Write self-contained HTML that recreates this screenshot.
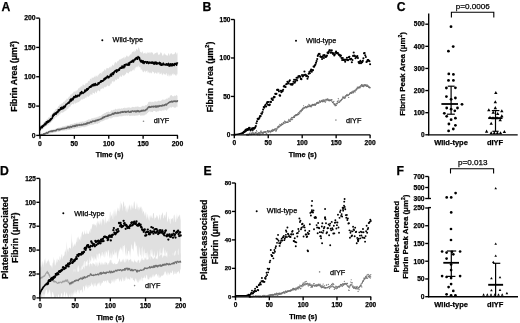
<!DOCTYPE html>
<html><head><meta charset="utf-8"><style>
html,body{margin:0;padding:0;background:#fff;width:520px;height:323px;overflow:hidden}
svg{display:block;font-family:"Liberation Sans",sans-serif;will-change:transform}
</style></head><body>
<svg width="520" height="323" viewBox="0 0 520 323">
<rect width="520" height="323" fill="#fff"/>
<text x="1.60" y="10.60" font-size="12.2" font-weight="bold" text-anchor="start" fill="#000" stroke="#000" stroke-width="0.25">A</text>
<text x="202.60" y="11.00" font-size="12.2" font-weight="bold" text-anchor="start" fill="#000" stroke="#000" stroke-width="0.25">B</text>
<text x="396.80" y="11.00" font-size="12.2" font-weight="bold" text-anchor="start" fill="#000" stroke="#000" stroke-width="0.25">C</text>
<text x="0.00" y="174.60" font-size="12.2" font-weight="bold" text-anchor="start" fill="#000" stroke="#000" stroke-width="0.25">D</text>
<text x="203.40" y="174.70" font-size="12.2" font-weight="bold" text-anchor="start" fill="#000" stroke="#000" stroke-width="0.25">E</text>
<text x="396.60" y="174.60" font-size="12.2" font-weight="bold" text-anchor="start" fill="#000" stroke="#000" stroke-width="0.25">F</text>
<polygon points="40.00,126.35 40.46,125.54 40.92,125.48 41.38,125.35 41.83,124.55 42.29,124.63 42.75,124.17 43.21,123.09 43.67,122.30 44.12,122.11 44.58,122.09 45.04,121.21 45.50,121.05 45.96,120.72 46.42,119.85 46.88,119.36 47.33,118.99 47.79,118.64 48.25,117.62 48.71,117.40 49.17,117.61 49.62,117.25 50.08,116.08 50.54,115.35 51.00,114.58 51.46,115.17 51.92,113.38 52.38,112.66 52.83,113.23 53.29,111.67 53.75,112.10 54.21,110.38 54.67,111.06 55.12,110.58 55.58,109.07 56.04,108.90 56.50,108.94 56.96,108.52 57.42,108.04 57.88,107.39 58.33,105.71 58.79,106.24 59.25,105.88 59.71,104.34 60.17,105.04 60.62,104.42 61.08,103.22 61.54,103.74 62.00,103.81 62.46,103.28 62.92,102.79 63.38,101.50 63.83,101.88 64.29,102.15 64.75,100.39 65.21,101.06 65.67,99.70 66.12,100.19 66.58,98.45 67.04,98.80 67.50,99.02 67.96,98.16 68.42,97.64 68.88,96.52 69.33,96.83 69.79,96.55 70.25,95.12 70.71,94.52 71.17,93.44 71.62,94.81 72.08,93.58 72.54,93.73 73.00,92.56 73.46,92.60 73.92,90.95 74.38,91.16 74.83,91.92 75.29,91.91 75.75,90.22 76.21,91.38 76.67,90.14 77.12,90.22 77.58,90.48 78.04,88.79 78.50,88.50 78.96,87.99 79.42,88.57 79.88,86.97 80.33,87.66 80.79,86.27 81.25,86.42 81.71,86.11 82.17,86.90 82.62,84.51 83.08,84.84 83.54,84.53 84.00,84.94 84.46,85.52 84.92,85.37 85.38,83.99 85.83,83.11 86.29,82.92 86.75,83.42 87.21,82.91 87.67,82.77 88.12,80.57 88.58,81.36 89.04,81.27 89.50,81.20 89.96,79.19 90.42,78.57 90.88,78.95 91.33,79.75 91.79,77.43 92.25,77.36 92.71,78.14 93.17,77.44 93.62,77.94 94.08,76.61 94.54,77.32 95.00,75.23 95.46,77.72 95.92,75.31 96.38,75.66 96.83,76.52 97.29,77.06 97.75,75.51 98.21,74.13 98.67,75.83 99.12,74.12 99.58,73.83 100.04,73.01 100.50,73.02 100.96,73.27 101.42,74.27 101.88,71.87 102.33,72.80 102.79,71.21 103.25,71.10 103.71,71.39 104.17,69.54 104.62,69.11 105.08,71.15 105.54,69.46 106.00,69.95 106.46,68.24 106.92,67.81 107.38,68.43 107.83,67.99 108.29,67.99 108.75,69.01 109.21,66.52 109.67,67.59 110.12,67.94 110.58,66.00 111.04,67.93 111.50,66.20 111.96,66.03 112.42,64.72 112.88,64.40 113.33,65.42 113.79,65.64 114.25,64.18 114.71,62.86 115.17,62.19 115.62,61.83 116.08,63.65 116.54,63.10 117.00,61.71 117.46,60.75 117.92,61.99 118.38,60.04 118.83,61.60 119.29,58.97 119.75,59.81 120.21,59.67 120.67,59.22 121.12,57.89 121.58,59.36 122.04,58.63 122.50,58.01 122.96,58.23 123.42,56.73 123.88,58.57 124.33,58.76 124.79,56.44 125.25,57.24 125.71,57.87 126.17,55.41 126.62,55.62 127.08,57.17 127.54,55.44 128.00,56.22 128.46,56.75 128.92,56.46 129.38,55.84 129.83,54.73 130.29,54.85 130.75,54.03 131.21,54.68 131.67,53.00 132.12,52.00 132.58,51.64 133.04,51.64 133.50,50.80 133.96,52.25 134.42,52.20 134.88,49.81 135.33,51.48 135.79,51.10 136.25,49.02 136.71,48.82 137.17,49.68 137.62,50.55 138.08,48.15 138.54,46.93 139.00,48.04 139.46,48.93 139.92,51.00 140.38,52.35 140.83,51.95 141.29,52.03 141.75,53.37 142.21,51.42 142.67,51.28 143.12,54.15 143.58,53.01 144.04,53.57 144.50,53.10 144.96,52.85 145.42,52.54 145.88,54.22 146.33,52.43 146.79,54.20 147.25,53.18 147.71,51.96 148.17,52.58 148.62,52.83 149.08,52.94 149.54,51.69 150.00,54.08 150.46,52.49 150.92,52.26 151.38,52.00 151.83,52.67 152.29,52.46 152.75,52.63 153.21,53.93 153.67,55.07 154.12,53.00 154.58,54.40 155.04,52.97 155.50,53.02 155.96,53.48 156.42,51.93 156.88,52.97 157.33,52.06 157.79,53.32 158.25,54.58 158.71,55.31 159.17,54.23 159.62,54.70 160.08,53.73 160.54,52.35 161.00,52.30 161.46,52.99 161.92,53.77 162.38,55.74 162.83,55.40 163.29,55.42 163.75,53.93 164.21,52.82 164.67,54.33 165.12,54.95 165.58,53.98 166.04,55.34 166.50,55.35 166.96,55.58 167.42,55.88 167.88,55.03 168.33,53.74 168.79,52.86 169.25,56.10 169.71,54.81 170.17,52.84 170.62,54.44 171.08,53.70 171.54,52.76 172.00,54.05 172.46,53.88 172.92,55.31 173.38,54.04 173.83,54.26 174.29,54.12 174.75,53.56 175.21,52.75 175.67,51.84 176.12,52.71 176.58,54.90 177.04,52.34 177.50,53.81 177.50,73.56 177.04,74.92 176.58,75.96 176.12,73.61 175.67,76.29 175.21,74.80 174.75,74.44 174.29,73.93 173.83,75.46 173.38,73.54 172.92,73.34 172.46,74.86 172.00,73.68 171.54,76.23 171.08,74.95 170.62,76.62 170.17,74.11 169.71,74.93 169.25,76.44 168.79,76.56 168.33,73.35 167.88,76.34 167.42,75.81 166.96,73.28 166.50,73.09 166.04,75.48 165.58,74.84 165.12,73.78 164.67,74.79 164.21,74.07 163.75,72.72 163.29,74.15 162.83,73.98 162.38,75.48 161.92,74.79 161.46,72.34 161.00,74.19 160.54,73.86 160.08,73.56 159.62,74.83 159.17,71.99 158.71,72.25 158.25,72.88 157.79,73.96 157.33,71.46 156.88,73.89 156.42,73.42 155.96,72.50 155.50,73.03 155.04,72.18 154.58,74.15 154.12,73.00 153.67,72.03 153.21,72.34 152.75,70.95 152.29,71.99 151.83,73.13 151.38,73.45 150.92,71.84 150.46,73.01 150.00,73.40 149.54,73.00 149.08,71.97 148.62,71.59 148.17,73.03 147.71,72.79 147.25,70.19 146.79,70.63 146.33,71.36 145.88,71.46 145.42,72.67 144.96,69.95 144.50,71.23 144.04,71.17 143.58,71.96 143.12,72.38 142.67,69.49 142.21,72.16 141.75,69.50 141.29,69.15 140.83,70.15 140.38,67.61 139.92,66.59 139.46,67.39 139.00,66.69 138.54,64.98 138.08,67.75 137.62,65.84 137.17,67.63 136.71,66.19 136.25,67.40 135.79,66.71 135.33,68.95 134.88,67.43 134.42,70.41 133.96,70.51 133.50,68.98 133.04,70.84 132.58,69.40 132.12,70.90 131.67,70.98 131.21,71.63 130.75,70.52 130.29,71.63 129.83,72.04 129.38,71.56 128.92,72.73 128.46,73.62 128.00,73.50 127.54,72.81 127.08,72.75 126.62,72.34 126.17,72.89 125.71,74.59 125.25,73.89 124.79,75.88 124.33,74.69 123.88,75.03 123.42,76.62 122.96,75.30 122.50,74.48 122.04,75.99 121.58,77.14 121.12,76.51 120.67,75.27 120.21,76.92 119.75,76.26 119.29,77.56 118.83,78.88 118.38,79.36 117.92,78.14 117.46,79.01 117.00,79.24 116.54,80.19 116.08,79.92 115.62,78.95 115.17,80.49 114.71,81.42 114.25,81.86 113.79,80.49 113.33,82.73 112.88,81.25 112.42,81.26 111.96,81.50 111.50,84.03 111.04,83.40 110.58,83.47 110.12,85.47 109.67,85.39 109.21,86.16 108.75,86.16 108.29,85.85 107.83,86.36 107.38,84.79 106.92,85.77 106.46,86.97 106.00,86.53 105.54,87.75 105.08,86.64 104.62,87.72 104.17,86.20 103.71,88.60 103.25,88.83 102.79,88.49 102.33,88.32 101.88,88.17 101.42,89.37 100.96,88.86 100.50,89.26 100.04,91.80 99.58,91.20 99.12,90.88 98.67,90.01 98.21,90.84 97.75,90.51 97.29,91.11 96.83,93.28 96.38,92.93 95.92,91.51 95.46,91.59 95.00,92.90 94.54,94.06 94.08,93.13 93.62,92.96 93.17,92.63 92.71,92.44 92.25,94.89 91.79,94.90 91.33,94.23 90.88,94.05 90.42,94.53 89.96,96.23 89.50,95.24 89.04,96.14 88.58,97.01 88.12,96.68 87.67,95.71 87.21,97.29 86.75,95.89 86.29,98.44 85.83,97.67 85.38,97.25 84.92,98.32 84.46,98.84 84.00,99.21 83.54,98.77 83.08,98.48 82.62,99.79 82.17,99.40 81.71,99.57 81.25,99.34 80.79,100.08 80.33,100.87 79.88,101.35 79.42,101.24 78.96,102.05 78.50,101.89 78.04,102.52 77.58,101.94 77.12,103.10 76.67,102.71 76.21,102.70 75.75,103.57 75.29,103.65 74.83,102.02 74.38,103.45 73.92,103.90 73.46,104.68 73.00,103.46 72.54,104.24 72.08,103.94 71.62,104.66 71.17,104.86 70.71,105.42 70.25,106.94 69.79,106.15 69.33,107.50 68.88,107.10 68.42,108.51 67.96,108.69 67.50,109.58 67.04,108.41 66.58,109.74 66.12,110.77 65.67,111.16 65.21,110.23 64.75,111.76 64.29,111.00 63.83,112.58 63.38,112.12 62.92,112.26 62.46,112.71 62.00,112.88 61.54,112.23 61.08,112.85 60.62,112.94 60.17,114.47 59.71,114.31 59.25,114.32 58.79,115.50 58.33,115.77 57.88,115.36 57.42,115.99 56.96,116.74 56.50,117.27 56.04,117.25 55.58,117.27 55.12,117.52 54.67,118.19 54.21,119.31 53.75,119.13 53.29,119.45 52.83,120.45 52.38,120.66 51.92,121.28 51.46,121.46 51.00,122.79 50.54,122.73 50.08,123.27 49.62,123.36 49.17,123.85 48.71,124.71 48.25,125.33 47.79,124.80 47.33,125.53 46.88,125.79 46.42,126.30 45.96,126.23 45.50,126.40 45.04,126.63 44.58,127.00 44.12,128.00 43.67,128.74 43.21,128.26 42.75,129.39 42.29,129.29 41.83,130.04 41.38,130.09 40.92,130.46 40.46,130.67 40.00,131.05" fill="#dedede" stroke="none" opacity="1.0"/>
<polygon points="40.00,134.24 40.46,133.97 40.92,134.06 41.38,133.76 41.83,133.38 42.29,133.25 42.75,133.25 43.21,133.05 43.67,132.91 44.12,132.71 44.58,132.40 45.04,131.97 45.50,132.16 45.96,131.75 46.42,131.31 46.88,131.57 47.33,131.37 47.79,130.92 48.25,130.69 48.71,130.78 49.17,130.51 49.62,130.27 50.08,130.25 50.54,129.93 51.00,129.65 51.46,129.87 51.92,129.54 52.38,129.74 52.83,129.46 53.29,129.06 53.75,129.40 54.21,129.02 54.67,129.01 55.12,128.78 55.58,128.83 56.04,128.64 56.50,128.60 56.96,128.26 57.42,128.32 57.88,128.08 58.33,127.76 58.79,127.62 59.25,127.71 59.71,127.43 60.17,127.02 60.62,127.42 61.08,126.73 61.54,126.98 62.00,126.99 62.46,126.15 62.92,126.37 63.38,126.39 63.83,125.89 64.29,126.24 64.75,125.94 65.21,126.00 65.67,125.39 66.12,125.76 66.58,125.67 67.04,125.36 67.50,125.10 67.96,125.34 68.42,124.89 68.88,125.25 69.33,124.90 69.79,124.77 70.25,124.56 70.71,124.11 71.17,124.12 71.62,124.14 72.08,123.83 72.54,124.09 73.00,123.61 73.46,124.13 73.92,123.19 74.38,123.06 74.83,123.27 75.29,123.29 75.75,123.19 76.21,122.53 76.67,122.77 77.12,123.04 77.58,122.38 78.04,122.72 78.50,122.55 78.96,122.63 79.42,122.38 79.88,121.85 80.33,121.58 80.79,122.38 81.25,121.88 81.71,121.56 82.17,121.89 82.62,121.10 83.08,121.59 83.54,121.65 84.00,121.54 84.46,121.16 84.92,121.38 85.38,120.77 85.83,120.97 86.29,120.19 86.75,120.68 87.21,119.96 87.67,119.89 88.12,119.42 88.58,119.56 89.04,119.35 89.50,119.43 89.96,119.48 90.42,119.40 90.88,119.22 91.33,118.46 91.79,118.16 92.25,118.62 92.71,117.94 93.17,118.66 93.62,117.75 94.08,117.70 94.54,117.76 95.00,117.87 95.46,117.77 95.92,117.18 96.38,117.73 96.83,116.75 97.29,117.65 97.75,116.49 98.21,116.83 98.67,116.66 99.12,115.78 99.58,116.29 100.04,116.27 100.50,116.05 100.96,115.64 101.42,115.25 101.88,115.15 102.33,114.11 102.79,114.77 103.25,114.02 103.71,113.80 104.17,113.23 104.62,113.19 105.08,112.98 105.54,113.07 106.00,112.54 106.46,112.11 106.92,112.02 107.38,111.73 107.83,112.20 108.29,111.81 108.75,111.35 109.21,112.14 109.67,111.94 110.12,111.86 110.58,111.56 111.04,110.76 111.50,110.15 111.96,109.99 112.42,110.73 112.88,110.24 113.33,109.71 113.79,109.81 114.25,110.02 114.71,109.38 115.17,108.79 115.62,108.79 116.08,109.54 116.54,109.07 117.00,109.77 117.46,109.08 117.92,108.55 118.38,109.13 118.83,108.36 119.29,108.79 119.75,108.53 120.21,108.81 120.67,108.70 121.12,108.98 121.58,107.79 122.04,108.67 122.50,108.80 122.96,108.00 123.42,108.05 123.88,107.93 124.33,108.23 124.79,107.21 125.25,107.86 125.71,108.29 126.17,108.21 126.62,107.95 127.08,107.11 127.54,107.93 128.00,107.81 128.46,107.41 128.92,107.34 129.38,107.91 129.83,106.82 130.29,107.96 130.75,107.77 131.21,107.81 131.67,107.18 132.12,107.22 132.58,106.64 133.04,106.64 133.50,107.30 133.96,106.89 134.42,107.56 134.88,106.80 135.33,106.85 135.79,106.72 136.25,107.29 136.71,106.36 137.17,107.07 137.62,106.25 138.08,106.30 138.54,107.05 139.00,106.86 139.46,107.37 139.92,106.93 140.38,107.17 140.83,106.73 141.29,106.34 141.75,107.00 142.21,105.84 142.67,105.68 143.12,106.52 143.58,105.62 144.04,106.14 144.50,106.56 144.96,105.29 145.42,105.49 145.88,104.86 146.33,104.90 146.79,105.42 147.25,104.18 147.71,103.93 148.17,102.51 148.62,101.78 149.08,102.22 149.54,101.69 150.00,101.56 150.46,101.68 150.92,101.92 151.38,102.54 151.83,101.53 152.29,101.94 152.75,101.64 153.21,101.63 153.67,102.20 154.12,102.43 154.58,100.93 155.04,101.52 155.50,100.85 155.96,102.16 156.42,100.93 156.88,101.99 157.33,101.13 157.79,101.18 158.25,100.75 158.71,100.64 159.17,100.51 159.62,101.45 160.08,100.53 160.54,101.36 161.00,100.67 161.46,100.29 161.92,100.24 162.38,99.45 162.83,99.39 163.29,99.16 163.75,100.19 164.21,99.44 164.67,100.18 165.12,98.66 165.58,100.01 166.04,98.69 166.50,98.24 166.96,99.16 167.42,99.00 167.88,97.38 168.33,97.57 168.79,98.05 169.25,97.93 169.71,96.75 170.17,95.48 170.62,95.59 171.08,95.36 171.54,94.92 172.00,95.50 172.46,96.47 172.92,95.90 173.38,96.36 173.83,96.38 174.29,96.05 174.75,95.31 175.21,95.79 175.67,96.23 176.12,94.76 176.58,95.27 177.04,95.46 177.50,95.88 177.50,107.43 177.04,106.55 176.58,106.50 176.12,107.52 175.67,108.14 175.21,106.97 174.75,107.21 174.29,108.14 173.83,107.40 173.38,106.97 172.92,106.44 172.46,107.06 172.00,107.29 171.54,107.77 171.08,107.49 170.62,107.01 170.17,107.45 169.71,108.54 169.25,107.34 168.79,107.93 168.33,108.78 167.88,109.90 167.42,108.67 166.96,110.65 166.50,110.50 166.04,110.38 165.58,109.99 165.12,109.38 164.67,109.56 164.21,110.72 163.75,111.20 163.29,109.67 162.83,110.21 162.38,110.26 161.92,111.58 161.46,110.84 161.00,110.53 160.54,110.90 160.08,110.73 159.62,110.21 159.17,111.02 158.71,110.83 158.25,111.85 157.79,111.71 157.33,111.04 156.88,111.31 156.42,112.32 155.96,112.06 155.50,111.56 155.04,110.88 154.58,110.91 154.12,110.75 153.67,110.83 153.21,111.31 152.75,112.17 152.29,112.03 151.83,111.98 151.38,111.42 150.92,112.40 150.46,111.64 150.00,110.82 149.54,111.41 149.08,111.70 148.62,112.29 148.17,111.93 147.71,113.18 147.25,113.01 146.79,113.84 146.33,114.21 145.88,115.10 145.42,114.29 144.96,114.42 144.50,115.30 144.04,115.73 143.58,115.71 143.12,114.82 142.67,115.37 142.21,115.99 141.75,114.94 141.29,116.06 140.83,115.39 140.38,115.94 139.92,114.92 139.46,114.87 139.00,114.80 138.54,115.13 138.08,115.40 137.62,115.01 137.17,116.27 136.71,116.02 136.25,114.89 135.79,115.40 135.33,115.81 134.88,115.66 134.42,115.71 133.96,116.05 133.50,115.48 133.04,115.54 132.58,115.65 132.12,115.68 131.67,115.92 131.21,115.29 130.75,116.24 130.29,115.66 129.83,116.01 129.38,116.21 128.92,115.20 128.46,115.18 128.00,115.81 127.54,116.02 127.08,115.52 126.62,115.61 126.17,115.58 125.71,115.69 125.25,115.79 124.79,115.62 124.33,115.69 123.88,115.77 123.42,116.12 122.96,115.58 122.50,116.40 122.04,116.01 121.58,116.50 121.12,116.27 120.67,116.42 120.21,115.95 119.75,116.41 119.29,116.00 118.83,117.10 118.38,116.34 117.92,116.89 117.46,116.90 117.00,116.28 116.54,116.91 116.08,117.28 115.62,116.60 115.17,117.17 114.71,117.48 114.25,116.51 113.79,116.95 113.33,117.24 112.88,117.11 112.42,118.17 111.96,117.18 111.50,118.23 111.04,118.65 110.58,118.45 110.12,118.05 109.67,117.96 109.21,118.17 108.75,118.35 108.29,119.27 107.83,118.99 107.38,119.47 106.92,119.63 106.46,119.54 106.00,119.43 105.54,119.86 105.08,119.86 104.62,120.14 104.17,120.40 103.71,120.79 103.25,120.76 102.79,121.25 102.33,121.37 101.88,121.24 101.42,121.32 100.96,122.14 100.50,121.72 100.04,122.10 99.58,122.97 99.12,123.13 98.67,122.54 98.21,123.44 97.75,123.75 97.29,123.98 96.83,123.73 96.38,123.53 95.92,123.53 95.46,123.89 95.00,123.97 94.54,123.94 94.08,124.20 93.62,124.51 93.17,124.65 92.71,124.40 92.25,125.09 91.79,124.90 91.33,124.70 90.88,124.59 90.42,125.26 89.96,124.96 89.50,125.34 89.04,125.43 88.58,125.60 88.12,125.95 87.67,126.20 87.21,126.06 86.75,126.35 86.29,126.79 85.83,126.54 85.38,127.07 84.92,126.82 84.46,127.16 84.00,127.45 83.54,127.03 83.08,126.95 82.62,126.75 82.17,127.14 81.71,127.22 81.25,127.14 80.79,127.51 80.33,127.46 79.88,127.82 79.42,127.92 78.96,127.41 78.50,128.05 78.04,127.85 77.58,127.91 77.12,128.14 76.67,128.32 76.21,128.48 75.75,128.23 75.29,128.13 74.83,128.87 74.38,129.08 73.92,129.07 73.46,129.08 73.00,129.04 72.54,128.96 72.08,129.24 71.62,129.61 71.17,129.28 70.71,129.84 70.25,129.64 69.79,130.02 69.33,129.46 68.88,130.07 68.42,129.98 67.96,129.69 67.50,129.72 67.04,130.19 66.58,130.46 66.12,130.47 65.67,129.97 65.21,130.66 64.75,130.48 64.29,130.47 63.83,130.63 63.38,130.81 62.92,130.32 62.46,131.15 62.00,130.96 61.54,130.61 61.08,130.95 60.62,131.00 60.17,131.56 59.71,131.14 59.25,131.76 58.79,131.88 58.33,131.97 57.88,131.61 57.42,131.83 56.96,132.04 56.50,131.90 56.04,132.28 55.58,132.28 55.12,132.51 54.67,132.39 54.21,132.54 53.75,132.83 53.29,132.72 52.83,132.83 52.38,132.76 51.92,133.11 51.46,133.03 51.00,133.30 50.54,133.57 50.08,133.13 49.62,133.48 49.17,133.54 48.71,133.86 48.25,133.61 47.79,133.82 47.33,134.05 46.88,134.26 46.42,134.68 45.96,134.40 45.50,134.96 45.04,134.67 44.58,135.01 44.12,135.30 43.67,135.40 43.21,135.40 42.75,135.40 42.29,135.40 41.83,135.40 41.38,135.40 40.92,135.40 40.46,135.40 40.00,135.40" fill="#dedede" stroke="none" opacity="1.0"/>
<polyline points="40.00,135.40 40.46,135.01 40.92,134.84 41.38,134.48 41.83,135.09 42.29,134.86 42.75,134.79 43.21,134.53 43.67,133.76 44.12,134.30 44.58,133.65 45.04,133.86 45.50,133.59 45.96,133.26 46.42,132.61 46.88,132.71 47.33,133.23 47.79,132.76 48.25,132.74 48.71,131.71 49.17,131.66 49.62,131.55 50.08,131.41 50.54,131.39 51.00,131.03 51.46,131.10 51.92,131.62 52.38,130.80 52.83,131.12 53.29,130.69 53.75,130.79 54.21,130.84 54.67,130.80 55.12,130.60 55.58,130.63 56.04,130.74 56.50,129.80 56.96,129.71 57.42,129.37 57.88,129.60 58.33,129.64 58.79,129.29 59.25,129.90 59.71,129.14 60.17,129.30 60.62,129.49 61.08,129.35 61.54,128.85 62.00,129.05 62.46,128.69 62.92,128.40 63.38,128.55 63.83,128.77 64.29,128.26 64.75,128.46 65.21,128.37 65.67,128.33 66.12,128.04 66.58,128.29 67.04,127.53 67.50,127.08 67.96,127.65 68.42,127.18 68.88,126.83 69.33,127.79 69.79,127.58 70.25,126.71 70.71,126.56 71.17,126.69 71.62,127.14 72.08,126.73 72.54,126.08 73.00,125.95 73.46,125.93 73.92,126.53 74.38,125.65 74.83,126.10 75.29,125.59 75.75,126.16 76.21,125.07 76.67,125.39 77.12,125.13 77.58,125.63 78.04,125.07 78.50,125.03 78.96,124.94 79.42,125.13 79.88,124.62 80.33,124.99 80.79,124.96 81.25,125.03 81.71,124.34 82.17,124.93 82.62,124.71 83.08,124.81 83.54,124.06 84.00,124.08 84.46,124.01 84.92,124.49 85.38,123.87 85.83,123.83 86.29,123.98 86.75,123.93 87.21,122.62 87.67,123.50 88.12,123.14 88.58,123.03 89.04,122.49 89.50,122.95 89.96,122.34 90.42,122.32 90.88,121.62 91.33,122.44 91.79,121.91 92.25,121.60 92.71,120.93 93.17,121.35 93.62,121.29 94.08,120.95 94.54,121.28 95.00,121.48 95.46,120.82 95.92,120.23 96.38,120.32 96.83,120.77 97.29,120.16 97.75,119.74 98.21,120.21 98.67,119.59 99.12,119.64 99.58,119.55 100.04,119.27 100.50,119.14 100.96,118.75 101.42,118.89 101.88,118.24 102.33,118.38 102.79,117.37 103.25,117.33 103.71,117.80 104.17,116.67 104.62,117.13 105.08,116.59 105.54,116.34 106.00,116.44 106.46,116.33 106.92,116.00 107.38,116.19 107.83,115.18 108.29,115.90 108.75,114.91 109.21,115.46 109.67,115.20 110.12,114.94 110.58,115.19 111.04,114.92 111.50,114.49 111.96,114.23 112.42,113.56 112.88,113.27 113.33,114.22 113.79,113.48 114.25,113.80 114.71,112.85 115.17,113.33 115.62,112.60 116.08,112.95 116.54,113.38 117.00,113.47 117.46,113.12 117.92,112.33 118.38,113.12 118.83,112.67 119.29,112.74 119.75,112.71 120.21,112.11 120.67,112.74 121.12,112.09 121.58,112.09 122.04,111.72 122.50,112.14 122.96,111.62 123.42,112.12 123.88,111.90 124.33,111.79 124.79,111.48 125.25,111.39 125.71,112.29 126.17,112.24 126.62,111.75 127.08,111.40 127.54,111.71 128.00,111.96 128.46,111.16 128.92,111.92 129.38,112.15 129.83,112.17 130.29,112.17 130.75,111.33 131.21,112.04 131.67,111.30 132.12,111.10 132.58,110.92 133.04,111.13 133.50,111.56 133.96,111.30 134.42,111.03 134.88,111.14 135.33,111.61 135.79,111.02 136.25,111.76 136.71,111.49 137.17,110.65 137.62,111.24 138.08,111.44 138.54,110.80 139.00,111.16 139.46,111.65 139.92,111.59 140.38,111.29 140.83,111.17 141.29,110.43 141.75,111.21 142.21,110.47 142.67,110.43 143.12,110.91 143.58,110.20 144.04,110.44 144.50,110.73 144.96,110.77 145.42,110.28 145.88,109.51 146.33,109.68 146.79,109.61 147.25,108.71 147.71,107.90 148.17,107.55 148.62,106.91 149.08,107.51 149.54,106.56 150.00,107.29 150.46,107.35 150.92,106.75 151.38,107.05 151.83,106.35 152.29,106.77 152.75,106.72 153.21,106.32 153.67,107.02 154.12,106.37 154.58,106.46 155.04,106.69 155.50,106.04 155.96,107.11 156.42,106.10 156.88,106.91 157.33,106.02 157.79,106.73 158.25,106.76 158.71,106.14 159.17,105.55 159.62,106.24 160.08,105.88 160.54,105.65 161.00,105.98 161.46,105.55 161.92,106.07 162.38,105.46 162.83,105.01 163.29,105.41 163.75,105.46 164.21,105.56 164.67,104.71 165.12,104.94 165.58,104.27 166.04,104.38 166.50,105.04 166.96,103.97 167.42,103.58 167.88,103.34 168.33,102.96 168.79,102.76 169.25,102.35 169.71,102.04 170.17,101.76 170.62,101.79 171.08,101.92 171.54,101.22 172.00,101.36 172.46,101.99 172.92,101.29 173.38,101.32 173.83,101.43 174.29,101.12 174.75,100.99 175.21,101.56 175.67,101.05 176.12,101.41 176.58,101.31 177.04,101.49 177.50,100.88" fill="none" stroke="#666" stroke-width="1.5" stroke-linejoin="round" stroke-linecap="round" opacity="1.0"/>
<polyline points="40.00,129.72 40.46,127.75 40.92,127.53 41.38,126.39 41.83,127.84 42.29,127.52 42.75,125.81 43.21,125.56 43.67,126.06 44.12,124.58 44.58,124.89 45.04,123.41 45.50,124.73 45.96,123.99 46.42,121.78 46.88,122.90 47.33,122.81 47.79,121.00 48.25,121.12 48.71,122.07 49.17,120.64 49.62,120.00 50.08,120.80 50.54,118.92 51.00,119.77 51.46,118.63 51.92,118.74 52.38,117.84 52.83,115.18 53.29,116.17 53.75,114.12 54.21,115.16 54.67,114.24 55.12,113.07 55.58,113.11 56.04,114.21 56.50,112.46 56.96,111.89 57.42,112.65 57.88,112.42 58.33,109.86 58.79,110.37 59.25,110.78 59.71,109.62 60.17,109.80 60.62,107.84 61.08,108.40 61.54,109.24 62.00,107.07 62.46,108.80 62.92,108.05 63.38,108.49 63.83,106.33 64.29,107.64 64.75,106.08 65.21,106.80 65.67,105.30 66.12,104.30 66.58,104.25 67.04,104.02 67.50,103.49 67.96,103.16 68.42,102.29 68.88,103.19 69.33,101.71 69.79,101.91 70.25,99.76 70.71,99.11 71.17,101.01 71.62,100.45 72.08,98.59 72.54,98.60 73.00,99.75 73.46,97.55 73.92,96.56 74.38,97.62 74.83,97.49 75.29,96.66 75.75,95.44 76.21,97.03 76.67,96.70 77.12,96.78 77.58,95.36 78.04,95.56 78.50,95.89 78.96,95.19 79.42,95.79 79.88,94.70 80.33,92.55 80.79,93.27 81.25,93.74 81.71,91.63 82.17,92.89 82.62,92.95 83.08,93.31 83.54,92.78 84.00,92.42 84.46,92.11 84.92,90.15 85.38,91.56 85.83,91.32 86.29,90.02 86.75,88.84 87.21,90.18 87.67,88.58 88.12,89.30 88.58,88.44 89.04,88.01 89.50,86.72 89.96,86.87 90.42,87.19 90.88,85.93 91.33,86.86 91.79,86.46 92.25,84.55 92.71,85.32 93.17,84.54 93.62,85.67 94.08,83.94 94.54,84.64 95.00,85.51 95.46,83.55 95.92,84.69 96.38,84.92 96.83,84.84 97.29,84.99 97.75,84.44 98.21,82.82 98.67,84.02 99.12,83.42 99.58,82.62 100.04,82.07 100.50,82.16 100.96,80.72 101.42,81.80 101.88,81.15 102.33,80.65 102.79,81.11 103.25,80.51 103.71,80.37 104.17,78.46 104.62,79.67 105.08,77.96 105.54,78.94 106.00,77.56 106.46,77.30 106.92,77.89 107.38,76.10 107.83,76.61 108.29,76.65 108.75,77.80 109.21,76.60 109.67,76.75 110.12,75.91 110.58,74.32 111.04,74.16 111.50,75.97 111.96,73.96 112.42,72.93 112.88,73.64 113.33,74.49 113.79,72.07 114.25,72.91 114.71,71.07 115.17,71.01 115.62,70.79 116.08,70.17 116.54,72.16 117.00,69.85 117.46,70.83 117.92,70.95 118.38,69.94 118.83,69.04 119.29,70.27 119.75,68.73 120.21,67.58 120.67,68.12 121.12,67.80 121.58,68.20 122.04,66.15 122.50,67.87 122.96,66.47 123.42,66.33 123.88,67.84 124.33,64.92 124.79,66.74 125.25,64.49 125.71,64.43 126.17,64.27 126.62,64.17 127.08,65.18 127.54,64.83 128.00,64.87 128.46,63.05 128.92,65.28 129.38,64.76 129.83,62.30 130.29,62.36 130.75,62.29 131.21,61.24 131.67,62.09 132.12,60.91 132.58,61.63 133.04,60.05 133.50,61.95 133.96,60.61 134.42,59.90 134.88,58.98 135.33,59.67 135.79,58.67 136.25,57.58 136.71,58.75 137.17,59.03 137.62,59.18 138.08,56.62 138.54,57.35 139.00,57.28 139.46,57.82 139.92,60.00 140.38,60.84 140.83,61.82 141.29,61.92 141.75,60.43 142.21,62.24 142.67,62.81 143.12,60.86 143.58,61.84 144.04,63.42 144.50,61.83 144.96,61.84 145.42,61.97 145.88,61.66 146.33,62.64 146.79,63.20 147.25,61.83 147.71,62.18 148.17,62.00 148.62,63.43 149.08,62.95 149.54,62.12 150.00,62.98 150.46,62.42 150.92,62.80 151.38,62.07 151.83,63.19 152.29,62.83 152.75,61.99 153.21,63.44 153.67,63.85 154.12,62.66 154.58,64.07 155.04,62.17 155.50,63.79 155.96,62.14 156.42,63.19 156.88,64.26 157.33,63.33 157.79,62.94 158.25,63.52 158.71,63.17 159.17,63.94 159.62,62.41 160.08,64.59 160.54,62.98 161.00,65.14 161.46,63.91 161.92,65.17 162.38,65.07 162.83,63.91 163.29,63.13 163.75,64.80 164.21,64.62 164.67,64.50 165.12,64.22 165.58,64.98 166.04,65.05 166.50,63.77 166.96,64.64 167.42,65.18 167.88,63.93 168.33,63.44 168.79,64.97 169.25,66.09 169.71,65.31 170.17,63.71 170.62,65.67 171.08,65.60 171.54,64.00 172.00,65.79 172.46,63.73 172.92,65.34 173.38,64.83 173.83,64.20 174.29,65.42 174.75,63.56 175.21,64.39 175.67,63.42 176.12,63.36 176.58,65.14 177.04,63.05 177.50,62.98" fill="none" stroke="#000" stroke-width="1.6" stroke-linejoin="round" stroke-linecap="round" opacity="1.0"/>
<line x1="39.60" y1="18.30" x2="39.60" y2="135.95" stroke="#000" stroke-width="1.35" stroke-linecap="butt"/>
<line x1="39.05" y1="135.40" x2="177.90" y2="135.40" stroke="#000" stroke-width="1.35" stroke-linecap="butt"/>
<line x1="36.20" y1="135.40" x2="39.60" y2="135.40" stroke="#000" stroke-width="1.35" stroke-linecap="butt"/>
<text x="35.60" y="137.78" font-size="6.8" font-weight="bold" text-anchor="end" fill="#000" stroke="#000" stroke-width="0.25">0</text>
<line x1="36.20" y1="106.08" x2="39.60" y2="106.08" stroke="#000" stroke-width="1.35" stroke-linecap="butt"/>
<text x="35.60" y="108.45" font-size="6.8" font-weight="bold" text-anchor="end" fill="#000" stroke="#000" stroke-width="0.25">50</text>
<line x1="36.20" y1="76.75" x2="39.60" y2="76.75" stroke="#000" stroke-width="1.35" stroke-linecap="butt"/>
<text x="35.60" y="79.13" font-size="6.8" font-weight="bold" text-anchor="end" fill="#000" stroke="#000" stroke-width="0.25">100</text>
<line x1="36.20" y1="47.42" x2="39.60" y2="47.42" stroke="#000" stroke-width="1.35" stroke-linecap="butt"/>
<text x="35.60" y="49.80" font-size="6.8" font-weight="bold" text-anchor="end" fill="#000" stroke="#000" stroke-width="0.25">150</text>
<line x1="36.20" y1="18.10" x2="39.60" y2="18.10" stroke="#000" stroke-width="1.35" stroke-linecap="butt"/>
<text x="35.60" y="20.48" font-size="6.8" font-weight="bold" text-anchor="end" fill="#000" stroke="#000" stroke-width="0.25">200</text>
<line x1="40.00" y1="135.40" x2="40.00" y2="138.80" stroke="#000" stroke-width="1.35" stroke-linecap="butt"/>
<text x="40.00" y="145.50" font-size="6.8" font-weight="bold" text-anchor="middle" fill="#000" stroke="#000" stroke-width="0.25">0</text>
<line x1="74.38" y1="135.40" x2="74.38" y2="138.80" stroke="#000" stroke-width="1.35" stroke-linecap="butt"/>
<text x="74.38" y="145.50" font-size="6.8" font-weight="bold" text-anchor="middle" fill="#000" stroke="#000" stroke-width="0.25">50</text>
<line x1="108.75" y1="135.40" x2="108.75" y2="138.80" stroke="#000" stroke-width="1.35" stroke-linecap="butt"/>
<text x="108.75" y="145.50" font-size="6.8" font-weight="bold" text-anchor="middle" fill="#000" stroke="#000" stroke-width="0.25">100</text>
<line x1="143.12" y1="135.40" x2="143.12" y2="138.80" stroke="#000" stroke-width="1.35" stroke-linecap="butt"/>
<text x="143.12" y="145.50" font-size="6.8" font-weight="bold" text-anchor="middle" fill="#000" stroke="#000" stroke-width="0.25">150</text>
<line x1="177.50" y1="135.40" x2="177.50" y2="138.80" stroke="#000" stroke-width="1.35" stroke-linecap="butt"/>
<text x="177.50" y="145.50" font-size="6.8" font-weight="bold" text-anchor="middle" fill="#000" stroke="#000" stroke-width="0.25">200</text>
<text x="109.60" y="157.30" font-size="7.3" font-weight="bold" text-anchor="middle" fill="#000" stroke="#000" stroke-width="0.25">Time (s)</text>
<text x="17.00" y="76.40" font-size="8.8" font-weight="bold" text-anchor="middle" fill="#000" stroke="#000" stroke-width="0.25" transform="rotate(-90 17.00 76.40)">Fibrin Area (μm<tspan font-size="5.46" dy="-3.17">2</tspan><tspan dy="3.17">)</tspan></text>
<circle cx="102.3" cy="40.2" r="1.0" fill="#000"/>
<text x="112.60" y="42.30" font-size="7.3" font-weight="normal" text-anchor="start" fill="#000" stroke="#000" stroke-width="0.25">Wild-type</text>
<circle cx="143.5" cy="121.3" r="0.8" fill="#888"/>
<text x="153.80" y="123.00" font-size="7.3" font-weight="normal" text-anchor="start" fill="#000" stroke="#000" stroke-width="0.25">dIYF</text>
<polyline points="246.52,134.28 246.93,134.54 247.35,134.35 247.76,134.07 248.17,134.90 248.58,134.36 248.99,133.89 249.41,133.89 249.82,134.29 250.23,134.86 250.64,134.43 251.05,133.48 251.47,134.79 251.88,134.40 252.29,133.38 252.70,134.09 253.11,134.41 253.52,134.18 253.94,133.22 254.35,134.04 254.76,133.84 255.17,133.45 255.58,133.10 256.00,133.51 256.41,134.06 256.82,133.23 257.23,133.98 257.64,133.81 258.06,133.58 258.47,132.73 258.88,133.29 259.29,132.59 259.70,133.34 260.12,133.34 260.53,133.42 260.94,132.30 261.35,132.00 261.76,132.91 262.18,132.82 262.59,133.10 263.00,132.06 263.41,132.52 263.82,132.70 264.23,131.85 264.65,131.86 265.06,132.03 265.47,132.43 265.88,131.62 266.29,131.70 266.71,131.83 267.12,132.18 267.53,130.95 267.94,131.00 268.35,131.21 268.77,130.68 269.18,131.27 269.59,131.57 270.00,131.87 270.41,131.06 270.83,131.13 271.24,131.21 271.65,130.29 272.06,130.33 272.47,131.24 272.89,129.86 273.30,131.02 273.71,129.82 274.12,130.14 274.53,129.30 274.94,128.75 275.36,129.20 275.77,128.65 276.18,129.54 276.59,128.32 277.00,128.82 277.42,127.95 277.83,127.79 278.24,127.84 278.65,126.45 279.06,127.11 279.48,126.54 279.89,126.49 280.30,125.29 280.71,125.54 281.12,125.62 281.54,125.34 281.95,124.73 282.36,123.98 282.77,124.43 283.18,124.10 283.60,122.95 284.01,123.01 284.42,123.46 284.83,123.03 285.24,123.16 285.66,122.77 286.07,122.45 286.48,122.55 286.89,122.43 287.30,122.21 287.71,121.74 288.13,120.99 288.54,120.13 288.95,120.14 289.36,120.10 289.77,120.43 290.19,119.79 290.60,118.75 291.01,118.75 291.42,117.76 291.83,117.39 292.25,118.07 292.66,117.69 293.07,117.52 293.48,116.67 293.89,117.29 294.31,116.75 294.72,115.55 295.13,116.06 295.54,114.87 295.95,115.49 296.37,114.54 296.78,114.84 297.19,115.13 297.60,114.02 298.01,114.16 298.42,112.65 298.84,112.56 299.25,112.40 299.66,111.37 300.07,111.52 300.48,110.45 300.90,110.41 301.31,110.81 301.72,110.21 302.13,108.94 302.54,109.66 302.96,107.88 303.37,108.96 303.78,107.74 304.19,107.80 304.60,108.00 305.02,107.56 305.43,107.45 305.84,107.66 306.25,107.65 306.66,107.87 307.08,106.80 307.49,106.32 307.90,106.96 308.31,106.09 308.72,106.66 309.13,106.75 309.55,105.77 309.96,105.43 310.37,106.57 310.78,105.22 311.19,105.93 311.61,105.08 312.02,105.68 312.43,104.46 312.84,105.32 313.25,105.38 313.67,105.47 314.08,105.20 314.49,105.09 314.90,103.67 315.31,104.59 315.73,104.14 316.14,103.69 316.55,103.64 316.96,102.47 317.37,103.45 317.79,102.22 318.20,102.53 318.61,102.65 319.02,102.32 319.43,101.67 319.84,101.90 320.26,101.48 320.67,101.29 321.08,100.86 321.49,100.41 321.90,100.85 322.32,100.23 322.73,99.99 323.14,100.56 323.55,99.77 323.96,100.74 324.38,100.03 324.79,100.18 325.20,100.45 325.61,99.56 326.02,99.19 326.44,99.68 326.85,99.80 327.26,98.88 327.67,98.68 328.08,99.17 328.50,99.48 328.91,99.58 329.32,99.69 329.73,99.94 330.14,100.37 330.56,100.26 330.97,100.48 331.38,100.85 331.79,101.24 332.20,101.80 332.61,102.57 333.03,102.64 333.44,103.48 333.85,103.75 334.26,104.73 334.67,104.14 335.09,105.86 335.50,104.55 335.91,104.62 336.32,103.68 336.73,103.32 337.15,104.00 337.56,103.43 337.97,101.91 338.38,102.01 338.79,102.49 339.21,101.80 339.62,101.72 340.03,101.06 340.44,101.07 340.85,100.78 341.27,100.43 341.68,99.43 342.09,98.72 342.50,98.70 342.91,98.11 343.32,97.79 343.74,98.25 344.15,97.03 344.56,97.06 344.97,96.92 345.38,95.82 345.80,96.33 346.21,95.71 346.62,95.30 347.03,95.49 347.44,95.73 347.86,95.40 348.27,94.98 348.68,94.87 349.09,94.28 349.50,94.52 349.92,93.18 350.33,92.91 350.74,92.83 351.15,93.36 351.56,92.92 351.98,91.60 352.39,91.36 352.80,91.30 353.21,90.81 353.62,91.55 354.03,91.14 354.45,90.64 354.86,90.30 355.27,90.20 355.68,90.10 356.09,88.95 356.51,89.64 356.92,88.77 357.33,88.12 357.74,88.86 358.15,88.30 358.57,87.96 358.98,87.83 359.39,86.58 359.80,86.36 360.21,87.24 360.63,87.06 361.04,85.97 361.45,85.84 361.86,86.28 362.27,84.73 362.69,84.70 363.10,85.18 363.51,85.91 363.92,85.75 364.33,84.76 364.74,85.00 365.16,85.37 365.57,84.61 365.98,85.98 366.39,85.00 366.80,84.77 367.22,84.78 367.63,86.17 368.04,85.69 368.45,86.36 368.86,86.72 369.28,87.90 369.69,87.11 370.10,87.56" fill="none" stroke="#8a8a8a" stroke-width="1.1" stroke-linejoin="round" stroke-linecap="round" opacity="1.0"/>
<circle cx="246.52" cy="134.90" r="0.55" fill="#6a6a6a"/>
<circle cx="247.00" cy="134.90" r="0.55" fill="#6a6a6a"/>
<circle cx="247.47" cy="134.90" r="0.55" fill="#6a6a6a"/>
<circle cx="247.95" cy="134.90" r="0.55" fill="#6a6a6a"/>
<circle cx="248.42" cy="134.90" r="0.55" fill="#6a6a6a"/>
<circle cx="248.90" cy="134.87" r="0.55" fill="#6a6a6a"/>
<circle cx="249.37" cy="133.24" r="0.55" fill="#6a6a6a"/>
<circle cx="249.85" cy="133.14" r="0.55" fill="#6a6a6a"/>
<circle cx="250.32" cy="130.81" r="0.55" fill="#6a6a6a"/>
<circle cx="250.80" cy="131.72" r="0.55" fill="#6a6a6a"/>
<circle cx="251.28" cy="133.10" r="0.55" fill="#6a6a6a"/>
<circle cx="251.75" cy="133.74" r="0.55" fill="#6a6a6a"/>
<circle cx="252.23" cy="132.28" r="0.55" fill="#6a6a6a"/>
<circle cx="252.70" cy="131.70" r="0.55" fill="#6a6a6a"/>
<circle cx="253.18" cy="132.61" r="0.55" fill="#6a6a6a"/>
<circle cx="253.65" cy="133.62" r="0.55" fill="#6a6a6a"/>
<circle cx="254.13" cy="134.44" r="0.55" fill="#6a6a6a"/>
<circle cx="254.60" cy="134.32" r="0.55" fill="#6a6a6a"/>
<circle cx="255.08" cy="132.26" r="0.55" fill="#6a6a6a"/>
<circle cx="255.55" cy="132.47" r="0.55" fill="#6a6a6a"/>
<circle cx="256.03" cy="132.35" r="0.55" fill="#6a6a6a"/>
<circle cx="256.50" cy="130.63" r="0.55" fill="#6a6a6a"/>
<circle cx="256.98" cy="131.83" r="0.55" fill="#6a6a6a"/>
<circle cx="257.45" cy="133.62" r="0.55" fill="#6a6a6a"/>
<circle cx="257.93" cy="134.90" r="0.55" fill="#6a6a6a"/>
<circle cx="258.40" cy="133.70" r="0.55" fill="#6a6a6a"/>
<circle cx="258.88" cy="132.61" r="0.55" fill="#6a6a6a"/>
<circle cx="259.36" cy="133.28" r="0.55" fill="#6a6a6a"/>
<circle cx="259.83" cy="134.90" r="0.55" fill="#6a6a6a"/>
<circle cx="260.31" cy="132.03" r="0.55" fill="#6a6a6a"/>
<circle cx="260.78" cy="131.15" r="0.55" fill="#6a6a6a"/>
<circle cx="261.26" cy="131.06" r="0.55" fill="#6a6a6a"/>
<circle cx="261.73" cy="132.83" r="0.55" fill="#6a6a6a"/>
<circle cx="262.21" cy="132.52" r="0.55" fill="#6a6a6a"/>
<circle cx="262.68" cy="133.24" r="0.55" fill="#6a6a6a"/>
<circle cx="263.16" cy="133.41" r="0.55" fill="#6a6a6a"/>
<circle cx="263.63" cy="132.37" r="0.55" fill="#6a6a6a"/>
<circle cx="264.11" cy="131.49" r="0.55" fill="#6a6a6a"/>
<circle cx="264.58" cy="132.32" r="0.55" fill="#6a6a6a"/>
<circle cx="265.06" cy="132.53" r="0.55" fill="#6a6a6a"/>
<circle cx="265.53" cy="131.59" r="0.55" fill="#6a6a6a"/>
<circle cx="266.01" cy="133.05" r="0.55" fill="#6a6a6a"/>
<circle cx="266.48" cy="133.20" r="0.55" fill="#6a6a6a"/>
<circle cx="266.96" cy="134.07" r="0.55" fill="#6a6a6a"/>
<circle cx="267.44" cy="130.61" r="0.55" fill="#6a6a6a"/>
<circle cx="267.91" cy="131.21" r="0.55" fill="#6a6a6a"/>
<circle cx="268.39" cy="132.16" r="0.55" fill="#6a6a6a"/>
<circle cx="268.86" cy="131.71" r="0.55" fill="#6a6a6a"/>
<circle cx="269.34" cy="131.34" r="0.55" fill="#6a6a6a"/>
<circle cx="269.81" cy="131.01" r="0.55" fill="#6a6a6a"/>
<circle cx="270.29" cy="132.73" r="0.55" fill="#6a6a6a"/>
<circle cx="270.76" cy="131.75" r="0.55" fill="#6a6a6a"/>
<circle cx="271.24" cy="131.62" r="0.55" fill="#6a6a6a"/>
<circle cx="271.71" cy="130.40" r="0.55" fill="#6a6a6a"/>
<circle cx="272.19" cy="131.45" r="0.55" fill="#6a6a6a"/>
<circle cx="272.66" cy="129.31" r="0.55" fill="#6a6a6a"/>
<circle cx="273.14" cy="130.36" r="0.55" fill="#6a6a6a"/>
<circle cx="273.61" cy="130.03" r="0.55" fill="#6a6a6a"/>
<circle cx="274.09" cy="129.86" r="0.55" fill="#6a6a6a"/>
<circle cx="274.56" cy="129.84" r="0.55" fill="#6a6a6a"/>
<circle cx="275.04" cy="129.00" r="0.55" fill="#6a6a6a"/>
<circle cx="275.52" cy="130.69" r="0.55" fill="#6a6a6a"/>
<circle cx="275.99" cy="131.17" r="0.55" fill="#6a6a6a"/>
<circle cx="276.47" cy="130.62" r="0.55" fill="#6a6a6a"/>
<circle cx="276.94" cy="129.49" r="0.55" fill="#6a6a6a"/>
<circle cx="277.42" cy="127.02" r="0.55" fill="#6a6a6a"/>
<circle cx="277.89" cy="126.87" r="0.55" fill="#6a6a6a"/>
<circle cx="278.37" cy="126.82" r="0.55" fill="#6a6a6a"/>
<circle cx="278.84" cy="125.86" r="0.55" fill="#6a6a6a"/>
<circle cx="279.32" cy="126.80" r="0.55" fill="#6a6a6a"/>
<circle cx="279.79" cy="124.36" r="0.55" fill="#6a6a6a"/>
<circle cx="280.27" cy="125.27" r="0.55" fill="#6a6a6a"/>
<circle cx="280.74" cy="124.90" r="0.55" fill="#6a6a6a"/>
<circle cx="281.22" cy="124.58" r="0.55" fill="#6a6a6a"/>
<circle cx="281.69" cy="123.51" r="0.55" fill="#6a6a6a"/>
<circle cx="282.17" cy="124.57" r="0.55" fill="#6a6a6a"/>
<circle cx="282.64" cy="124.45" r="0.55" fill="#6a6a6a"/>
<circle cx="283.12" cy="122.85" r="0.55" fill="#6a6a6a"/>
<circle cx="283.60" cy="122.58" r="0.55" fill="#6a6a6a"/>
<circle cx="284.07" cy="121.94" r="0.55" fill="#6a6a6a"/>
<circle cx="284.55" cy="121.00" r="0.55" fill="#6a6a6a"/>
<circle cx="285.02" cy="121.35" r="0.55" fill="#6a6a6a"/>
<circle cx="285.50" cy="121.80" r="0.55" fill="#6a6a6a"/>
<circle cx="285.97" cy="122.07" r="0.55" fill="#6a6a6a"/>
<circle cx="286.45" cy="121.96" r="0.55" fill="#6a6a6a"/>
<circle cx="286.92" cy="122.40" r="0.55" fill="#6a6a6a"/>
<circle cx="287.40" cy="122.18" r="0.55" fill="#6a6a6a"/>
<circle cx="287.87" cy="122.24" r="0.55" fill="#6a6a6a"/>
<circle cx="288.35" cy="122.04" r="0.55" fill="#6a6a6a"/>
<circle cx="288.82" cy="119.32" r="0.55" fill="#6a6a6a"/>
<circle cx="289.30" cy="121.50" r="0.55" fill="#6a6a6a"/>
<circle cx="289.77" cy="121.02" r="0.55" fill="#6a6a6a"/>
<circle cx="290.25" cy="121.34" r="0.55" fill="#6a6a6a"/>
<circle cx="290.72" cy="119.96" r="0.55" fill="#6a6a6a"/>
<circle cx="291.20" cy="119.33" r="0.55" fill="#6a6a6a"/>
<circle cx="291.68" cy="119.58" r="0.55" fill="#6a6a6a"/>
<circle cx="292.15" cy="117.60" r="0.55" fill="#6a6a6a"/>
<circle cx="292.63" cy="119.58" r="0.55" fill="#6a6a6a"/>
<circle cx="293.10" cy="117.82" r="0.55" fill="#6a6a6a"/>
<circle cx="293.58" cy="117.21" r="0.55" fill="#6a6a6a"/>
<circle cx="294.05" cy="116.16" r="0.55" fill="#6a6a6a"/>
<circle cx="294.53" cy="117.40" r="0.55" fill="#6a6a6a"/>
<circle cx="295.00" cy="115.28" r="0.55" fill="#6a6a6a"/>
<circle cx="295.48" cy="115.15" r="0.55" fill="#6a6a6a"/>
<circle cx="295.95" cy="115.76" r="0.55" fill="#6a6a6a"/>
<circle cx="296.43" cy="114.67" r="0.55" fill="#6a6a6a"/>
<circle cx="296.90" cy="115.13" r="0.55" fill="#6a6a6a"/>
<circle cx="297.38" cy="114.32" r="0.55" fill="#6a6a6a"/>
<circle cx="297.85" cy="114.01" r="0.55" fill="#6a6a6a"/>
<circle cx="298.33" cy="114.40" r="0.55" fill="#6a6a6a"/>
<circle cx="298.81" cy="114.62" r="0.55" fill="#6a6a6a"/>
<circle cx="299.28" cy="113.17" r="0.55" fill="#6a6a6a"/>
<circle cx="299.76" cy="113.30" r="0.55" fill="#6a6a6a"/>
<circle cx="300.23" cy="111.99" r="0.55" fill="#6a6a6a"/>
<circle cx="300.71" cy="111.00" r="0.55" fill="#6a6a6a"/>
<circle cx="301.18" cy="111.67" r="0.55" fill="#6a6a6a"/>
<circle cx="301.66" cy="109.72" r="0.55" fill="#6a6a6a"/>
<circle cx="302.13" cy="110.39" r="0.55" fill="#6a6a6a"/>
<circle cx="302.61" cy="108.70" r="0.55" fill="#6a6a6a"/>
<circle cx="303.08" cy="108.78" r="0.55" fill="#6a6a6a"/>
<circle cx="303.56" cy="105.80" r="0.55" fill="#6a6a6a"/>
<circle cx="304.03" cy="107.43" r="0.55" fill="#6a6a6a"/>
<circle cx="304.51" cy="107.90" r="0.55" fill="#6a6a6a"/>
<circle cx="304.98" cy="106.94" r="0.55" fill="#6a6a6a"/>
<circle cx="305.46" cy="106.53" r="0.55" fill="#6a6a6a"/>
<circle cx="305.93" cy="106.54" r="0.55" fill="#6a6a6a"/>
<circle cx="306.41" cy="107.23" r="0.55" fill="#6a6a6a"/>
<circle cx="306.89" cy="106.99" r="0.55" fill="#6a6a6a"/>
<circle cx="307.36" cy="106.68" r="0.55" fill="#6a6a6a"/>
<circle cx="307.84" cy="105.90" r="0.55" fill="#6a6a6a"/>
<circle cx="308.31" cy="106.34" r="0.55" fill="#6a6a6a"/>
<circle cx="308.79" cy="104.21" r="0.55" fill="#6a6a6a"/>
<circle cx="309.26" cy="104.91" r="0.55" fill="#6a6a6a"/>
<circle cx="309.74" cy="105.87" r="0.55" fill="#6a6a6a"/>
<circle cx="310.21" cy="106.42" r="0.55" fill="#6a6a6a"/>
<circle cx="310.69" cy="106.44" r="0.55" fill="#6a6a6a"/>
<circle cx="311.16" cy="106.88" r="0.55" fill="#6a6a6a"/>
<circle cx="311.64" cy="105.91" r="0.55" fill="#6a6a6a"/>
<circle cx="312.11" cy="105.14" r="0.55" fill="#6a6a6a"/>
<circle cx="312.59" cy="104.31" r="0.55" fill="#6a6a6a"/>
<circle cx="313.06" cy="104.34" r="0.55" fill="#6a6a6a"/>
<circle cx="313.54" cy="104.56" r="0.55" fill="#6a6a6a"/>
<circle cx="314.01" cy="104.57" r="0.55" fill="#6a6a6a"/>
<circle cx="314.49" cy="104.58" r="0.55" fill="#6a6a6a"/>
<circle cx="314.97" cy="105.22" r="0.55" fill="#6a6a6a"/>
<circle cx="315.44" cy="105.16" r="0.55" fill="#6a6a6a"/>
<circle cx="315.92" cy="104.48" r="0.55" fill="#6a6a6a"/>
<circle cx="316.39" cy="103.80" r="0.55" fill="#6a6a6a"/>
<circle cx="316.87" cy="102.60" r="0.55" fill="#6a6a6a"/>
<circle cx="317.34" cy="103.05" r="0.55" fill="#6a6a6a"/>
<circle cx="317.82" cy="102.19" r="0.55" fill="#6a6a6a"/>
<circle cx="318.29" cy="103.06" r="0.55" fill="#6a6a6a"/>
<circle cx="318.77" cy="103.33" r="0.55" fill="#6a6a6a"/>
<circle cx="319.24" cy="101.82" r="0.55" fill="#6a6a6a"/>
<circle cx="319.72" cy="100.49" r="0.55" fill="#6a6a6a"/>
<circle cx="320.19" cy="102.45" r="0.55" fill="#6a6a6a"/>
<circle cx="320.67" cy="101.98" r="0.55" fill="#6a6a6a"/>
<circle cx="321.14" cy="101.49" r="0.55" fill="#6a6a6a"/>
<circle cx="321.62" cy="100.93" r="0.55" fill="#6a6a6a"/>
<circle cx="322.09" cy="101.13" r="0.55" fill="#6a6a6a"/>
<circle cx="322.57" cy="101.64" r="0.55" fill="#6a6a6a"/>
<circle cx="323.05" cy="101.66" r="0.55" fill="#6a6a6a"/>
<circle cx="323.52" cy="101.24" r="0.55" fill="#6a6a6a"/>
<circle cx="324.00" cy="100.04" r="0.55" fill="#6a6a6a"/>
<circle cx="324.47" cy="101.25" r="0.55" fill="#6a6a6a"/>
<circle cx="324.95" cy="101.85" r="0.55" fill="#6a6a6a"/>
<circle cx="325.42" cy="102.10" r="0.55" fill="#6a6a6a"/>
<circle cx="325.90" cy="100.98" r="0.55" fill="#6a6a6a"/>
<circle cx="326.37" cy="100.06" r="0.55" fill="#6a6a6a"/>
<circle cx="326.85" cy="99.69" r="0.55" fill="#6a6a6a"/>
<circle cx="327.32" cy="99.84" r="0.55" fill="#6a6a6a"/>
<circle cx="327.80" cy="100.00" r="0.55" fill="#6a6a6a"/>
<circle cx="328.27" cy="100.62" r="0.55" fill="#6a6a6a"/>
<circle cx="328.75" cy="100.50" r="0.55" fill="#6a6a6a"/>
<circle cx="329.22" cy="100.70" r="0.55" fill="#6a6a6a"/>
<circle cx="329.70" cy="100.63" r="0.55" fill="#6a6a6a"/>
<circle cx="330.17" cy="99.88" r="0.55" fill="#6a6a6a"/>
<circle cx="330.65" cy="100.21" r="0.55" fill="#6a6a6a"/>
<circle cx="331.13" cy="100.07" r="0.55" fill="#6a6a6a"/>
<circle cx="331.60" cy="99.54" r="0.55" fill="#6a6a6a"/>
<circle cx="332.08" cy="99.68" r="0.55" fill="#6a6a6a"/>
<circle cx="332.55" cy="102.43" r="0.55" fill="#6a6a6a"/>
<circle cx="333.03" cy="102.54" r="0.55" fill="#6a6a6a"/>
<circle cx="333.50" cy="101.74" r="0.55" fill="#6a6a6a"/>
<circle cx="333.98" cy="101.18" r="0.55" fill="#6a6a6a"/>
<circle cx="334.45" cy="104.38" r="0.55" fill="#6a6a6a"/>
<circle cx="334.93" cy="103.62" r="0.55" fill="#6a6a6a"/>
<circle cx="335.40" cy="105.09" r="0.55" fill="#6a6a6a"/>
<circle cx="335.88" cy="105.58" r="0.55" fill="#6a6a6a"/>
<circle cx="336.35" cy="105.47" r="0.55" fill="#6a6a6a"/>
<circle cx="336.83" cy="103.35" r="0.55" fill="#6a6a6a"/>
<circle cx="337.30" cy="101.40" r="0.55" fill="#6a6a6a"/>
<circle cx="337.78" cy="101.07" r="0.55" fill="#6a6a6a"/>
<circle cx="338.25" cy="98.54" r="0.55" fill="#6a6a6a"/>
<circle cx="338.73" cy="100.10" r="0.55" fill="#6a6a6a"/>
<circle cx="339.21" cy="102.32" r="0.55" fill="#6a6a6a"/>
<circle cx="339.68" cy="101.94" r="0.55" fill="#6a6a6a"/>
<circle cx="340.16" cy="100.79" r="0.55" fill="#6a6a6a"/>
<circle cx="340.63" cy="100.63" r="0.55" fill="#6a6a6a"/>
<circle cx="341.11" cy="99.70" r="0.55" fill="#6a6a6a"/>
<circle cx="341.58" cy="99.56" r="0.55" fill="#6a6a6a"/>
<circle cx="342.06" cy="99.22" r="0.55" fill="#6a6a6a"/>
<circle cx="342.53" cy="97.20" r="0.55" fill="#6a6a6a"/>
<circle cx="343.01" cy="96.31" r="0.55" fill="#6a6a6a"/>
<circle cx="343.48" cy="97.35" r="0.55" fill="#6a6a6a"/>
<circle cx="343.96" cy="97.27" r="0.55" fill="#6a6a6a"/>
<circle cx="344.43" cy="97.97" r="0.55" fill="#6a6a6a"/>
<circle cx="344.91" cy="98.40" r="0.55" fill="#6a6a6a"/>
<circle cx="345.38" cy="97.33" r="0.55" fill="#6a6a6a"/>
<circle cx="345.86" cy="95.70" r="0.55" fill="#6a6a6a"/>
<circle cx="346.34" cy="95.76" r="0.55" fill="#6a6a6a"/>
<circle cx="346.81" cy="94.46" r="0.55" fill="#6a6a6a"/>
<circle cx="347.29" cy="94.21" r="0.55" fill="#6a6a6a"/>
<circle cx="347.76" cy="95.48" r="0.55" fill="#6a6a6a"/>
<circle cx="348.24" cy="95.26" r="0.55" fill="#6a6a6a"/>
<circle cx="348.71" cy="97.39" r="0.55" fill="#6a6a6a"/>
<circle cx="349.19" cy="94.29" r="0.55" fill="#6a6a6a"/>
<circle cx="349.66" cy="93.84" r="0.55" fill="#6a6a6a"/>
<circle cx="350.14" cy="92.91" r="0.55" fill="#6a6a6a"/>
<circle cx="350.61" cy="92.87" r="0.55" fill="#6a6a6a"/>
<circle cx="351.09" cy="92.30" r="0.55" fill="#6a6a6a"/>
<circle cx="351.56" cy="93.15" r="0.55" fill="#6a6a6a"/>
<circle cx="352.04" cy="92.03" r="0.55" fill="#6a6a6a"/>
<circle cx="352.51" cy="92.68" r="0.55" fill="#6a6a6a"/>
<circle cx="352.99" cy="92.75" r="0.55" fill="#6a6a6a"/>
<circle cx="353.46" cy="92.66" r="0.55" fill="#6a6a6a"/>
<circle cx="353.94" cy="91.61" r="0.55" fill="#6a6a6a"/>
<circle cx="354.42" cy="91.76" r="0.55" fill="#6a6a6a"/>
<circle cx="354.89" cy="90.31" r="0.55" fill="#6a6a6a"/>
<circle cx="355.37" cy="91.87" r="0.55" fill="#6a6a6a"/>
<circle cx="355.84" cy="90.31" r="0.55" fill="#6a6a6a"/>
<circle cx="356.32" cy="89.85" r="0.55" fill="#6a6a6a"/>
<circle cx="356.79" cy="88.26" r="0.55" fill="#6a6a6a"/>
<circle cx="357.27" cy="86.99" r="0.55" fill="#6a6a6a"/>
<circle cx="357.74" cy="87.67" r="0.55" fill="#6a6a6a"/>
<circle cx="358.22" cy="87.10" r="0.55" fill="#6a6a6a"/>
<circle cx="358.69" cy="87.37" r="0.55" fill="#6a6a6a"/>
<circle cx="359.17" cy="87.80" r="0.55" fill="#6a6a6a"/>
<circle cx="359.64" cy="87.76" r="0.55" fill="#6a6a6a"/>
<circle cx="360.12" cy="87.76" r="0.55" fill="#6a6a6a"/>
<circle cx="360.59" cy="85.68" r="0.55" fill="#6a6a6a"/>
<circle cx="361.07" cy="85.25" r="0.55" fill="#6a6a6a"/>
<circle cx="361.54" cy="84.43" r="0.55" fill="#6a6a6a"/>
<circle cx="362.02" cy="85.65" r="0.55" fill="#6a6a6a"/>
<circle cx="362.50" cy="86.15" r="0.55" fill="#6a6a6a"/>
<circle cx="362.97" cy="86.24" r="0.55" fill="#6a6a6a"/>
<circle cx="363.45" cy="86.63" r="0.55" fill="#6a6a6a"/>
<circle cx="363.92" cy="85.08" r="0.55" fill="#6a6a6a"/>
<circle cx="364.40" cy="86.00" r="0.55" fill="#6a6a6a"/>
<circle cx="364.87" cy="84.45" r="0.55" fill="#6a6a6a"/>
<circle cx="365.35" cy="85.48" r="0.55" fill="#6a6a6a"/>
<circle cx="365.82" cy="85.43" r="0.55" fill="#6a6a6a"/>
<circle cx="366.30" cy="85.95" r="0.55" fill="#6a6a6a"/>
<circle cx="366.77" cy="86.36" r="0.55" fill="#6a6a6a"/>
<circle cx="367.25" cy="86.14" r="0.55" fill="#6a6a6a"/>
<circle cx="367.72" cy="86.27" r="0.55" fill="#6a6a6a"/>
<circle cx="368.20" cy="86.25" r="0.55" fill="#6a6a6a"/>
<circle cx="368.67" cy="87.48" r="0.55" fill="#6a6a6a"/>
<circle cx="369.15" cy="87.08" r="0.55" fill="#6a6a6a"/>
<circle cx="369.62" cy="87.52" r="0.55" fill="#6a6a6a"/>
<circle cx="370.10" cy="87.81" r="0.55" fill="#6a6a6a"/>
<polyline points="234.30,134.47 234.67,134.40 235.05,134.37 235.42,134.68 235.79,134.39 236.17,134.41 236.54,134.30 236.91,134.43 237.29,134.34 237.66,134.16 238.03,134.20 238.41,134.02 238.78,134.15 239.15,134.06 239.53,133.70 239.90,133.77 240.28,133.66 240.65,133.49 241.02,133.59 241.40,133.62 241.77,133.15 242.14,133.12 242.52,132.96 242.89,132.85 243.26,132.56 243.64,132.71 244.01,132.33 244.38,132.24 244.76,131.89 245.13,131.58 245.50,131.48 245.88,131.32 246.25,130.87 246.62,130.53 247.00,130.43 247.37,130.35 247.74,130.10 248.12,130.16 248.49,129.99 248.86,129.74 249.24,129.33" fill="none" stroke="#000" stroke-width="1.4" stroke-linejoin="round" stroke-linecap="round" opacity="1.0"/>
<circle cx="242.45" cy="133.00" r="1.05" fill="#000"/>
<circle cx="243.06" cy="132.75" r="1.05" fill="#000"/>
<circle cx="243.66" cy="132.14" r="1.05" fill="#000"/>
<circle cx="244.27" cy="131.56" r="1.05" fill="#000"/>
<circle cx="244.88" cy="131.33" r="1.05" fill="#000"/>
<circle cx="245.49" cy="129.95" r="1.05" fill="#000"/>
<circle cx="246.10" cy="129.55" r="1.05" fill="#000"/>
<circle cx="246.70" cy="130.18" r="1.05" fill="#000"/>
<circle cx="247.31" cy="129.11" r="1.05" fill="#000"/>
<circle cx="247.92" cy="129.13" r="1.05" fill="#000"/>
<circle cx="248.53" cy="128.89" r="1.05" fill="#000"/>
<circle cx="249.13" cy="127.91" r="1.05" fill="#000"/>
<circle cx="249.74" cy="128.11" r="1.05" fill="#000"/>
<circle cx="250.35" cy="130.11" r="1.05" fill="#000"/>
<circle cx="250.96" cy="129.70" r="1.05" fill="#000"/>
<circle cx="251.57" cy="129.30" r="1.05" fill="#000"/>
<circle cx="252.17" cy="128.18" r="1.05" fill="#000"/>
<circle cx="252.78" cy="130.00" r="1.05" fill="#000"/>
<circle cx="253.39" cy="128.10" r="1.05" fill="#000"/>
<circle cx="254.00" cy="128.86" r="1.05" fill="#000"/>
<circle cx="254.61" cy="128.12" r="1.05" fill="#000"/>
<circle cx="255.21" cy="127.42" r="1.05" fill="#000"/>
<circle cx="255.82" cy="126.04" r="1.05" fill="#000"/>
<circle cx="256.43" cy="123.28" r="1.05" fill="#000"/>
<circle cx="257.04" cy="121.18" r="1.05" fill="#000"/>
<circle cx="257.64" cy="118.69" r="1.05" fill="#000"/>
<circle cx="258.25" cy="119.30" r="1.05" fill="#000"/>
<circle cx="258.86" cy="118.76" r="1.05" fill="#000"/>
<circle cx="259.47" cy="117.65" r="1.05" fill="#000"/>
<circle cx="260.08" cy="116.13" r="1.05" fill="#000"/>
<circle cx="260.68" cy="115.99" r="1.05" fill="#000"/>
<circle cx="261.29" cy="113.49" r="1.05" fill="#000"/>
<circle cx="261.90" cy="113.78" r="1.05" fill="#000"/>
<circle cx="262.51" cy="112.02" r="1.05" fill="#000"/>
<circle cx="263.12" cy="109.60" r="1.05" fill="#000"/>
<circle cx="263.72" cy="107.09" r="1.05" fill="#000"/>
<circle cx="264.33" cy="107.59" r="1.05" fill="#000"/>
<circle cx="264.94" cy="105.97" r="1.05" fill="#000"/>
<circle cx="265.55" cy="104.81" r="1.05" fill="#000"/>
<circle cx="266.15" cy="106.48" r="1.05" fill="#000"/>
<circle cx="266.76" cy="103.19" r="1.05" fill="#000"/>
<circle cx="267.37" cy="102.14" r="1.05" fill="#000"/>
<circle cx="267.98" cy="104.73" r="1.05" fill="#000"/>
<circle cx="268.59" cy="101.98" r="1.05" fill="#000"/>
<circle cx="269.19" cy="105.15" r="1.05" fill="#000"/>
<circle cx="269.80" cy="104.64" r="1.05" fill="#000"/>
<circle cx="270.41" cy="101.86" r="1.05" fill="#000"/>
<circle cx="271.02" cy="102.03" r="1.05" fill="#000"/>
<circle cx="271.63" cy="98.64" r="1.05" fill="#000"/>
<circle cx="272.23" cy="99.59" r="1.05" fill="#000"/>
<circle cx="272.84" cy="100.07" r="1.05" fill="#000"/>
<circle cx="273.45" cy="97.68" r="1.05" fill="#000"/>
<circle cx="274.06" cy="96.80" r="1.05" fill="#000"/>
<circle cx="274.66" cy="97.08" r="1.05" fill="#000"/>
<circle cx="275.27" cy="93.82" r="1.05" fill="#000"/>
<circle cx="275.88" cy="93.99" r="1.05" fill="#000"/>
<circle cx="276.49" cy="93.72" r="1.05" fill="#000"/>
<circle cx="277.10" cy="89.92" r="1.05" fill="#000"/>
<circle cx="277.70" cy="89.70" r="1.05" fill="#000"/>
<circle cx="278.31" cy="89.90" r="1.05" fill="#000"/>
<circle cx="278.92" cy="91.33" r="1.05" fill="#000"/>
<circle cx="279.53" cy="95.36" r="1.05" fill="#000"/>
<circle cx="280.14" cy="95.64" r="1.05" fill="#000"/>
<circle cx="280.74" cy="90.76" r="1.05" fill="#000"/>
<circle cx="281.35" cy="92.16" r="1.05" fill="#000"/>
<circle cx="281.96" cy="90.81" r="1.05" fill="#000"/>
<circle cx="282.57" cy="91.32" r="1.05" fill="#000"/>
<circle cx="283.18" cy="89.75" r="1.05" fill="#000"/>
<circle cx="283.78" cy="86.44" r="1.05" fill="#000"/>
<circle cx="284.39" cy="85.85" r="1.05" fill="#000"/>
<circle cx="285.00" cy="86.69" r="1.05" fill="#000"/>
<circle cx="285.61" cy="86.93" r="1.05" fill="#000"/>
<circle cx="286.21" cy="84.21" r="1.05" fill="#000"/>
<circle cx="286.82" cy="84.03" r="1.05" fill="#000"/>
<circle cx="287.43" cy="81.70" r="1.05" fill="#000"/>
<circle cx="288.04" cy="83.01" r="1.05" fill="#000"/>
<circle cx="288.65" cy="83.35" r="1.05" fill="#000"/>
<circle cx="289.25" cy="81.32" r="1.05" fill="#000"/>
<circle cx="289.86" cy="80.18" r="1.05" fill="#000"/>
<circle cx="290.47" cy="84.32" r="1.05" fill="#000"/>
<circle cx="291.08" cy="84.38" r="1.05" fill="#000"/>
<circle cx="291.69" cy="84.29" r="1.05" fill="#000"/>
<circle cx="292.29" cy="84.78" r="1.05" fill="#000"/>
<circle cx="292.90" cy="83.68" r="1.05" fill="#000"/>
<circle cx="293.51" cy="81.77" r="1.05" fill="#000"/>
<circle cx="294.12" cy="79.76" r="1.05" fill="#000"/>
<circle cx="294.72" cy="82.80" r="1.05" fill="#000"/>
<circle cx="295.33" cy="81.40" r="1.05" fill="#000"/>
<circle cx="295.94" cy="79.75" r="1.05" fill="#000"/>
<circle cx="296.55" cy="77.70" r="1.05" fill="#000"/>
<circle cx="297.16" cy="80.35" r="1.05" fill="#000"/>
<circle cx="297.76" cy="77.69" r="1.05" fill="#000"/>
<circle cx="298.37" cy="76.25" r="1.05" fill="#000"/>
<circle cx="298.98" cy="76.54" r="1.05" fill="#000"/>
<circle cx="299.59" cy="76.05" r="1.05" fill="#000"/>
<circle cx="300.20" cy="76.91" r="1.05" fill="#000"/>
<circle cx="300.80" cy="78.85" r="1.05" fill="#000"/>
<circle cx="301.41" cy="79.13" r="1.05" fill="#000"/>
<circle cx="302.02" cy="75.10" r="1.05" fill="#000"/>
<circle cx="302.63" cy="76.53" r="1.05" fill="#000"/>
<circle cx="303.23" cy="75.62" r="1.05" fill="#000"/>
<circle cx="303.84" cy="75.18" r="1.05" fill="#000"/>
<circle cx="304.45" cy="71.43" r="1.05" fill="#000"/>
<circle cx="305.06" cy="74.73" r="1.05" fill="#000"/>
<circle cx="305.67" cy="74.79" r="1.05" fill="#000"/>
<circle cx="306.27" cy="76.23" r="1.05" fill="#000"/>
<circle cx="306.88" cy="75.71" r="1.05" fill="#000"/>
<circle cx="307.49" cy="78.72" r="1.05" fill="#000"/>
<circle cx="308.10" cy="76.84" r="1.05" fill="#000"/>
<circle cx="308.71" cy="73.77" r="1.05" fill="#000"/>
<circle cx="309.31" cy="72.10" r="1.05" fill="#000"/>
<circle cx="309.92" cy="73.27" r="1.05" fill="#000"/>
<circle cx="310.53" cy="70.91" r="1.05" fill="#000"/>
<circle cx="311.14" cy="69.67" r="1.05" fill="#000"/>
<circle cx="311.74" cy="71.78" r="1.05" fill="#000"/>
<circle cx="312.35" cy="70.23" r="1.05" fill="#000"/>
<circle cx="312.96" cy="70.15" r="1.05" fill="#000"/>
<circle cx="313.57" cy="66.50" r="1.05" fill="#000"/>
<circle cx="314.18" cy="66.71" r="1.05" fill="#000"/>
<circle cx="314.78" cy="65.54" r="1.05" fill="#000"/>
<circle cx="315.39" cy="64.62" r="1.05" fill="#000"/>
<circle cx="316.00" cy="62.86" r="1.05" fill="#000"/>
<circle cx="316.61" cy="61.06" r="1.05" fill="#000"/>
<circle cx="317.22" cy="59.08" r="1.05" fill="#000"/>
<circle cx="317.82" cy="55.91" r="1.05" fill="#000"/>
<circle cx="318.43" cy="54.45" r="1.05" fill="#000"/>
<circle cx="319.04" cy="53.71" r="1.05" fill="#000"/>
<circle cx="319.65" cy="53.97" r="1.05" fill="#000"/>
<circle cx="320.25" cy="56.42" r="1.05" fill="#000"/>
<circle cx="320.86" cy="56.68" r="1.05" fill="#000"/>
<circle cx="321.47" cy="57.06" r="1.05" fill="#000"/>
<circle cx="322.08" cy="59.04" r="1.05" fill="#000"/>
<circle cx="322.69" cy="56.87" r="1.05" fill="#000"/>
<circle cx="323.29" cy="55.38" r="1.05" fill="#000"/>
<circle cx="323.90" cy="57.96" r="1.05" fill="#000"/>
<circle cx="324.51" cy="55.09" r="1.05" fill="#000"/>
<circle cx="325.12" cy="56.27" r="1.05" fill="#000"/>
<circle cx="325.73" cy="56.94" r="1.05" fill="#000"/>
<circle cx="326.33" cy="56.51" r="1.05" fill="#000"/>
<circle cx="326.94" cy="55.61" r="1.05" fill="#000"/>
<circle cx="327.55" cy="52.64" r="1.05" fill="#000"/>
<circle cx="328.16" cy="53.30" r="1.05" fill="#000"/>
<circle cx="328.77" cy="51.91" r="1.05" fill="#000"/>
<circle cx="329.37" cy="50.24" r="1.05" fill="#000"/>
<circle cx="329.98" cy="50.35" r="1.05" fill="#000"/>
<circle cx="330.59" cy="52.66" r="1.05" fill="#000"/>
<circle cx="331.20" cy="52.32" r="1.05" fill="#000"/>
<circle cx="331.80" cy="50.32" r="1.05" fill="#000"/>
<circle cx="332.41" cy="52.89" r="1.05" fill="#000"/>
<circle cx="333.02" cy="54.02" r="1.05" fill="#000"/>
<circle cx="333.63" cy="53.32" r="1.05" fill="#000"/>
<circle cx="334.24" cy="55.41" r="1.05" fill="#000"/>
<circle cx="334.84" cy="54.54" r="1.05" fill="#000"/>
<circle cx="335.45" cy="52.70" r="1.05" fill="#000"/>
<circle cx="336.06" cy="51.64" r="1.05" fill="#000"/>
<circle cx="336.67" cy="53.17" r="1.05" fill="#000"/>
<circle cx="337.28" cy="52.96" r="1.05" fill="#000"/>
<circle cx="337.88" cy="53.11" r="1.05" fill="#000"/>
<circle cx="338.49" cy="54.30" r="1.05" fill="#000"/>
<circle cx="339.10" cy="55.10" r="1.05" fill="#000"/>
<circle cx="339.71" cy="54.72" r="1.05" fill="#000"/>
<circle cx="340.31" cy="56.52" r="1.05" fill="#000"/>
<circle cx="340.92" cy="55.47" r="1.05" fill="#000"/>
<circle cx="341.53" cy="58.00" r="1.05" fill="#000"/>
<circle cx="342.14" cy="60.01" r="1.05" fill="#000"/>
<circle cx="342.75" cy="57.99" r="1.05" fill="#000"/>
<circle cx="343.35" cy="60.07" r="1.05" fill="#000"/>
<circle cx="343.96" cy="59.47" r="1.05" fill="#000"/>
<circle cx="344.57" cy="59.93" r="1.05" fill="#000"/>
<circle cx="345.18" cy="61.68" r="1.05" fill="#000"/>
<circle cx="345.79" cy="59.69" r="1.05" fill="#000"/>
<circle cx="346.39" cy="59.52" r="1.05" fill="#000"/>
<circle cx="347.00" cy="57.76" r="1.05" fill="#000"/>
<circle cx="347.61" cy="60.10" r="1.05" fill="#000"/>
<circle cx="348.22" cy="60.11" r="1.05" fill="#000"/>
<circle cx="348.82" cy="57.22" r="1.05" fill="#000"/>
<circle cx="349.43" cy="56.84" r="1.05" fill="#000"/>
<circle cx="350.04" cy="59.13" r="1.05" fill="#000"/>
<circle cx="350.65" cy="59.35" r="1.05" fill="#000"/>
<circle cx="351.26" cy="58.79" r="1.05" fill="#000"/>
<circle cx="351.86" cy="62.27" r="1.05" fill="#000"/>
<circle cx="352.47" cy="60.02" r="1.05" fill="#000"/>
<circle cx="353.08" cy="55.90" r="1.05" fill="#000"/>
<circle cx="353.69" cy="52.52" r="1.05" fill="#000"/>
<circle cx="354.30" cy="55.59" r="1.05" fill="#000"/>
<circle cx="354.90" cy="56.12" r="1.05" fill="#000"/>
<circle cx="355.51" cy="58.21" r="1.05" fill="#000"/>
<circle cx="356.12" cy="57.05" r="1.05" fill="#000"/>
<circle cx="356.73" cy="56.81" r="1.05" fill="#000"/>
<circle cx="357.33" cy="56.14" r="1.05" fill="#000"/>
<circle cx="357.94" cy="58.05" r="1.05" fill="#000"/>
<circle cx="358.55" cy="62.07" r="1.05" fill="#000"/>
<circle cx="359.16" cy="63.13" r="1.05" fill="#000"/>
<circle cx="359.77" cy="62.16" r="1.05" fill="#000"/>
<circle cx="360.37" cy="60.88" r="1.05" fill="#000"/>
<circle cx="360.98" cy="63.30" r="1.05" fill="#000"/>
<circle cx="361.59" cy="62.04" r="1.05" fill="#000"/>
<circle cx="362.20" cy="62.20" r="1.05" fill="#000"/>
<circle cx="362.81" cy="60.90" r="1.05" fill="#000"/>
<circle cx="363.41" cy="58.36" r="1.05" fill="#000"/>
<circle cx="364.02" cy="53.35" r="1.05" fill="#000"/>
<circle cx="364.63" cy="52.99" r="1.05" fill="#000"/>
<circle cx="365.24" cy="55.32" r="1.05" fill="#000"/>
<circle cx="365.84" cy="57.06" r="1.05" fill="#000"/>
<circle cx="366.45" cy="62.01" r="1.05" fill="#000"/>
<circle cx="367.06" cy="61.37" r="1.05" fill="#000"/>
<circle cx="367.67" cy="60.12" r="1.05" fill="#000"/>
<circle cx="368.28" cy="60.14" r="1.05" fill="#000"/>
<circle cx="368.88" cy="60.75" r="1.05" fill="#000"/>
<circle cx="369.49" cy="61.19" r="1.05" fill="#000"/>
<circle cx="370.10" cy="64.24" r="1.05" fill="#000"/>
<line x1="234.40" y1="19.40" x2="234.40" y2="135.45" stroke="#000" stroke-width="1.35" stroke-linecap="butt"/>
<line x1="233.85" y1="134.90" x2="370.40" y2="134.90" stroke="#000" stroke-width="1.35" stroke-linecap="butt"/>
<line x1="231.00" y1="134.90" x2="234.40" y2="134.90" stroke="#000" stroke-width="1.35" stroke-linecap="butt"/>
<text x="230.40" y="137.18" font-size="6.5" font-weight="bold" text-anchor="end" fill="#000" stroke="#000" stroke-width="0.25">0</text>
<line x1="231.00" y1="96.44" x2="234.40" y2="96.44" stroke="#000" stroke-width="1.35" stroke-linecap="butt"/>
<text x="230.40" y="98.71" font-size="6.5" font-weight="bold" text-anchor="end" fill="#000" stroke="#000" stroke-width="0.25">50</text>
<line x1="231.00" y1="57.97" x2="234.40" y2="57.97" stroke="#000" stroke-width="1.35" stroke-linecap="butt"/>
<text x="230.40" y="60.25" font-size="6.5" font-weight="bold" text-anchor="end" fill="#000" stroke="#000" stroke-width="0.25">100</text>
<line x1="231.00" y1="19.51" x2="234.40" y2="19.51" stroke="#000" stroke-width="1.35" stroke-linecap="butt"/>
<text x="230.40" y="21.78" font-size="6.5" font-weight="bold" text-anchor="end" fill="#000" stroke="#000" stroke-width="0.25">150</text>
<line x1="234.30" y1="134.90" x2="234.30" y2="138.30" stroke="#000" stroke-width="1.35" stroke-linecap="butt"/>
<text x="234.30" y="145.00" font-size="6.6" font-weight="bold" text-anchor="middle" fill="#000" stroke="#000" stroke-width="0.25">0</text>
<line x1="268.25" y1="134.90" x2="268.25" y2="138.30" stroke="#000" stroke-width="1.35" stroke-linecap="butt"/>
<text x="268.25" y="145.00" font-size="6.6" font-weight="bold" text-anchor="middle" fill="#000" stroke="#000" stroke-width="0.25">50</text>
<line x1="302.20" y1="134.90" x2="302.20" y2="138.30" stroke="#000" stroke-width="1.35" stroke-linecap="butt"/>
<text x="302.20" y="145.00" font-size="6.6" font-weight="bold" text-anchor="middle" fill="#000" stroke="#000" stroke-width="0.25">100</text>
<line x1="336.15" y1="134.90" x2="336.15" y2="138.30" stroke="#000" stroke-width="1.35" stroke-linecap="butt"/>
<text x="336.15" y="145.00" font-size="6.6" font-weight="bold" text-anchor="middle" fill="#000" stroke="#000" stroke-width="0.25">150</text>
<line x1="370.10" y1="134.90" x2="370.10" y2="138.30" stroke="#000" stroke-width="1.35" stroke-linecap="butt"/>
<text x="370.10" y="145.00" font-size="6.6" font-weight="bold" text-anchor="middle" fill="#000" stroke="#000" stroke-width="0.25">200</text>
<text x="302.70" y="156.70" font-size="7.3" font-weight="bold" text-anchor="middle" fill="#000" stroke="#000" stroke-width="0.25">Time (s)</text>
<text x="212.60" y="77.00" font-size="8.8" font-weight="bold" text-anchor="middle" fill="#000" stroke="#000" stroke-width="0.25" transform="rotate(-90 212.60 77.00)">Fibrin Area (μm<tspan font-size="5.46" dy="-3.17">2</tspan><tspan dy="3.17">)</tspan></text>
<circle cx="296.0" cy="40.7" r="1.0" fill="#000"/>
<text x="306.00" y="42.70" font-size="7.3" font-weight="normal" text-anchor="start" fill="#000" stroke="#000" stroke-width="0.25">Wild-type</text>
<circle cx="335.9" cy="120.1" r="0.8" fill="#888"/>
<text x="346.00" y="123.00" font-size="7.3" font-weight="normal" text-anchor="start" fill="#000" stroke="#000" stroke-width="0.25">dIYF</text>
<line x1="428.70" y1="13.60" x2="428.70" y2="135.35" stroke="#000" stroke-width="1.35" stroke-linecap="butt"/>
<line x1="428.15" y1="134.80" x2="517.70" y2="134.80" stroke="#000" stroke-width="1.35" stroke-linecap="butt"/>
<line x1="425.30" y1="134.80" x2="428.70" y2="134.80" stroke="#000" stroke-width="1.35" stroke-linecap="butt"/>
<text x="424.70" y="137.08" font-size="6.5" font-weight="bold" text-anchor="end" fill="#000" stroke="#000" stroke-width="0.25">0</text>
<line x1="425.30" y1="112.68" x2="428.70" y2="112.68" stroke="#000" stroke-width="1.35" stroke-linecap="butt"/>
<text x="424.70" y="114.96" font-size="6.5" font-weight="bold" text-anchor="end" fill="#000" stroke="#000" stroke-width="0.25">100</text>
<line x1="425.30" y1="90.56" x2="428.70" y2="90.56" stroke="#000" stroke-width="1.35" stroke-linecap="butt"/>
<text x="424.70" y="92.84" font-size="6.5" font-weight="bold" text-anchor="end" fill="#000" stroke="#000" stroke-width="0.25">200</text>
<line x1="425.30" y1="68.44" x2="428.70" y2="68.44" stroke="#000" stroke-width="1.35" stroke-linecap="butt"/>
<text x="424.70" y="70.72" font-size="6.5" font-weight="bold" text-anchor="end" fill="#000" stroke="#000" stroke-width="0.25">300</text>
<line x1="425.30" y1="46.32" x2="428.70" y2="46.32" stroke="#000" stroke-width="1.35" stroke-linecap="butt"/>
<text x="424.70" y="48.60" font-size="6.5" font-weight="bold" text-anchor="end" fill="#000" stroke="#000" stroke-width="0.25">400</text>
<line x1="425.30" y1="24.20" x2="428.70" y2="24.20" stroke="#000" stroke-width="1.35" stroke-linecap="butt"/>
<text x="424.70" y="26.48" font-size="6.5" font-weight="bold" text-anchor="end" fill="#000" stroke="#000" stroke-width="0.25">500</text>
<text x="451.00" y="145.40" font-size="7.5" font-weight="bold" text-anchor="middle" fill="#000" stroke="#000" stroke-width="0.25">Wild-type</text>
<text x="495.00" y="145.40" font-size="7.5" font-weight="bold" text-anchor="middle" fill="#000" stroke="#000" stroke-width="0.25">dIYF</text>
<text x="405.30" y="73.90" font-size="7.85" font-weight="bold" text-anchor="middle" fill="#000" stroke="#000" stroke-width="0.25" transform="rotate(-90 405.30 73.90)">Fibrin Peak Area (μm<tspan font-size="4.87" dy="-2.83">2</tspan><tspan dy="2.83">)</tspan></text>
<polyline points="451.4,17.4 451.4,12.2 493.8,12.2 493.8,17.4" fill="none" stroke="#000" stroke-width="1.1"/>
<text x="472.80" y="8.60" font-size="8.1" font-weight="normal" text-anchor="middle" fill="#000" stroke="#000" stroke-width="0.25">p=0.0006</text>
<circle cx="451" cy="26.7" r="1.4" fill="#000"/>
<circle cx="453.2" cy="46.6" r="1.4" fill="#000"/>
<circle cx="448.4" cy="51.2" r="1.4" fill="#000"/>
<circle cx="448.8" cy="73.9" r="1.4" fill="#000"/>
<circle cx="453.4" cy="74.4" r="1.4" fill="#000"/>
<circle cx="448.5" cy="80.4" r="1.4" fill="#000"/>
<circle cx="453.4" cy="80.4" r="1.4" fill="#000"/>
<circle cx="446.4" cy="88" r="1.4" fill="#000"/>
<circle cx="455.4" cy="87.8" r="1.4" fill="#000"/>
<circle cx="446.4" cy="96.6" r="1.4" fill="#000"/>
<circle cx="455.4" cy="98" r="1.4" fill="#000"/>
<circle cx="451.1" cy="99.3" r="1.4" fill="#000"/>
<circle cx="462" cy="104.3" r="1.4" fill="#000"/>
<circle cx="446.7" cy="108" r="1.4" fill="#000"/>
<circle cx="457.5" cy="108" r="1.4" fill="#000"/>
<circle cx="451.1" cy="109.2" r="1.4" fill="#000"/>
<circle cx="454.8" cy="110.8" r="1.4" fill="#000"/>
<circle cx="444.3" cy="113.3" r="1.4" fill="#000"/>
<circle cx="446.7" cy="116.3" r="1.4" fill="#000"/>
<circle cx="455.4" cy="118.2" r="1.4" fill="#000"/>
<circle cx="451.1" cy="119.7" r="1.4" fill="#000"/>
<circle cx="448.9" cy="124" r="1.4" fill="#000"/>
<circle cx="455.4" cy="125.3" r="1.4" fill="#000"/>
<circle cx="453.3" cy="129" r="1.4" fill="#000"/>
<circle cx="448.6" cy="130.9" r="1.4" fill="#000"/>
<line x1="451.10" y1="86.20" x2="451.10" y2="114.20" stroke="#000" stroke-width="1.2" stroke-linecap="butt"/>
<line x1="447.80" y1="86.20" x2="454.60" y2="86.20" stroke="#000" stroke-width="1.2" stroke-linecap="butt"/>
<line x1="446.80" y1="114.20" x2="454.80" y2="114.20" stroke="#000" stroke-width="1.2" stroke-linecap="butt"/>
<line x1="441.40" y1="104.00" x2="458.00" y2="104.00" stroke="#000" stroke-width="1.8" stroke-linecap="butt"/>
<polygon points="495.80,91.00 497.50,94.06 494.10,94.06" fill="#000"/>
<polygon points="495.30,100.30 497.00,103.36 493.60,103.36" fill="#000"/>
<polygon points="495.30,106.10 497.00,109.16 493.60,109.16" fill="#000"/>
<polygon points="488.80,108.20 490.50,111.26 487.10,111.26" fill="#000"/>
<polygon points="501.80,109.20 503.50,112.26 500.10,112.26" fill="#000"/>
<polygon points="493.20,110.60 494.90,113.66 491.50,113.66" fill="#000"/>
<polygon points="497.70,111.90 499.40,114.96 496.00,114.96" fill="#000"/>
<polygon points="501.80,114.30 503.50,117.36 500.10,117.36" fill="#000"/>
<polygon points="490.00,115.80 491.70,118.86 488.30,118.86" fill="#000"/>
<polygon points="493.00,116.30 494.70,119.36 491.30,119.36" fill="#000"/>
<polygon points="497.00,116.30 498.70,119.36 495.30,119.36" fill="#000"/>
<polygon points="500.20,118.30 501.90,121.36 498.50,121.36" fill="#000"/>
<polygon points="491.20,121.80 492.90,124.86 489.50,124.86" fill="#000"/>
<polygon points="486.60,129.60 488.30,132.66 484.90,132.66" fill="#000"/>
<polygon points="504.40,130.00 506.10,133.06 502.70,133.06" fill="#000"/>
<polygon points="491.20,131.30 492.90,134.36 489.50,134.36" fill="#000"/>
<polygon points="494.30,131.30 496.00,134.36 492.60,134.36" fill="#000"/>
<polygon points="497.40,131.30 499.10,134.36 495.70,134.36" fill="#000"/>
<polygon points="500.50,131.30 502.20,134.36 498.80,134.36" fill="#000"/>
<line x1="495.50" y1="110.60" x2="495.50" y2="131.30" stroke="#000" stroke-width="1.2" stroke-linecap="butt"/>
<line x1="491.80" y1="110.60" x2="499.40" y2="110.60" stroke="#000" stroke-width="1.2" stroke-linecap="butt"/>
<line x1="492.40" y1="131.30" x2="498.60" y2="131.30" stroke="#000" stroke-width="1.2" stroke-linecap="butt"/>
<line x1="488.30" y1="118.10" x2="502.50" y2="118.10" stroke="#000" stroke-width="1.9" stroke-linecap="butt"/>
<polygon points="40.00,288.28 40.47,283.82 40.94,284.62 41.41,280.89 41.88,280.91 42.34,263.63 42.81,279.63 43.28,278.89 43.75,279.05 44.22,274.27 44.69,277.85 45.16,278.23 45.63,273.91 46.10,272.76 46.57,275.24 47.03,273.89 47.50,270.02 47.97,268.30 48.44,273.02 48.91,269.01 49.38,266.62 49.85,271.68 50.32,267.11 50.79,267.83 51.26,264.80 51.73,269.39 52.19,268.20 52.66,262.64 53.13,262.60 53.60,256.37 54.07,266.57 54.54,259.34 55.01,260.49 55.48,266.09 55.95,264.25 56.41,258.16 56.88,263.12 57.35,261.95 57.82,258.25 58.29,260.25 58.76,259.33 59.23,261.65 59.70,256.12 60.17,257.07 60.64,260.54 61.11,257.91 61.57,254.69 62.04,253.68 62.51,259.63 62.98,257.30 63.45,255.99 63.92,255.40 64.39,255.32 64.86,251.22 65.33,252.07 65.80,248.83 66.26,256.21 66.73,241.12 67.20,248.80 67.67,249.80 68.14,252.30 68.61,248.99 69.08,248.12 69.55,247.82 70.02,247.53 70.48,248.25 70.95,249.28 71.42,232.50 71.89,244.14 72.36,240.93 72.83,248.90 73.30,244.49 73.77,247.26 74.24,245.21 74.71,243.85 75.17,243.09 75.64,246.53 76.11,242.19 76.58,241.38 77.05,236.94 77.52,238.12 77.99,242.96 78.46,235.95 78.93,238.25 79.40,240.17 79.87,238.80 80.33,235.79 80.80,241.57 81.27,237.15 81.74,233.16 82.21,231.80 82.68,231.36 83.15,234.38 83.62,234.96 84.09,233.22 84.56,229.96 85.02,234.37 85.49,234.34 85.96,233.11 86.43,234.16 86.90,229.83 87.37,234.34 87.84,233.25 88.31,233.82 88.78,234.09 89.25,232.14 89.71,230.10 90.18,233.21 90.65,228.27 91.12,229.87 91.59,228.17 92.06,226.61 92.53,223.85 93.00,224.38 93.47,224.86 93.94,223.14 94.40,226.06 94.87,223.58 95.34,225.70 95.81,224.96 96.28,221.98 96.75,228.10 97.22,224.08 97.69,219.99 98.16,224.37 98.62,220.48 99.09,224.68 99.56,224.33 100.03,219.54 100.50,224.55 100.97,219.55 101.44,222.80 101.91,225.94 102.38,218.32 102.85,219.60 103.31,220.52 103.78,217.21 104.25,225.57 104.72,218.94 105.19,223.79 105.66,216.26 106.13,221.09 106.60,223.82 107.07,220.94 107.54,220.59 108.01,222.87 108.47,217.41 108.94,222.48 109.41,220.90 109.88,212.32 110.35,211.51 110.82,218.66 111.29,214.27 111.76,216.80 112.23,212.40 112.69,218.40 113.16,219.83 113.63,209.17 114.10,217.78 114.57,211.88 115.04,208.67 115.51,213.27 115.98,216.80 116.45,214.27 116.92,210.89 117.39,207.05 117.85,211.29 118.32,211.04 118.79,207.61 119.26,212.24 119.73,207.66 120.20,200.17 120.67,210.12 121.14,204.64 121.61,202.73 122.08,205.48 122.54,211.49 123.01,204.34 123.48,201.70 123.95,201.59 124.42,207.56 124.89,206.09 125.36,205.36 125.83,211.70 126.30,206.65 126.77,213.08 127.23,205.98 127.70,212.69 128.17,209.60 128.64,208.06 129.11,203.88 129.58,207.09 130.05,204.48 130.52,210.85 130.99,207.39 131.45,203.83 131.92,210.15 132.39,205.11 132.86,208.55 133.33,208.58 133.80,202.63 134.27,200.96 134.74,203.68 135.21,208.48 135.68,209.14 136.14,208.97 136.61,202.01 137.08,209.76 137.55,202.87 138.02,211.19 138.49,207.55 138.96,206.80 139.43,210.39 139.90,206.25 140.37,208.56 140.84,206.21 141.30,206.71 141.77,209.60 142.24,214.07 142.71,207.73 143.18,211.51 143.65,211.27 144.12,212.94 144.59,216.59 145.06,211.61 145.53,213.82 145.99,216.55 146.46,219.76 146.93,211.65 147.40,218.36 147.87,213.80 148.34,217.85 148.81,219.77 149.28,221.36 149.75,214.94 150.21,218.59 150.68,214.39 151.15,218.16 151.62,215.05 152.09,218.01 152.56,218.56 153.03,213.20 153.50,213.02 153.97,213.82 154.44,220.38 154.91,217.36 155.37,217.62 155.84,218.46 156.31,216.80 156.78,214.99 157.25,215.69 157.72,216.96 158.19,220.62 158.66,218.41 159.13,217.85 159.59,214.51 160.06,214.76 160.53,220.61 161.00,218.29 161.47,214.25 161.94,215.00 162.41,212.67 162.88,212.58 163.35,218.29 163.82,218.47 164.28,214.64 164.75,215.30 165.22,218.23 165.69,214.72 166.16,211.80 166.63,211.72 167.10,219.49 167.57,222.44 168.04,220.04 168.51,215.67 168.98,219.53 169.44,218.52 169.91,222.68 170.38,224.24 170.85,218.02 171.32,219.81 171.79,218.47 172.26,218.39 172.73,217.73 173.20,222.67 173.66,216.51 174.13,214.19 174.60,215.80 175.07,221.76 175.54,222.37 176.01,214.89 176.48,221.84 176.95,212.66 177.42,219.05 177.89,218.25 178.35,215.25 178.82,217.25 179.29,214.88 179.76,214.54 180.23,220.40 180.70,214.71 180.70,255.76 180.23,261.07 179.76,260.76 179.29,256.64 178.82,259.67 178.35,248.06 177.89,250.84 177.42,254.19 176.95,258.18 176.48,254.63 176.01,254.60 175.54,251.11 175.07,250.51 174.60,255.39 174.13,251.50 173.66,255.80 173.20,259.86 172.73,252.24 172.26,258.34 171.79,260.78 171.32,259.43 170.85,260.13 170.38,258.56 169.91,254.31 169.44,255.46 168.98,259.72 168.51,255.05 168.04,258.53 167.57,258.97 167.10,250.42 166.63,253.87 166.16,252.06 165.69,249.16 165.22,258.26 164.75,249.63 164.28,258.86 163.82,247.58 163.35,247.67 162.88,256.14 162.41,248.25 161.94,256.44 161.47,253.20 161.00,252.52 160.53,254.90 160.06,247.70 159.59,252.61 159.13,259.58 158.66,259.12 158.19,257.89 157.72,254.46 157.25,249.96 156.78,257.58 156.31,254.60 155.84,259.01 155.37,256.64 154.91,256.18 154.44,250.63 153.97,257.81 153.50,254.04 153.03,258.25 152.56,248.92 152.09,256.27 151.62,252.93 151.15,248.89 150.68,250.61 150.21,259.43 149.75,253.48 149.28,260.13 148.81,260.76 148.34,256.34 147.87,250.99 147.40,254.93 146.93,259.17 146.46,252.79 145.99,253.00 145.53,253.03 145.06,256.68 144.59,252.05 144.12,248.13 143.65,252.17 143.18,258.74 142.71,253.96 142.24,245.99 141.77,248.40 141.30,259.11 140.84,254.26 140.37,255.82 139.90,246.35 139.43,249.69 138.96,255.91 138.49,257.49 138.02,244.36 137.55,256.83 137.08,252.96 136.61,245.26 136.14,246.26 135.68,241.30 135.21,248.34 134.74,242.14 134.27,241.02 133.80,246.64 133.33,252.10 132.86,248.55 132.39,249.78 131.92,244.05 131.45,245.32 130.99,249.63 130.52,258.71 130.05,247.23 129.58,255.91 129.11,251.18 128.64,250.65 128.17,250.71 127.70,256.83 127.23,252.59 126.77,256.93 126.30,247.05 125.83,252.38 125.36,256.47 124.89,248.10 124.42,244.53 123.95,246.01 123.48,245.82 123.01,255.48 122.54,244.75 122.08,251.98 121.61,247.43 121.14,250.25 120.67,248.79 120.20,246.83 119.73,252.04 119.26,248.50 118.79,256.92 118.32,250.54 117.85,255.68 117.39,260.37 116.92,256.22 116.45,250.38 115.98,253.48 115.51,251.81 115.04,255.85 114.57,248.70 114.10,256.07 113.63,254.46 113.16,254.37 112.69,250.82 112.23,258.25 111.76,252.73 111.29,258.67 110.82,258.02 110.35,251.90 109.88,256.15 109.41,259.07 108.94,249.42 108.47,250.45 108.01,253.04 107.54,257.32 107.07,249.61 106.60,253.26 106.13,251.05 105.66,257.45 105.19,250.44 104.72,252.28 104.25,257.78 103.78,256.76 103.31,252.95 102.85,256.62 102.38,251.96 101.91,251.96 101.44,256.70 100.97,254.11 100.50,259.13 100.03,254.71 99.56,253.03 99.09,253.65 98.62,253.54 98.16,259.51 97.69,256.81 97.22,254.25 96.75,253.82 96.28,261.62 95.81,258.10 95.34,260.32 94.87,256.04 94.40,258.97 93.94,261.59 93.47,259.43 93.00,255.44 92.53,259.21 92.06,257.38 91.59,255.53 91.12,261.12 90.65,259.69 90.18,262.62 89.71,256.86 89.25,263.03 88.78,263.37 88.31,263.40 87.84,264.96 87.37,259.58 86.90,260.85 86.43,261.95 85.96,261.27 85.49,267.02 85.02,261.32 84.56,260.84 84.09,267.40 83.62,261.69 83.15,267.43 82.68,264.85 82.21,267.79 81.74,268.14 81.27,265.76 80.80,268.85 80.33,270.13 79.87,271.38 79.40,267.21 78.93,271.87 78.46,265.27 77.99,265.93 77.52,268.36 77.05,272.75 76.58,271.98 76.11,270.69 75.64,273.71 75.17,268.72 74.71,272.36 74.24,268.76 73.77,269.20 73.30,277.32 72.83,271.65 72.36,276.50 71.89,273.08 71.42,276.58 70.95,274.61 70.48,277.17 70.02,279.03 69.55,280.14 69.08,274.59 68.61,276.17 68.14,278.98 67.67,277.77 67.20,277.36 66.73,275.42 66.26,279.48 65.80,278.26 65.33,280.15 64.86,277.30 64.39,282.25 63.92,278.81 63.45,280.55 62.98,279.36 62.51,282.56 62.04,283.63 61.57,282.52 61.11,281.15 60.64,282.21 60.17,280.72 59.70,286.16 59.23,280.98 58.76,285.12 58.29,284.11 57.82,284.36 57.35,282.48 56.88,282.81 56.41,282.21 55.95,282.51 55.48,284.85 55.01,288.79 54.54,287.83 54.07,287.90 53.60,287.72 53.13,285.91 52.66,287.22 52.19,286.66 51.73,290.34 51.26,288.28 50.79,289.78 50.32,291.09 49.85,288.41 49.38,289.78 48.91,287.64 48.44,290.58 47.97,291.70 47.50,292.82 47.03,290.53 46.57,289.27 46.10,290.32 45.63,290.79 45.16,293.38 44.69,294.14 44.22,294.47 43.75,293.77 43.28,295.58 42.81,293.23 42.34,293.52 41.88,295.55 41.41,297.01 40.94,297.90 40.47,297.12 40.00,297.90" fill="#e0e0e0" stroke="none" opacity="1.0"/>
<polygon points="40.00,268.79 40.47,266.77 40.94,265.03 41.41,267.99 41.88,261.88 42.34,260.89 42.81,265.23 43.28,262.00 43.75,267.66 44.22,260.54 44.69,259.04 45.16,265.19 45.63,257.59 46.10,263.29 46.57,263.49 47.03,260.51 47.50,261.08 47.97,262.55 48.44,258.67 48.91,260.88 49.38,261.77 49.85,264.69 50.32,265.12 50.79,265.89 51.26,266.49 51.73,267.17 52.19,270.26 52.66,266.48 53.13,269.60 53.60,270.85 54.07,272.67 54.54,268.12 55.01,269.96 55.48,267.45 55.95,270.10 56.41,272.45 56.88,269.05 57.35,268.33 57.82,270.29 58.29,270.18 58.76,273.21 59.23,274.64 59.70,270.50 60.17,269.05 60.64,267.61 61.11,271.06 61.57,271.89 62.04,271.42 62.51,268.88 62.98,272.22 63.45,269.51 63.92,267.16 64.39,267.62 64.86,266.50 65.33,272.90 65.80,267.89 66.26,267.45 66.73,271.70 67.20,265.92 67.67,271.49 68.14,270.78 68.61,274.49 69.08,273.61 69.55,275.19 70.02,270.33 70.48,269.56 70.95,270.81 71.42,271.68 71.89,272.05 72.36,273.91 72.83,268.62 73.30,272.65 73.77,271.24 74.24,268.02 74.71,271.76 75.17,270.64 75.64,272.52 76.11,268.86 76.58,270.82 77.05,268.97 77.52,271.98 77.99,271.32 78.46,271.90 78.93,270.91 79.40,270.10 79.87,266.89 80.33,270.82 80.80,268.67 81.27,270.68 81.74,266.57 82.21,269.53 82.68,269.11 83.15,266.52 83.62,267.85 84.09,265.60 84.56,269.75 85.02,265.14 85.49,266.34 85.96,263.57 86.43,266.15 86.90,266.24 87.37,263.44 87.84,266.27 88.31,263.20 88.78,262.69 89.25,267.34 89.71,264.10 90.18,263.07 90.65,263.87 91.12,264.04 91.59,264.22 92.06,267.10 92.53,262.47 93.00,263.52 93.47,263.46 93.94,263.39 94.40,263.88 94.87,265.09 95.34,266.56 95.81,262.00 96.28,262.53 96.75,265.21 97.22,267.16 97.69,261.68 98.16,266.37 98.62,264.49 99.09,261.04 99.56,262.91 100.03,263.15 100.50,265.69 100.97,262.03 101.44,265.58 101.91,261.23 102.38,265.38 102.85,262.21 103.31,263.68 103.78,265.21 104.25,261.56 104.72,264.78 105.19,264.66 105.66,261.55 106.13,262.52 106.60,262.73 107.07,263.09 107.54,265.46 108.01,263.22 108.47,263.07 108.94,265.11 109.41,259.93 109.88,262.80 110.35,259.91 110.82,259.82 111.29,259.82 111.76,263.30 112.23,262.32 112.69,263.52 113.16,264.53 113.63,263.46 114.10,264.51 114.57,262.49 115.04,263.44 115.51,264.31 115.98,264.47 116.45,264.06 116.92,263.89 117.39,263.74 117.85,263.05 118.32,260.47 118.79,262.80 119.26,258.99 119.73,258.44 120.20,261.27 120.67,262.53 121.14,261.18 121.61,262.32 122.08,259.24 122.54,259.82 123.01,262.36 123.48,259.71 123.95,258.59 124.42,262.09 124.89,262.78 125.36,262.27 125.83,257.92 126.30,262.01 126.77,258.46 127.23,259.78 127.70,258.16 128.17,262.56 128.64,259.71 129.11,259.48 129.58,260.22 130.05,259.88 130.52,258.70 130.99,258.84 131.45,260.96 131.92,261.70 132.39,260.99 132.86,261.98 133.33,261.57 133.80,263.44 134.27,258.90 134.74,260.93 135.21,262.02 135.68,260.84 136.14,262.81 136.61,261.61 137.08,263.33 137.55,260.98 138.02,260.33 138.49,260.38 138.96,259.24 139.43,263.13 139.90,262.82 140.37,259.81 140.84,262.38 141.30,259.51 141.77,258.26 142.24,258.08 142.71,260.00 143.18,260.59 143.65,259.20 144.12,260.77 144.59,258.15 145.06,257.12 145.53,259.14 145.99,257.24 146.46,259.79 146.93,259.58 147.40,259.86 147.87,259.19 148.34,258.52 148.81,259.87 149.28,256.32 149.75,256.51 150.21,259.97 150.68,255.57 151.15,256.54 151.62,256.45 152.09,257.04 152.56,258.12 153.03,259.20 153.50,258.59 153.97,258.36 154.44,256.80 154.91,257.90 155.37,255.53 155.84,258.97 156.31,258.79 156.78,258.28 157.25,259.63 157.72,257.43 158.19,254.72 158.66,257.09 159.13,256.27 159.59,256.35 160.06,255.39 160.53,255.05 161.00,254.02 161.47,255.26 161.94,254.00 162.41,256.98 162.88,257.96 163.35,256.11 163.82,255.21 164.28,255.47 164.75,255.87 165.22,256.37 165.69,255.30 166.16,257.13 166.63,254.54 167.10,258.02 167.57,255.82 168.04,255.24 168.51,254.79 168.98,255.12 169.44,252.77 169.91,256.56 170.38,253.33 170.85,256.73 171.32,254.04 171.79,254.47 172.26,253.56 172.73,255.35 173.20,255.87 173.66,253.70 174.13,254.75 174.60,256.33 175.07,252.19 175.54,255.44 176.01,251.87 176.48,253.84 176.95,255.29 177.42,252.21 177.89,251.40 178.35,255.26 178.82,254.48 179.29,254.17 179.76,252.88 180.23,253.02 180.70,255.20 180.70,269.55 180.23,269.25 179.76,273.42 179.29,273.60 178.82,271.75 178.35,270.91 177.89,271.76 177.42,272.24 176.95,272.82 176.48,274.82 176.01,271.03 175.54,273.73 175.07,273.64 174.60,273.99 174.13,270.87 173.66,274.51 173.20,275.06 172.73,270.76 172.26,270.57 171.79,273.53 171.32,272.62 170.85,273.55 170.38,271.54 169.91,273.98 169.44,275.13 168.98,272.76 168.51,272.40 168.04,275.53 167.57,271.26 167.10,276.51 166.63,272.39 166.16,275.68 165.69,271.75 165.22,271.53 164.75,271.55 164.28,273.38 163.82,275.74 163.35,273.82 162.88,276.37 162.41,275.47 161.94,275.09 161.47,275.99 161.00,276.44 160.53,276.68 160.06,278.01 159.59,277.75 159.13,275.04 158.66,274.17 158.19,278.02 157.72,276.24 157.25,275.22 156.78,273.65 156.31,273.94 155.84,275.35 155.37,273.66 154.91,277.07 154.44,275.04 153.97,277.47 153.50,273.83 153.03,277.44 152.56,276.57 152.09,274.36 151.62,278.81 151.15,277.26 150.68,276.36 150.21,278.65 149.75,276.85 149.28,279.14 148.81,279.63 148.34,278.88 147.87,279.38 147.40,277.95 146.93,274.78 146.46,275.12 145.99,277.22 145.53,278.10 145.06,278.81 144.59,275.33 144.12,278.35 143.65,277.14 143.18,278.53 142.71,277.63 142.24,281.50 141.77,280.26 141.30,276.57 140.84,278.91 140.37,279.91 139.90,281.56 139.43,278.47 138.96,282.44 138.49,282.42 138.02,279.16 137.55,282.84 137.08,281.87 136.61,278.56 136.14,281.87 135.68,278.77 135.21,278.28 134.74,281.79 134.27,281.31 133.80,280.18 133.33,279.92 132.86,279.41 132.39,277.30 131.92,278.88 131.45,277.74 130.99,277.79 130.52,276.43 130.05,280.63 129.58,279.26 129.11,279.36 128.64,278.34 128.17,279.36 127.70,277.98 127.23,280.18 126.77,275.78 126.30,279.43 125.83,276.38 125.36,279.43 124.89,281.32 124.42,280.61 123.95,277.51 123.48,281.88 123.01,279.43 122.54,276.79 122.08,280.41 121.61,280.74 121.14,282.20 120.67,279.44 120.20,278.89 119.73,281.17 119.26,282.09 118.79,277.35 118.32,279.49 117.85,278.80 117.39,278.50 116.92,279.20 116.45,278.83 115.98,281.68 115.51,279.90 115.04,278.27 114.57,283.66 114.10,279.06 113.63,283.16 113.16,278.59 112.69,280.48 112.23,282.51 111.76,279.31 111.29,282.96 110.82,283.04 110.35,284.16 109.88,283.58 109.41,282.92 108.94,282.78 108.47,281.97 108.01,279.68 107.54,280.78 107.07,280.36 106.60,283.42 106.13,279.90 105.66,280.86 105.19,280.98 104.72,282.39 104.25,280.44 103.78,281.12 103.31,280.48 102.85,282.09 102.38,283.35 101.91,282.18 101.44,284.68 100.97,281.88 100.50,285.39 100.03,286.13 99.56,283.35 99.09,282.06 98.62,284.53 98.16,282.24 97.69,285.54 97.22,282.76 96.75,286.52 96.28,286.19 95.81,282.29 95.34,285.74 94.87,286.07 94.40,284.05 93.94,282.39 93.47,287.39 93.00,285.87 92.53,283.73 92.06,285.84 91.59,283.73 91.12,282.09 90.65,286.26 90.18,286.08 89.71,287.36 89.25,284.80 88.78,285.08 88.31,287.73 87.84,288.91 87.37,286.79 86.90,283.97 86.43,287.30 85.96,286.34 85.49,285.11 85.02,288.87 84.56,291.39 84.09,288.10 83.62,286.51 83.15,285.73 82.68,292.52 82.21,292.24 81.74,289.26 81.27,290.04 80.80,290.27 80.33,290.72 79.87,288.88 79.40,293.76 78.93,293.19 78.46,290.30 77.99,289.19 77.52,289.91 77.05,291.80 76.58,291.74 76.11,295.06 75.64,289.60 75.17,294.43 74.71,289.71 74.24,294.21 73.77,291.48 73.30,295.57 72.83,292.55 72.36,297.90 71.89,291.86 71.42,297.90 70.95,292.54 70.48,297.90 70.02,296.40 69.55,293.25 69.08,296.17 68.61,297.71 68.14,297.69 67.67,293.46 67.20,297.15 66.73,292.16 66.26,292.91 65.80,295.60 65.33,297.58 64.86,292.13 64.39,291.17 63.92,294.28 63.45,295.43 62.98,297.90 62.51,297.90 62.04,292.81 61.57,293.79 61.11,293.32 60.64,297.90 60.17,295.87 59.70,297.90 59.23,297.90 58.76,293.80 58.29,294.97 57.82,297.90 57.35,297.90 56.88,295.29 56.41,296.91 55.95,297.90 55.48,297.90 55.01,297.90 54.54,297.90 54.07,297.90 53.60,292.53 53.13,295.59 52.66,291.96 52.19,291.76 51.73,297.78 51.26,297.90 50.79,290.29 50.32,297.90 49.85,290.35 49.38,289.36 48.91,294.08 48.44,291.18 47.97,293.41 47.50,294.38 47.03,286.23 46.57,285.66 46.10,286.22 45.63,287.95 45.16,288.80 44.69,290.44 44.22,297.90 43.75,297.73 43.28,291.41 42.81,290.33 42.34,297.90 41.88,296.80 41.41,296.99 40.94,297.90 40.47,297.90 40.00,294.61" fill="#e0e0e0" stroke="none" opacity="1.0"/>
<polyline points="40.00,278.69 40.45,278.07 40.90,277.85 41.36,277.40 41.81,278.28 42.26,276.75 42.71,277.29 43.17,276.71 43.62,276.47 44.07,275.66 44.52,276.25 44.97,275.42 45.43,274.10 45.88,273.70 46.33,272.73 46.78,272.81 47.24,271.32 47.69,273.46 48.14,272.45 48.59,273.72 49.05,275.29 49.50,274.95 49.95,277.04 50.40,277.59 50.85,278.32 51.31,279.48 51.76,279.87 52.21,280.44 52.66,279.37 53.12,281.23 53.57,281.48 54.02,282.04 54.47,280.85 54.92,281.95 55.38,281.56 55.83,281.42 56.28,282.48 56.73,282.82 57.19,282.97 57.64,283.36 58.09,282.87 58.54,282.30 58.99,283.19 59.45,282.54 59.90,282.12 60.35,282.07 60.80,282.20 61.26,282.27 61.71,282.97 62.16,282.27 62.61,281.19 63.06,281.81 63.52,281.19 63.97,281.83 64.42,281.04 64.87,281.56 65.33,280.30 65.78,280.07 66.23,281.42 66.68,280.01 67.13,280.93 67.59,279.82 68.04,282.00 68.49,282.79 68.94,282.04 69.40,283.27 69.85,284.80 70.30,283.70 70.75,282.79 71.21,283.83 71.66,282.48" fill="none" stroke="#a0a0a0" stroke-width="1.1" stroke-linejoin="round" stroke-linecap="round" opacity="1.0"/>
<polyline points="69.55,283.58 70.01,283.50 70.47,282.89 70.94,283.79 71.40,282.78 71.86,282.04 72.33,281.78 72.79,283.07 73.25,281.86 73.72,281.70 74.18,281.71 74.64,280.51 75.10,281.20 75.57,281.15 76.03,279.87 76.49,280.29 76.96,280.76 77.42,280.54 77.88,279.97 78.35,280.73 78.81,279.39 79.27,278.95 79.74,279.42 80.20,278.37 80.66,278.02 81.13,278.63 81.59,278.19 82.05,279.20 82.51,279.16 82.98,277.04 83.44,278.33 83.90,278.31 84.37,276.70 84.83,276.80 85.29,277.88 85.76,277.23 86.22,277.16 86.68,276.86 87.15,277.18 87.61,275.86 88.07,276.08 88.54,275.66 89.00,275.86 89.46,275.79 89.93,275.71 90.39,273.79 90.85,274.05 91.31,274.45 91.78,275.36 92.24,275.31 92.70,275.37 93.17,274.96 93.63,275.50 94.09,275.05 94.56,275.20 95.02,275.22 95.48,274.25 95.95,274.66 96.41,274.63 96.87,274.87 97.34,274.49 97.80,273.88 98.26,274.64 98.72,274.90 99.19,273.80 99.65,273.77 100.11,272.73 100.58,274.08 101.04,272.42 101.50,274.16 101.97,272.99 102.43,273.14 102.89,273.35 103.36,272.09 103.82,272.42 104.28,273.50 104.75,272.74 105.21,272.44 105.67,273.59 106.13,273.42 106.60,272.28 107.06,271.95 107.52,272.46 107.99,272.48 108.45,272.25 108.91,272.71 109.38,271.35 109.84,271.11 110.30,272.06 110.77,272.98 111.23,272.13 111.69,271.21 112.16,272.16 112.62,272.56 113.08,272.34 113.55,271.17 114.01,271.27 114.47,271.89 114.93,271.09 115.40,270.71 115.86,270.18 116.32,270.38 116.79,271.12 117.25,270.24 117.71,269.91 118.18,269.93 118.64,270.09 119.10,270.35 119.57,270.41 120.03,269.61 120.49,269.99 120.96,269.70 121.42,270.65 121.88,270.84 122.34,270.38 122.81,269.63 123.27,269.56 123.73,270.25 124.20,270.18 124.66,268.49 125.12,270.25 125.59,268.36 126.05,268.59 126.51,268.92 126.98,267.94 127.44,268.60 127.90,270.11 128.37,268.24 128.83,269.44 129.29,268.48 129.75,268.79 130.22,270.31 130.68,270.61 131.14,270.75 131.61,269.24 132.07,269.32 132.53,270.60 133.00,270.94 133.46,270.50 133.92,269.68 134.39,269.90 134.85,269.73 135.31,269.61 135.78,270.16 136.24,270.08 136.70,271.90 137.17,272.02 137.63,270.21 138.09,270.56 138.55,271.01 139.02,271.27 139.48,270.68 139.94,270.50 140.41,270.01 140.87,269.95 141.33,270.31 141.80,270.40 142.26,269.99 142.72,269.98 143.19,269.88 143.65,269.06 144.11,269.50 144.58,267.93 145.04,268.31 145.50,268.32 145.96,267.79 146.43,268.48 146.89,268.76 147.35,268.48 147.82,267.81 148.28,267.70 148.74,267.86 149.21,267.67 149.67,266.50 150.13,268.16 150.60,267.17 151.06,267.24 151.52,267.38 151.99,266.38 152.45,267.37 152.91,267.68 153.37,267.37 153.84,265.58 154.30,266.84 154.76,267.25 155.23,265.39 155.69,266.00 156.15,265.28 156.62,266.53 157.08,265.45 157.54,267.00 158.01,266.52 158.47,265.28 158.93,265.80 159.40,265.15 159.86,265.93 160.32,264.83 160.79,266.44 161.25,265.22 161.71,266.05 162.17,265.93 162.64,264.40 163.10,265.27 163.56,264.37 164.03,265.39 164.49,264.36 164.95,263.90 165.42,264.40 165.88,265.13 166.34,264.13 166.81,263.44 167.27,263.66 167.73,264.32 168.20,264.33 168.66,264.87 169.12,263.37 169.58,264.56 170.05,264.34 170.51,264.64 170.97,264.27 171.44,263.72 171.90,263.43 172.36,263.97 172.83,263.36 173.29,262.57 173.75,263.86 174.22,263.69 174.68,262.79 175.14,261.89 175.61,261.77 176.07,262.41 176.53,263.33 176.99,261.59 177.46,261.25 177.92,261.35 178.38,262.08 178.85,262.39 179.31,261.96 179.77,261.53 180.24,261.11 180.70,262.16" fill="none" stroke="#707070" stroke-width="1.2" stroke-linejoin="round" stroke-linecap="round" opacity="1.0"/>
<polyline points="40.00,293.79 40.35,292.54 40.70,291.68 41.06,290.82 41.41,290.13 41.76,289.49 42.11,289.39 42.46,288.43 42.81,288.05 43.17,287.18 43.52,286.94 43.87,286.51 44.22,286.16 44.57,285.79 44.92,285.28 45.28,284.84 45.63,284.84 45.98,284.23 46.33,283.83 46.68,283.77 47.03,283.57 47.39,283.01 47.74,282.51 48.09,282.30 48.44,282.14 48.79,281.48 49.15,281.34 49.50,280.65 49.85,280.70 50.20,280.10 50.55,279.85 50.90,279.15 51.26,279.36 51.61,278.69 51.96,278.71 52.31,278.49 52.66,278.34 53.01,277.93 53.37,277.44 53.72,277.11 54.07,276.80" fill="none" stroke="#000" stroke-width="1.7" stroke-linejoin="round" stroke-linecap="round" opacity="1.0"/>
<circle cx="47.03" cy="284.31" r="1.15" fill="#000"/>
<circle cx="47.55" cy="283.72" r="1.15" fill="#000"/>
<circle cx="48.06" cy="283.56" r="1.15" fill="#000"/>
<circle cx="48.58" cy="281.08" r="1.15" fill="#000"/>
<circle cx="49.09" cy="280.46" r="1.15" fill="#000"/>
<circle cx="49.61" cy="280.09" r="1.15" fill="#000"/>
<circle cx="50.12" cy="280.87" r="1.15" fill="#000"/>
<circle cx="50.63" cy="280.61" r="1.15" fill="#000"/>
<circle cx="51.15" cy="279.05" r="1.15" fill="#000"/>
<circle cx="51.66" cy="278.63" r="1.15" fill="#000"/>
<circle cx="52.18" cy="277.96" r="1.15" fill="#000"/>
<circle cx="52.69" cy="279.48" r="1.15" fill="#000"/>
<circle cx="53.20" cy="278.36" r="1.15" fill="#000"/>
<circle cx="53.72" cy="276.99" r="1.15" fill="#000"/>
<circle cx="54.23" cy="277.48" r="1.15" fill="#000"/>
<circle cx="54.75" cy="277.14" r="1.15" fill="#000"/>
<circle cx="55.26" cy="276.09" r="1.15" fill="#000"/>
<circle cx="55.77" cy="274.09" r="1.15" fill="#000"/>
<circle cx="56.29" cy="274.26" r="1.15" fill="#000"/>
<circle cx="56.80" cy="274.83" r="1.15" fill="#000"/>
<circle cx="57.32" cy="273.03" r="1.15" fill="#000"/>
<circle cx="57.83" cy="274.06" r="1.15" fill="#000"/>
<circle cx="58.35" cy="274.19" r="1.15" fill="#000"/>
<circle cx="58.86" cy="271.78" r="1.15" fill="#000"/>
<circle cx="59.37" cy="271.26" r="1.15" fill="#000"/>
<circle cx="59.89" cy="271.73" r="1.15" fill="#000"/>
<circle cx="60.40" cy="271.58" r="1.15" fill="#000"/>
<circle cx="60.92" cy="270.57" r="1.15" fill="#000"/>
<circle cx="61.43" cy="270.68" r="1.15" fill="#000"/>
<circle cx="61.94" cy="269.94" r="1.15" fill="#000"/>
<circle cx="62.46" cy="269.53" r="1.15" fill="#000"/>
<circle cx="62.97" cy="267.38" r="1.15" fill="#000"/>
<circle cx="63.49" cy="267.33" r="1.15" fill="#000"/>
<circle cx="64.00" cy="269.08" r="1.15" fill="#000"/>
<circle cx="64.51" cy="268.21" r="1.15" fill="#000"/>
<circle cx="65.03" cy="268.12" r="1.15" fill="#000"/>
<circle cx="65.54" cy="268.20" r="1.15" fill="#000"/>
<circle cx="66.06" cy="265.77" r="1.15" fill="#000"/>
<circle cx="66.57" cy="266.56" r="1.15" fill="#000"/>
<circle cx="67.08" cy="265.39" r="1.15" fill="#000"/>
<circle cx="67.60" cy="265.27" r="1.15" fill="#000"/>
<circle cx="68.11" cy="263.59" r="1.15" fill="#000"/>
<circle cx="68.63" cy="266.39" r="1.15" fill="#000"/>
<circle cx="69.14" cy="264.31" r="1.15" fill="#000"/>
<circle cx="69.66" cy="263.19" r="1.15" fill="#000"/>
<circle cx="70.17" cy="263.36" r="1.15" fill="#000"/>
<circle cx="70.68" cy="261.05" r="1.15" fill="#000"/>
<circle cx="71.20" cy="259.42" r="1.15" fill="#000"/>
<circle cx="71.71" cy="259.34" r="1.15" fill="#000"/>
<circle cx="72.23" cy="262.95" r="1.15" fill="#000"/>
<circle cx="72.74" cy="262.44" r="1.15" fill="#000"/>
<circle cx="73.25" cy="261.47" r="1.15" fill="#000"/>
<circle cx="73.77" cy="260.43" r="1.15" fill="#000"/>
<circle cx="74.28" cy="261.19" r="1.15" fill="#000"/>
<circle cx="74.80" cy="260.16" r="1.15" fill="#000"/>
<circle cx="75.31" cy="259.29" r="1.15" fill="#000"/>
<circle cx="75.82" cy="259.13" r="1.15" fill="#000"/>
<circle cx="76.34" cy="257.26" r="1.15" fill="#000"/>
<circle cx="76.85" cy="258.78" r="1.15" fill="#000"/>
<circle cx="77.37" cy="255.24" r="1.15" fill="#000"/>
<circle cx="77.88" cy="254.85" r="1.15" fill="#000"/>
<circle cx="78.39" cy="256.09" r="1.15" fill="#000"/>
<circle cx="78.91" cy="254.16" r="1.15" fill="#000"/>
<circle cx="79.42" cy="254.47" r="1.15" fill="#000"/>
<circle cx="79.94" cy="254.40" r="1.15" fill="#000"/>
<circle cx="80.45" cy="254.06" r="1.15" fill="#000"/>
<circle cx="80.97" cy="254.39" r="1.15" fill="#000"/>
<circle cx="81.48" cy="254.37" r="1.15" fill="#000"/>
<circle cx="81.99" cy="252.52" r="1.15" fill="#000"/>
<circle cx="82.51" cy="253.25" r="1.15" fill="#000"/>
<circle cx="83.02" cy="253.25" r="1.15" fill="#000"/>
<circle cx="83.54" cy="251.83" r="1.15" fill="#000"/>
<circle cx="84.05" cy="251.96" r="1.15" fill="#000"/>
<circle cx="84.56" cy="248.73" r="1.15" fill="#000"/>
<circle cx="85.08" cy="247.80" r="1.15" fill="#000"/>
<circle cx="85.59" cy="249.89" r="1.15" fill="#000"/>
<circle cx="86.11" cy="248.31" r="1.15" fill="#000"/>
<circle cx="86.62" cy="246.95" r="1.15" fill="#000"/>
<circle cx="87.13" cy="245.55" r="1.15" fill="#000"/>
<circle cx="87.65" cy="245.47" r="1.15" fill="#000"/>
<circle cx="88.16" cy="245.14" r="1.15" fill="#000"/>
<circle cx="88.68" cy="247.01" r="1.15" fill="#000"/>
<circle cx="89.19" cy="247.37" r="1.15" fill="#000"/>
<circle cx="89.70" cy="247.13" r="1.15" fill="#000"/>
<circle cx="90.22" cy="249.71" r="1.15" fill="#000"/>
<circle cx="90.73" cy="246.01" r="1.15" fill="#000"/>
<circle cx="91.25" cy="241.47" r="1.15" fill="#000"/>
<circle cx="91.76" cy="242.72" r="1.15" fill="#000"/>
<circle cx="92.28" cy="246.16" r="1.15" fill="#000"/>
<circle cx="92.79" cy="243.70" r="1.15" fill="#000"/>
<circle cx="93.30" cy="245.08" r="1.15" fill="#000"/>
<circle cx="93.82" cy="244.24" r="1.15" fill="#000"/>
<circle cx="94.33" cy="244.76" r="1.15" fill="#000"/>
<circle cx="94.85" cy="246.26" r="1.15" fill="#000"/>
<circle cx="95.36" cy="240.95" r="1.15" fill="#000"/>
<circle cx="95.87" cy="242.10" r="1.15" fill="#000"/>
<circle cx="96.39" cy="244.98" r="1.15" fill="#000"/>
<circle cx="96.90" cy="241.53" r="1.15" fill="#000"/>
<circle cx="97.42" cy="241.17" r="1.15" fill="#000"/>
<circle cx="97.93" cy="243.74" r="1.15" fill="#000"/>
<circle cx="98.44" cy="240.74" r="1.15" fill="#000"/>
<circle cx="98.96" cy="243.27" r="1.15" fill="#000"/>
<circle cx="99.47" cy="242.24" r="1.15" fill="#000"/>
<circle cx="99.99" cy="241.27" r="1.15" fill="#000"/>
<circle cx="100.50" cy="243.29" r="1.15" fill="#000"/>
<circle cx="101.02" cy="239.63" r="1.15" fill="#000"/>
<circle cx="101.53" cy="241.41" r="1.15" fill="#000"/>
<circle cx="102.04" cy="241.22" r="1.15" fill="#000"/>
<circle cx="102.56" cy="238.84" r="1.15" fill="#000"/>
<circle cx="103.07" cy="238.87" r="1.15" fill="#000"/>
<circle cx="103.59" cy="241.07" r="1.15" fill="#000"/>
<circle cx="104.10" cy="236.96" r="1.15" fill="#000"/>
<circle cx="104.61" cy="236.94" r="1.15" fill="#000"/>
<circle cx="105.13" cy="236.70" r="1.15" fill="#000"/>
<circle cx="105.64" cy="237.04" r="1.15" fill="#000"/>
<circle cx="106.16" cy="237.15" r="1.15" fill="#000"/>
<circle cx="106.67" cy="237.16" r="1.15" fill="#000"/>
<circle cx="107.18" cy="238.02" r="1.15" fill="#000"/>
<circle cx="107.70" cy="240.15" r="1.15" fill="#000"/>
<circle cx="108.21" cy="239.17" r="1.15" fill="#000"/>
<circle cx="108.73" cy="237.23" r="1.15" fill="#000"/>
<circle cx="109.24" cy="235.82" r="1.15" fill="#000"/>
<circle cx="109.75" cy="235.73" r="1.15" fill="#000"/>
<circle cx="110.27" cy="236.76" r="1.15" fill="#000"/>
<circle cx="110.78" cy="240.43" r="1.15" fill="#000"/>
<circle cx="111.30" cy="235.61" r="1.15" fill="#000"/>
<circle cx="111.81" cy="236.96" r="1.15" fill="#000"/>
<circle cx="112.33" cy="234.94" r="1.15" fill="#000"/>
<circle cx="112.84" cy="234.84" r="1.15" fill="#000"/>
<circle cx="113.35" cy="230.20" r="1.15" fill="#000"/>
<circle cx="113.87" cy="228.06" r="1.15" fill="#000"/>
<circle cx="114.38" cy="232.77" r="1.15" fill="#000"/>
<circle cx="114.90" cy="233.76" r="1.15" fill="#000"/>
<circle cx="115.41" cy="234.36" r="1.15" fill="#000"/>
<circle cx="115.92" cy="233.18" r="1.15" fill="#000"/>
<circle cx="116.44" cy="229.99" r="1.15" fill="#000"/>
<circle cx="116.95" cy="232.35" r="1.15" fill="#000"/>
<circle cx="117.47" cy="231.92" r="1.15" fill="#000"/>
<circle cx="117.98" cy="229.12" r="1.15" fill="#000"/>
<circle cx="118.49" cy="231.13" r="1.15" fill="#000"/>
<circle cx="119.01" cy="222.90" r="1.15" fill="#000"/>
<circle cx="119.52" cy="223.42" r="1.15" fill="#000"/>
<circle cx="120.04" cy="226.09" r="1.15" fill="#000"/>
<circle cx="120.55" cy="222.90" r="1.15" fill="#000"/>
<circle cx="121.06" cy="225.00" r="1.15" fill="#000"/>
<circle cx="121.58" cy="227.18" r="1.15" fill="#000"/>
<circle cx="122.09" cy="226.39" r="1.15" fill="#000"/>
<circle cx="122.61" cy="226.32" r="1.15" fill="#000"/>
<circle cx="123.12" cy="226.04" r="1.15" fill="#000"/>
<circle cx="123.64" cy="220.82" r="1.15" fill="#000"/>
<circle cx="124.15" cy="223.75" r="1.15" fill="#000"/>
<circle cx="124.66" cy="223.19" r="1.15" fill="#000"/>
<circle cx="125.18" cy="225.19" r="1.15" fill="#000"/>
<circle cx="125.69" cy="228.86" r="1.15" fill="#000"/>
<circle cx="126.21" cy="224.81" r="1.15" fill="#000"/>
<circle cx="126.72" cy="226.51" r="1.15" fill="#000"/>
<circle cx="127.23" cy="226.31" r="1.15" fill="#000"/>
<circle cx="127.75" cy="228.00" r="1.15" fill="#000"/>
<circle cx="128.26" cy="227.17" r="1.15" fill="#000"/>
<circle cx="128.78" cy="227.05" r="1.15" fill="#000"/>
<circle cx="129.29" cy="228.08" r="1.15" fill="#000"/>
<circle cx="129.80" cy="226.03" r="1.15" fill="#000"/>
<circle cx="130.32" cy="225.22" r="1.15" fill="#000"/>
<circle cx="130.83" cy="225.74" r="1.15" fill="#000"/>
<circle cx="131.35" cy="223.01" r="1.15" fill="#000"/>
<circle cx="131.86" cy="222.45" r="1.15" fill="#000"/>
<circle cx="132.37" cy="225.33" r="1.15" fill="#000"/>
<circle cx="132.89" cy="224.60" r="1.15" fill="#000"/>
<circle cx="133.40" cy="222.29" r="1.15" fill="#000"/>
<circle cx="133.92" cy="223.24" r="1.15" fill="#000"/>
<circle cx="134.43" cy="221.54" r="1.15" fill="#000"/>
<circle cx="134.95" cy="223.71" r="1.15" fill="#000"/>
<circle cx="135.46" cy="224.08" r="1.15" fill="#000"/>
<circle cx="135.97" cy="223.04" r="1.15" fill="#000"/>
<circle cx="136.49" cy="221.42" r="1.15" fill="#000"/>
<circle cx="137.00" cy="225.35" r="1.15" fill="#000"/>
<circle cx="137.52" cy="224.89" r="1.15" fill="#000"/>
<circle cx="138.03" cy="225.79" r="1.15" fill="#000"/>
<circle cx="138.54" cy="224.96" r="1.15" fill="#000"/>
<circle cx="139.06" cy="223.63" r="1.15" fill="#000"/>
<circle cx="139.57" cy="224.93" r="1.15" fill="#000"/>
<circle cx="140.09" cy="225.58" r="1.15" fill="#000"/>
<circle cx="140.60" cy="224.74" r="1.15" fill="#000"/>
<circle cx="141.11" cy="227.01" r="1.15" fill="#000"/>
<circle cx="141.63" cy="227.64" r="1.15" fill="#000"/>
<circle cx="142.14" cy="229.53" r="1.15" fill="#000"/>
<circle cx="142.66" cy="229.63" r="1.15" fill="#000"/>
<circle cx="143.17" cy="230.03" r="1.15" fill="#000"/>
<circle cx="143.69" cy="231.79" r="1.15" fill="#000"/>
<circle cx="144.20" cy="230.34" r="1.15" fill="#000"/>
<circle cx="144.71" cy="229.50" r="1.15" fill="#000"/>
<circle cx="145.23" cy="235.65" r="1.15" fill="#000"/>
<circle cx="145.74" cy="232.66" r="1.15" fill="#000"/>
<circle cx="146.26" cy="235.23" r="1.15" fill="#000"/>
<circle cx="146.77" cy="231.89" r="1.15" fill="#000"/>
<circle cx="147.28" cy="231.92" r="1.15" fill="#000"/>
<circle cx="147.80" cy="229.53" r="1.15" fill="#000"/>
<circle cx="148.31" cy="231.80" r="1.15" fill="#000"/>
<circle cx="148.83" cy="234.18" r="1.15" fill="#000"/>
<circle cx="149.34" cy="233.26" r="1.15" fill="#000"/>
<circle cx="149.85" cy="234.25" r="1.15" fill="#000"/>
<circle cx="150.37" cy="230.81" r="1.15" fill="#000"/>
<circle cx="150.88" cy="232.42" r="1.15" fill="#000"/>
<circle cx="151.40" cy="227.18" r="1.15" fill="#000"/>
<circle cx="151.91" cy="232.37" r="1.15" fill="#000"/>
<circle cx="152.42" cy="231.62" r="1.15" fill="#000"/>
<circle cx="152.94" cy="227.82" r="1.15" fill="#000"/>
<circle cx="153.45" cy="233.64" r="1.15" fill="#000"/>
<circle cx="153.97" cy="231.48" r="1.15" fill="#000"/>
<circle cx="154.48" cy="229.61" r="1.15" fill="#000"/>
<circle cx="155.00" cy="232.46" r="1.15" fill="#000"/>
<circle cx="155.51" cy="229.07" r="1.15" fill="#000"/>
<circle cx="156.02" cy="232.79" r="1.15" fill="#000"/>
<circle cx="156.54" cy="229.11" r="1.15" fill="#000"/>
<circle cx="157.05" cy="231.73" r="1.15" fill="#000"/>
<circle cx="157.57" cy="230.44" r="1.15" fill="#000"/>
<circle cx="158.08" cy="234.07" r="1.15" fill="#000"/>
<circle cx="158.59" cy="232.52" r="1.15" fill="#000"/>
<circle cx="159.11" cy="233.03" r="1.15" fill="#000"/>
<circle cx="159.62" cy="230.91" r="1.15" fill="#000"/>
<circle cx="160.14" cy="230.10" r="1.15" fill="#000"/>
<circle cx="160.65" cy="232.37" r="1.15" fill="#000"/>
<circle cx="161.16" cy="232.52" r="1.15" fill="#000"/>
<circle cx="161.68" cy="232.23" r="1.15" fill="#000"/>
<circle cx="162.19" cy="230.37" r="1.15" fill="#000"/>
<circle cx="162.71" cy="231.77" r="1.15" fill="#000"/>
<circle cx="163.22" cy="233.77" r="1.15" fill="#000"/>
<circle cx="163.73" cy="233.92" r="1.15" fill="#000"/>
<circle cx="164.25" cy="235.30" r="1.15" fill="#000"/>
<circle cx="164.76" cy="232.79" r="1.15" fill="#000"/>
<circle cx="165.28" cy="231.06" r="1.15" fill="#000"/>
<circle cx="165.79" cy="230.38" r="1.15" fill="#000"/>
<circle cx="166.31" cy="235.81" r="1.15" fill="#000"/>
<circle cx="166.82" cy="236.24" r="1.15" fill="#000"/>
<circle cx="167.33" cy="234.70" r="1.15" fill="#000"/>
<circle cx="167.85" cy="235.38" r="1.15" fill="#000"/>
<circle cx="168.36" cy="239.61" r="1.15" fill="#000"/>
<circle cx="168.88" cy="235.60" r="1.15" fill="#000"/>
<circle cx="169.39" cy="234.39" r="1.15" fill="#000"/>
<circle cx="169.90" cy="236.58" r="1.15" fill="#000"/>
<circle cx="170.42" cy="236.37" r="1.15" fill="#000"/>
<circle cx="170.93" cy="236.79" r="1.15" fill="#000"/>
<circle cx="171.45" cy="234.67" r="1.15" fill="#000"/>
<circle cx="171.96" cy="234.83" r="1.15" fill="#000"/>
<circle cx="172.47" cy="235.04" r="1.15" fill="#000"/>
<circle cx="172.99" cy="237.65" r="1.15" fill="#000"/>
<circle cx="173.50" cy="233.65" r="1.15" fill="#000"/>
<circle cx="174.02" cy="230.96" r="1.15" fill="#000"/>
<circle cx="174.53" cy="235.66" r="1.15" fill="#000"/>
<circle cx="175.04" cy="234.34" r="1.15" fill="#000"/>
<circle cx="175.56" cy="237.62" r="1.15" fill="#000"/>
<circle cx="176.07" cy="232.56" r="1.15" fill="#000"/>
<circle cx="176.59" cy="232.72" r="1.15" fill="#000"/>
<circle cx="177.10" cy="231.77" r="1.15" fill="#000"/>
<circle cx="177.62" cy="231.97" r="1.15" fill="#000"/>
<circle cx="178.13" cy="230.68" r="1.15" fill="#000"/>
<circle cx="178.64" cy="234.26" r="1.15" fill="#000"/>
<circle cx="179.16" cy="236.05" r="1.15" fill="#000"/>
<circle cx="179.67" cy="232.51" r="1.15" fill="#000"/>
<circle cx="180.19" cy="232.29" r="1.15" fill="#000"/>
<circle cx="180.70" cy="235.50" r="1.15" fill="#000"/>
<line x1="39.80" y1="178.40" x2="39.80" y2="298.45" stroke="#000" stroke-width="1.35" stroke-linecap="butt"/>
<line x1="39.25" y1="297.90" x2="180.90" y2="297.90" stroke="#000" stroke-width="1.35" stroke-linecap="butt"/>
<line x1="36.40" y1="297.90" x2="39.80" y2="297.90" stroke="#000" stroke-width="1.35" stroke-linecap="butt"/>
<text x="35.80" y="300.14" font-size="6.4" font-weight="bold" text-anchor="end" fill="#000" stroke="#000" stroke-width="0.25">0</text>
<line x1="36.40" y1="274.00" x2="39.80" y2="274.00" stroke="#000" stroke-width="1.35" stroke-linecap="butt"/>
<text x="35.80" y="276.24" font-size="6.4" font-weight="bold" text-anchor="end" fill="#000" stroke="#000" stroke-width="0.25">25</text>
<line x1="36.40" y1="250.10" x2="39.80" y2="250.10" stroke="#000" stroke-width="1.35" stroke-linecap="butt"/>
<text x="35.80" y="252.34" font-size="6.4" font-weight="bold" text-anchor="end" fill="#000" stroke="#000" stroke-width="0.25">50</text>
<line x1="36.40" y1="226.20" x2="39.80" y2="226.20" stroke="#000" stroke-width="1.35" stroke-linecap="butt"/>
<text x="35.80" y="228.44" font-size="6.4" font-weight="bold" text-anchor="end" fill="#000" stroke="#000" stroke-width="0.25">75</text>
<line x1="36.40" y1="202.30" x2="39.80" y2="202.30" stroke="#000" stroke-width="1.35" stroke-linecap="butt"/>
<text x="35.80" y="204.54" font-size="6.4" font-weight="bold" text-anchor="end" fill="#000" stroke="#000" stroke-width="0.25">100</text>
<line x1="36.40" y1="178.40" x2="39.80" y2="178.40" stroke="#000" stroke-width="1.35" stroke-linecap="butt"/>
<text x="35.80" y="180.64" font-size="6.4" font-weight="bold" text-anchor="end" fill="#000" stroke="#000" stroke-width="0.25">125</text>
<line x1="40.00" y1="297.90" x2="40.00" y2="301.30" stroke="#000" stroke-width="1.35" stroke-linecap="butt"/>
<text x="40.00" y="308.00" font-size="6.6" font-weight="bold" text-anchor="middle" fill="#000" stroke="#000" stroke-width="0.25">0</text>
<line x1="75.17" y1="297.90" x2="75.17" y2="301.30" stroke="#000" stroke-width="1.35" stroke-linecap="butt"/>
<text x="75.17" y="308.00" font-size="6.6" font-weight="bold" text-anchor="middle" fill="#000" stroke="#000" stroke-width="0.25">50</text>
<line x1="110.35" y1="297.90" x2="110.35" y2="301.30" stroke="#000" stroke-width="1.35" stroke-linecap="butt"/>
<text x="110.35" y="308.00" font-size="6.6" font-weight="bold" text-anchor="middle" fill="#000" stroke="#000" stroke-width="0.25">100</text>
<line x1="145.53" y1="297.90" x2="145.53" y2="301.30" stroke="#000" stroke-width="1.35" stroke-linecap="butt"/>
<text x="145.53" y="308.00" font-size="6.6" font-weight="bold" text-anchor="middle" fill="#000" stroke="#000" stroke-width="0.25">150</text>
<line x1="180.70" y1="297.90" x2="180.70" y2="301.30" stroke="#000" stroke-width="1.35" stroke-linecap="butt"/>
<text x="180.70" y="308.00" font-size="6.6" font-weight="bold" text-anchor="middle" fill="#000" stroke="#000" stroke-width="0.25">200</text>
<text x="110.40" y="319.60" font-size="7.3" font-weight="bold" text-anchor="middle" fill="#000" stroke="#000" stroke-width="0.25">Time (s)</text>
<text x="7.80" y="237.80" font-size="9.1" font-weight="bold" text-anchor="middle" fill="#000" stroke="#000" stroke-width="0.25" transform="rotate(-90 7.80 237.80)">Platelet-associated</text>
<text x="18.40" y="237.80" font-size="9.1" font-weight="bold" text-anchor="middle" fill="#000" stroke="#000" stroke-width="0.25" transform="rotate(-90 18.40 237.80)">Fibrin (μm<tspan font-size="5.64" dy="-3.28">2</tspan><tspan dy="3.28">)</tspan></text>
<circle cx="63.3" cy="213.3" r="1.0" fill="#000"/>
<text x="74.20" y="215.70" font-size="7.3" font-weight="normal" text-anchor="start" fill="#000" stroke="#000" stroke-width="0.25">Wild-type</text>
<circle cx="134.6" cy="285.6" r="0.8" fill="#888"/>
<text x="145.00" y="287.50" font-size="7.3" font-weight="normal" text-anchor="start" fill="#000" stroke="#000" stroke-width="0.25">dIYF</text>
<polyline points="249.03,296.80 249.44,296.15 249.84,296.80 250.25,296.80 250.65,296.01 251.06,296.52 251.47,296.80 251.87,296.80 252.28,296.12 252.68,296.80 253.09,296.80 253.49,296.04 253.90,296.80 254.31,296.43 254.71,296.45 255.12,296.70 255.52,295.82 255.93,296.80 256.34,296.39 256.74,296.80 257.15,295.73 257.55,296.80 257.96,296.47 258.37,295.90 258.77,295.79 259.18,296.80 259.58,295.76 259.99,295.80 260.40,296.68 260.80,295.91 261.21,296.79 261.61,296.80 262.02,296.80 262.42,296.59 262.83,295.69 263.24,296.29 263.64,295.37 264.05,295.51 264.45,296.66 264.86,296.26 265.27,296.80 265.67,295.96 266.08,295.88 266.48,295.85 266.89,296.63 267.30,295.66 267.70,296.45 268.11,295.13 268.51,295.71 268.92,296.26 269.32,294.68 269.73,294.67 270.14,295.65 270.54,294.56 270.95,295.59 271.35,295.09 271.76,294.95 272.17,294.51 272.57,295.67 272.98,295.66 273.38,295.40 273.79,294.92 274.20,294.15 274.60,294.21 275.01,295.19 275.41,294.05 275.82,294.90 276.23,295.12 276.63,294.27 277.04,293.46 277.44,293.40 277.85,294.12 278.25,293.44 278.66,294.40 279.07,294.39 279.47,292.96 279.88,293.38 280.28,294.10 280.69,293.70 281.10,292.83 281.50,293.93 281.91,293.59 282.31,292.41 282.72,293.25 283.13,292.82 283.53,292.67 283.94,292.47 284.34,292.63 284.75,292.61 285.16,291.54 285.56,291.49 285.97,291.05 286.37,292.47 286.78,292.15 287.18,290.84 287.59,291.63 288.00,290.69 288.40,291.40 288.81,291.12 289.21,290.53 289.62,290.82 290.03,290.53 290.43,291.24 290.84,289.72 291.24,289.99 291.65,290.48 292.06,289.94 292.46,289.49 292.87,288.82 293.27,290.21 293.68,288.50 294.08,288.91 294.49,289.68 294.90,288.96 295.30,288.18 295.71,289.06 296.11,288.08 296.52,287.95 296.93,287.74 297.33,288.48 297.74,288.29 298.14,286.48 298.55,287.65 298.96,287.42 299.36,286.57 299.77,287.32 300.17,285.91 300.58,285.66 300.99,286.19 301.39,285.58 301.80,285.65 302.20,285.17 302.61,285.91 303.01,286.03 303.42,285.79 303.83,284.22 304.23,284.00 304.64,285.10 305.04,284.17 305.45,284.89 305.86,284.13 306.26,284.35 306.67,283.93 307.07,283.20 307.48,283.31 307.89,283.34 308.29,283.64 308.70,284.38 309.10,284.99 309.51,284.05 309.91,284.49 310.32,285.48 310.73,285.19 311.13,285.90 311.54,284.80 311.94,284.66 312.35,286.37 312.76,285.45 313.16,285.13 313.57,285.14 313.97,285.36 314.38,286.34 314.79,285.53 315.19,285.85 315.60,285.39 316.00,285.71 316.41,285.90 316.82,285.19 317.22,285.95 317.63,285.86 318.03,284.98 318.44,284.72 318.84,285.72 319.25,285.75 319.66,285.25 320.06,286.02 320.47,284.76 320.87,286.07 321.28,286.75 321.69,286.14 322.09,286.24 322.50,286.63 322.90,286.58 323.31,287.63 323.72,287.69 324.12,287.13 324.53,288.29 324.93,287.80 325.34,288.34 325.75,287.65 326.15,287.96 326.56,287.67 326.96,288.04 327.37,287.55 327.77,287.44 328.18,287.28 328.59,286.90 328.99,286.94 329.40,286.34 329.80,286.77 330.21,286.94 330.62,287.10 331.02,286.91 331.43,286.86 331.83,286.58 332.24,285.72 332.65,286.05 333.05,286.89 333.46,286.22 333.86,287.49 334.27,287.47 334.67,287.22 335.08,288.31 335.49,288.19 335.89,288.64 336.30,288.21 336.70,288.81 337.11,288.07 337.52,287.26 337.92,287.00 338.33,286.25 338.73,286.87 339.14,286.29 339.55,286.62 339.95,286.10 340.36,285.06 340.76,284.43 341.17,285.15 341.58,285.50 341.98,284.40 342.39,285.30 342.79,284.86 343.20,285.10 343.60,283.99 344.01,283.64 344.42,284.62 344.82,283.47 345.23,284.03 345.63,283.73 346.04,283.79 346.45,284.39 346.85,284.78 347.26,285.68 347.66,285.90 348.07,285.70 348.48,287.35 348.88,287.22 349.29,287.04 349.69,286.33 350.10,286.00 350.50,284.42 350.91,284.43 351.32,284.99 351.72,284.27 352.13,285.52 352.53,286.58 352.94,286.49 353.35,287.86 353.75,287.55 354.16,287.39 354.56,288.07 354.97,288.36 355.38,288.32 355.78,288.88 356.19,288.11 356.59,288.86 357.00,289.18 357.41,288.18 357.81,288.32 358.22,289.11 358.62,287.72 359.03,287.93 359.43,287.13 359.84,286.31 360.25,286.25 360.65,285.74 361.06,283.76 361.46,283.93 361.87,283.35 362.28,283.04 362.68,281.22 363.09,280.69 363.49,281.25 363.90,279.18 364.31,279.69 364.71,279.35 365.12,278.12 365.52,277.03 365.93,277.42 366.34,276.43 366.74,275.72 367.15,274.69 367.55,274.76 367.96,274.23 368.36,274.39 368.77,274.72 369.18,276.29 369.58,275.81 369.99,275.54 370.39,276.46 370.80,276.83" fill="none" stroke="#8c8c8c" stroke-width="1.1" stroke-linejoin="round" stroke-linecap="round" opacity="1.0"/>
<circle cx="249.03" cy="296.77" r="0.60" fill="#707070"/>
<circle cx="249.56" cy="296.56" r="0.60" fill="#707070"/>
<circle cx="250.09" cy="296.80" r="0.60" fill="#707070"/>
<circle cx="250.62" cy="296.80" r="0.60" fill="#707070"/>
<circle cx="251.15" cy="296.80" r="0.60" fill="#707070"/>
<circle cx="251.68" cy="296.80" r="0.60" fill="#707070"/>
<circle cx="252.21" cy="296.80" r="0.60" fill="#707070"/>
<circle cx="252.74" cy="296.80" r="0.60" fill="#707070"/>
<circle cx="253.27" cy="296.54" r="0.60" fill="#707070"/>
<circle cx="253.79" cy="296.08" r="0.60" fill="#707070"/>
<circle cx="254.32" cy="296.33" r="0.60" fill="#707070"/>
<circle cx="254.85" cy="296.58" r="0.60" fill="#707070"/>
<circle cx="255.38" cy="296.44" r="0.60" fill="#707070"/>
<circle cx="255.91" cy="295.82" r="0.60" fill="#707070"/>
<circle cx="256.44" cy="296.28" r="0.60" fill="#707070"/>
<circle cx="256.97" cy="296.59" r="0.60" fill="#707070"/>
<circle cx="257.50" cy="296.39" r="0.60" fill="#707070"/>
<circle cx="258.03" cy="296.44" r="0.60" fill="#707070"/>
<circle cx="258.56" cy="296.66" r="0.60" fill="#707070"/>
<circle cx="259.09" cy="296.72" r="0.60" fill="#707070"/>
<circle cx="259.62" cy="296.63" r="0.60" fill="#707070"/>
<circle cx="260.15" cy="296.24" r="0.60" fill="#707070"/>
<circle cx="260.68" cy="296.57" r="0.60" fill="#707070"/>
<circle cx="261.21" cy="296.80" r="0.60" fill="#707070"/>
<circle cx="261.74" cy="296.24" r="0.60" fill="#707070"/>
<circle cx="262.27" cy="295.84" r="0.60" fill="#707070"/>
<circle cx="262.80" cy="296.05" r="0.60" fill="#707070"/>
<circle cx="263.32" cy="296.74" r="0.60" fill="#707070"/>
<circle cx="263.85" cy="296.58" r="0.60" fill="#707070"/>
<circle cx="264.38" cy="296.11" r="0.60" fill="#707070"/>
<circle cx="264.91" cy="295.43" r="0.60" fill="#707070"/>
<circle cx="265.44" cy="296.56" r="0.60" fill="#707070"/>
<circle cx="265.97" cy="296.45" r="0.60" fill="#707070"/>
<circle cx="266.50" cy="296.41" r="0.60" fill="#707070"/>
<circle cx="267.03" cy="296.11" r="0.60" fill="#707070"/>
<circle cx="267.56" cy="296.65" r="0.60" fill="#707070"/>
<circle cx="268.09" cy="295.75" r="0.60" fill="#707070"/>
<circle cx="268.62" cy="295.74" r="0.60" fill="#707070"/>
<circle cx="269.15" cy="295.83" r="0.60" fill="#707070"/>
<circle cx="269.68" cy="296.11" r="0.60" fill="#707070"/>
<circle cx="270.21" cy="295.75" r="0.60" fill="#707070"/>
<circle cx="270.74" cy="295.07" r="0.60" fill="#707070"/>
<circle cx="271.27" cy="294.67" r="0.60" fill="#707070"/>
<circle cx="271.80" cy="295.13" r="0.60" fill="#707070"/>
<circle cx="272.33" cy="294.28" r="0.60" fill="#707070"/>
<circle cx="272.85" cy="295.18" r="0.60" fill="#707070"/>
<circle cx="273.38" cy="294.87" r="0.60" fill="#707070"/>
<circle cx="273.91" cy="294.61" r="0.60" fill="#707070"/>
<circle cx="274.44" cy="294.16" r="0.60" fill="#707070"/>
<circle cx="274.97" cy="294.12" r="0.60" fill="#707070"/>
<circle cx="275.50" cy="294.44" r="0.60" fill="#707070"/>
<circle cx="276.03" cy="293.95" r="0.60" fill="#707070"/>
<circle cx="276.56" cy="293.21" r="0.60" fill="#707070"/>
<circle cx="277.09" cy="293.65" r="0.60" fill="#707070"/>
<circle cx="277.62" cy="295.48" r="0.60" fill="#707070"/>
<circle cx="278.15" cy="294.66" r="0.60" fill="#707070"/>
<circle cx="278.68" cy="293.39" r="0.60" fill="#707070"/>
<circle cx="279.21" cy="293.38" r="0.60" fill="#707070"/>
<circle cx="279.74" cy="294.43" r="0.60" fill="#707070"/>
<circle cx="280.27" cy="294.00" r="0.60" fill="#707070"/>
<circle cx="280.80" cy="293.56" r="0.60" fill="#707070"/>
<circle cx="281.33" cy="293.56" r="0.60" fill="#707070"/>
<circle cx="281.85" cy="293.84" r="0.60" fill="#707070"/>
<circle cx="282.38" cy="292.48" r="0.60" fill="#707070"/>
<circle cx="282.91" cy="292.67" r="0.60" fill="#707070"/>
<circle cx="283.44" cy="292.18" r="0.60" fill="#707070"/>
<circle cx="283.97" cy="291.55" r="0.60" fill="#707070"/>
<circle cx="284.50" cy="293.05" r="0.60" fill="#707070"/>
<circle cx="285.03" cy="292.90" r="0.60" fill="#707070"/>
<circle cx="285.56" cy="291.15" r="0.60" fill="#707070"/>
<circle cx="286.09" cy="292.33" r="0.60" fill="#707070"/>
<circle cx="286.62" cy="291.89" r="0.60" fill="#707070"/>
<circle cx="287.15" cy="291.86" r="0.60" fill="#707070"/>
<circle cx="287.68" cy="291.45" r="0.60" fill="#707070"/>
<circle cx="288.21" cy="291.10" r="0.60" fill="#707070"/>
<circle cx="288.74" cy="291.17" r="0.60" fill="#707070"/>
<circle cx="289.27" cy="290.95" r="0.60" fill="#707070"/>
<circle cx="289.80" cy="290.88" r="0.60" fill="#707070"/>
<circle cx="290.33" cy="290.38" r="0.60" fill="#707070"/>
<circle cx="290.86" cy="290.90" r="0.60" fill="#707070"/>
<circle cx="291.38" cy="290.08" r="0.60" fill="#707070"/>
<circle cx="291.91" cy="290.32" r="0.60" fill="#707070"/>
<circle cx="292.44" cy="289.24" r="0.60" fill="#707070"/>
<circle cx="292.97" cy="288.34" r="0.60" fill="#707070"/>
<circle cx="293.50" cy="288.42" r="0.60" fill="#707070"/>
<circle cx="294.03" cy="289.22" r="0.60" fill="#707070"/>
<circle cx="294.56" cy="289.05" r="0.60" fill="#707070"/>
<circle cx="295.09" cy="289.55" r="0.60" fill="#707070"/>
<circle cx="295.62" cy="289.98" r="0.60" fill="#707070"/>
<circle cx="296.15" cy="289.66" r="0.60" fill="#707070"/>
<circle cx="296.68" cy="288.81" r="0.60" fill="#707070"/>
<circle cx="297.21" cy="288.69" r="0.60" fill="#707070"/>
<circle cx="297.74" cy="287.92" r="0.60" fill="#707070"/>
<circle cx="298.27" cy="289.02" r="0.60" fill="#707070"/>
<circle cx="298.80" cy="287.97" r="0.60" fill="#707070"/>
<circle cx="299.33" cy="287.63" r="0.60" fill="#707070"/>
<circle cx="299.86" cy="285.04" r="0.60" fill="#707070"/>
<circle cx="300.39" cy="288.68" r="0.60" fill="#707070"/>
<circle cx="300.91" cy="288.33" r="0.60" fill="#707070"/>
<circle cx="301.44" cy="285.76" r="0.60" fill="#707070"/>
<circle cx="301.97" cy="286.68" r="0.60" fill="#707070"/>
<circle cx="302.50" cy="284.44" r="0.60" fill="#707070"/>
<circle cx="303.03" cy="283.20" r="0.60" fill="#707070"/>
<circle cx="303.56" cy="283.05" r="0.60" fill="#707070"/>
<circle cx="304.09" cy="284.57" r="0.60" fill="#707070"/>
<circle cx="304.62" cy="282.84" r="0.60" fill="#707070"/>
<circle cx="305.15" cy="281.60" r="0.60" fill="#707070"/>
<circle cx="305.68" cy="283.21" r="0.60" fill="#707070"/>
<circle cx="306.21" cy="281.40" r="0.60" fill="#707070"/>
<circle cx="306.74" cy="283.94" r="0.60" fill="#707070"/>
<circle cx="307.27" cy="283.66" r="0.60" fill="#707070"/>
<circle cx="307.80" cy="284.87" r="0.60" fill="#707070"/>
<circle cx="308.33" cy="285.88" r="0.60" fill="#707070"/>
<circle cx="308.86" cy="285.01" r="0.60" fill="#707070"/>
<circle cx="309.39" cy="284.90" r="0.60" fill="#707070"/>
<circle cx="309.91" cy="283.30" r="0.60" fill="#707070"/>
<circle cx="310.44" cy="285.01" r="0.60" fill="#707070"/>
<circle cx="310.97" cy="287.30" r="0.60" fill="#707070"/>
<circle cx="311.50" cy="286.35" r="0.60" fill="#707070"/>
<circle cx="312.03" cy="287.30" r="0.60" fill="#707070"/>
<circle cx="312.56" cy="286.71" r="0.60" fill="#707070"/>
<circle cx="313.09" cy="285.51" r="0.60" fill="#707070"/>
<circle cx="313.62" cy="283.87" r="0.60" fill="#707070"/>
<circle cx="314.15" cy="283.56" r="0.60" fill="#707070"/>
<circle cx="314.68" cy="285.74" r="0.60" fill="#707070"/>
<circle cx="315.21" cy="284.82" r="0.60" fill="#707070"/>
<circle cx="315.74" cy="285.62" r="0.60" fill="#707070"/>
<circle cx="316.27" cy="286.16" r="0.60" fill="#707070"/>
<circle cx="316.80" cy="284.53" r="0.60" fill="#707070"/>
<circle cx="317.33" cy="285.31" r="0.60" fill="#707070"/>
<circle cx="317.86" cy="284.93" r="0.60" fill="#707070"/>
<circle cx="318.39" cy="284.04" r="0.60" fill="#707070"/>
<circle cx="318.92" cy="284.96" r="0.60" fill="#707070"/>
<circle cx="319.44" cy="284.73" r="0.60" fill="#707070"/>
<circle cx="319.97" cy="284.08" r="0.60" fill="#707070"/>
<circle cx="320.50" cy="286.26" r="0.60" fill="#707070"/>
<circle cx="321.03" cy="287.06" r="0.60" fill="#707070"/>
<circle cx="321.56" cy="287.71" r="0.60" fill="#707070"/>
<circle cx="322.09" cy="285.36" r="0.60" fill="#707070"/>
<circle cx="322.62" cy="287.46" r="0.60" fill="#707070"/>
<circle cx="323.15" cy="284.02" r="0.60" fill="#707070"/>
<circle cx="323.68" cy="286.54" r="0.60" fill="#707070"/>
<circle cx="324.21" cy="285.50" r="0.60" fill="#707070"/>
<circle cx="324.74" cy="287.22" r="0.60" fill="#707070"/>
<circle cx="325.27" cy="287.71" r="0.60" fill="#707070"/>
<circle cx="325.80" cy="287.70" r="0.60" fill="#707070"/>
<circle cx="326.33" cy="285.18" r="0.60" fill="#707070"/>
<circle cx="326.86" cy="284.80" r="0.60" fill="#707070"/>
<circle cx="327.39" cy="287.33" r="0.60" fill="#707070"/>
<circle cx="327.92" cy="287.54" r="0.60" fill="#707070"/>
<circle cx="328.45" cy="284.34" r="0.60" fill="#707070"/>
<circle cx="328.97" cy="286.37" r="0.60" fill="#707070"/>
<circle cx="329.50" cy="288.53" r="0.60" fill="#707070"/>
<circle cx="330.03" cy="287.59" r="0.60" fill="#707070"/>
<circle cx="330.56" cy="285.78" r="0.60" fill="#707070"/>
<circle cx="331.09" cy="285.97" r="0.60" fill="#707070"/>
<circle cx="331.62" cy="284.42" r="0.60" fill="#707070"/>
<circle cx="332.15" cy="284.33" r="0.60" fill="#707070"/>
<circle cx="332.68" cy="283.27" r="0.60" fill="#707070"/>
<circle cx="333.21" cy="283.86" r="0.60" fill="#707070"/>
<circle cx="333.74" cy="284.46" r="0.60" fill="#707070"/>
<circle cx="334.27" cy="289.44" r="0.60" fill="#707070"/>
<circle cx="334.80" cy="287.90" r="0.60" fill="#707070"/>
<circle cx="335.33" cy="287.01" r="0.60" fill="#707070"/>
<circle cx="335.86" cy="286.18" r="0.60" fill="#707070"/>
<circle cx="336.39" cy="286.51" r="0.60" fill="#707070"/>
<circle cx="336.92" cy="287.48" r="0.60" fill="#707070"/>
<circle cx="337.45" cy="287.90" r="0.60" fill="#707070"/>
<circle cx="337.98" cy="286.60" r="0.60" fill="#707070"/>
<circle cx="338.50" cy="286.81" r="0.60" fill="#707070"/>
<circle cx="339.03" cy="286.47" r="0.60" fill="#707070"/>
<circle cx="339.56" cy="287.05" r="0.60" fill="#707070"/>
<circle cx="340.09" cy="286.19" r="0.60" fill="#707070"/>
<circle cx="340.62" cy="284.48" r="0.60" fill="#707070"/>
<circle cx="341.15" cy="285.77" r="0.60" fill="#707070"/>
<circle cx="341.68" cy="284.49" r="0.60" fill="#707070"/>
<circle cx="342.21" cy="286.46" r="0.60" fill="#707070"/>
<circle cx="342.74" cy="283.68" r="0.60" fill="#707070"/>
<circle cx="343.27" cy="285.13" r="0.60" fill="#707070"/>
<circle cx="343.80" cy="284.15" r="0.60" fill="#707070"/>
<circle cx="344.33" cy="281.29" r="0.60" fill="#707070"/>
<circle cx="344.86" cy="283.44" r="0.60" fill="#707070"/>
<circle cx="345.39" cy="283.92" r="0.60" fill="#707070"/>
<circle cx="345.92" cy="283.23" r="0.60" fill="#707070"/>
<circle cx="346.45" cy="284.04" r="0.60" fill="#707070"/>
<circle cx="346.98" cy="283.43" r="0.60" fill="#707070"/>
<circle cx="347.50" cy="283.30" r="0.60" fill="#707070"/>
<circle cx="348.03" cy="286.28" r="0.60" fill="#707070"/>
<circle cx="348.56" cy="289.99" r="0.60" fill="#707070"/>
<circle cx="349.09" cy="290.41" r="0.60" fill="#707070"/>
<circle cx="349.62" cy="287.83" r="0.60" fill="#707070"/>
<circle cx="350.15" cy="285.53" r="0.60" fill="#707070"/>
<circle cx="350.68" cy="282.00" r="0.60" fill="#707070"/>
<circle cx="351.21" cy="279.74" r="0.60" fill="#707070"/>
<circle cx="351.74" cy="282.65" r="0.60" fill="#707070"/>
<circle cx="352.27" cy="282.85" r="0.60" fill="#707070"/>
<circle cx="352.80" cy="287.12" r="0.60" fill="#707070"/>
<circle cx="353.33" cy="286.02" r="0.60" fill="#707070"/>
<circle cx="353.86" cy="288.46" r="0.60" fill="#707070"/>
<circle cx="354.39" cy="287.15" r="0.60" fill="#707070"/>
<circle cx="354.92" cy="286.81" r="0.60" fill="#707070"/>
<circle cx="355.45" cy="288.22" r="0.60" fill="#707070"/>
<circle cx="355.98" cy="286.90" r="0.60" fill="#707070"/>
<circle cx="356.51" cy="287.47" r="0.60" fill="#707070"/>
<circle cx="357.03" cy="286.37" r="0.60" fill="#707070"/>
<circle cx="357.56" cy="287.02" r="0.60" fill="#707070"/>
<circle cx="358.09" cy="291.38" r="0.60" fill="#707070"/>
<circle cx="358.62" cy="287.35" r="0.60" fill="#707070"/>
<circle cx="359.15" cy="289.65" r="0.60" fill="#707070"/>
<circle cx="359.68" cy="286.64" r="0.60" fill="#707070"/>
<circle cx="360.21" cy="285.66" r="0.60" fill="#707070"/>
<circle cx="360.74" cy="285.58" r="0.60" fill="#707070"/>
<circle cx="361.27" cy="285.90" r="0.60" fill="#707070"/>
<circle cx="361.80" cy="286.90" r="0.60" fill="#707070"/>
<circle cx="362.33" cy="282.62" r="0.60" fill="#707070"/>
<circle cx="362.86" cy="281.36" r="0.60" fill="#707070"/>
<circle cx="363.39" cy="280.62" r="0.60" fill="#707070"/>
<circle cx="363.92" cy="278.12" r="0.60" fill="#707070"/>
<circle cx="364.45" cy="278.50" r="0.60" fill="#707070"/>
<circle cx="364.98" cy="278.08" r="0.60" fill="#707070"/>
<circle cx="365.51" cy="276.23" r="0.60" fill="#707070"/>
<circle cx="366.04" cy="278.51" r="0.60" fill="#707070"/>
<circle cx="366.56" cy="277.30" r="0.60" fill="#707070"/>
<circle cx="367.09" cy="278.39" r="0.60" fill="#707070"/>
<circle cx="367.62" cy="278.00" r="0.60" fill="#707070"/>
<circle cx="368.15" cy="276.49" r="0.60" fill="#707070"/>
<circle cx="368.68" cy="276.70" r="0.60" fill="#707070"/>
<circle cx="369.21" cy="277.03" r="0.60" fill="#707070"/>
<circle cx="369.74" cy="277.17" r="0.60" fill="#707070"/>
<circle cx="370.27" cy="278.05" r="0.60" fill="#707070"/>
<circle cx="370.80" cy="274.60" r="0.60" fill="#707070"/>
<polyline points="235.50,295.94 235.87,295.74 236.24,295.90 236.62,295.80 236.99,295.74 237.36,295.70 237.73,295.79 238.10,295.77 238.48,295.91 238.85,295.78 239.22,295.80 239.59,295.66 239.96,295.74 240.34,295.68 240.71,295.76 241.08,295.83 241.45,295.63 241.83,295.64 242.20,295.76 242.57,295.84 242.94,295.71 243.31,295.71 243.69,295.63 244.06,295.68 244.43,295.70 244.80,295.67 245.17,295.73 245.55,295.82 245.92,295.81 246.29,295.55 246.66,295.58 247.03,295.73 247.41,295.55 247.78,295.61 248.15,295.58 248.52,295.21 248.89,295.13 249.27,294.87 249.64,294.79 250.01,294.80 250.38,294.49" fill="none" stroke="#000" stroke-width="1.5" stroke-linejoin="round" stroke-linecap="round" opacity="1.0"/>
<circle cx="248.35" cy="294.75" r="0.95" fill="#000"/>
<circle cx="248.87" cy="294.86" r="0.95" fill="#000"/>
<circle cx="249.40" cy="295.66" r="0.95" fill="#000"/>
<circle cx="249.92" cy="296.77" r="0.95" fill="#000"/>
<circle cx="250.44" cy="294.41" r="0.95" fill="#000"/>
<circle cx="250.96" cy="293.66" r="0.95" fill="#000"/>
<circle cx="251.48" cy="292.59" r="0.95" fill="#000"/>
<circle cx="252.00" cy="290.60" r="0.95" fill="#000"/>
<circle cx="252.52" cy="293.43" r="0.95" fill="#000"/>
<circle cx="253.04" cy="293.19" r="0.95" fill="#000"/>
<circle cx="253.56" cy="291.82" r="0.95" fill="#000"/>
<circle cx="254.09" cy="291.98" r="0.95" fill="#000"/>
<circle cx="254.61" cy="290.66" r="0.95" fill="#000"/>
<circle cx="255.13" cy="288.81" r="0.95" fill="#000"/>
<circle cx="255.65" cy="291.26" r="0.95" fill="#000"/>
<circle cx="256.17" cy="291.11" r="0.95" fill="#000"/>
<circle cx="256.69" cy="286.59" r="0.95" fill="#000"/>
<circle cx="257.21" cy="287.14" r="0.95" fill="#000"/>
<circle cx="257.73" cy="289.85" r="0.95" fill="#000"/>
<circle cx="258.25" cy="290.21" r="0.95" fill="#000"/>
<circle cx="258.77" cy="285.23" r="0.95" fill="#000"/>
<circle cx="259.30" cy="284.48" r="0.95" fill="#000"/>
<circle cx="259.82" cy="284.27" r="0.95" fill="#000"/>
<circle cx="260.34" cy="282.74" r="0.95" fill="#000"/>
<circle cx="260.86" cy="284.57" r="0.95" fill="#000"/>
<circle cx="261.38" cy="281.12" r="0.95" fill="#000"/>
<circle cx="261.90" cy="277.93" r="0.95" fill="#000"/>
<circle cx="262.42" cy="281.54" r="0.95" fill="#000"/>
<circle cx="262.94" cy="280.87" r="0.95" fill="#000"/>
<circle cx="263.46" cy="281.62" r="0.95" fill="#000"/>
<circle cx="263.98" cy="281.86" r="0.95" fill="#000"/>
<circle cx="264.51" cy="281.83" r="0.95" fill="#000"/>
<circle cx="265.03" cy="278.04" r="0.95" fill="#000"/>
<circle cx="265.55" cy="278.72" r="0.95" fill="#000"/>
<circle cx="266.07" cy="276.43" r="0.95" fill="#000"/>
<circle cx="266.59" cy="272.82" r="0.95" fill="#000"/>
<circle cx="267.11" cy="274.94" r="0.95" fill="#000"/>
<circle cx="267.63" cy="268.61" r="0.95" fill="#000"/>
<circle cx="268.15" cy="272.37" r="0.95" fill="#000"/>
<circle cx="268.67" cy="269.58" r="0.95" fill="#000"/>
<circle cx="269.20" cy="268.82" r="0.95" fill="#000"/>
<circle cx="269.72" cy="262.32" r="0.95" fill="#000"/>
<circle cx="270.24" cy="260.65" r="0.95" fill="#000"/>
<circle cx="270.76" cy="249.93" r="0.95" fill="#000"/>
<circle cx="271.28" cy="254.83" r="0.95" fill="#000"/>
<circle cx="271.80" cy="255.93" r="0.95" fill="#000"/>
<circle cx="272.32" cy="256.01" r="0.95" fill="#000"/>
<circle cx="272.84" cy="252.74" r="0.95" fill="#000"/>
<circle cx="273.36" cy="258.37" r="0.95" fill="#000"/>
<circle cx="273.88" cy="253.10" r="0.95" fill="#000"/>
<circle cx="274.41" cy="250.06" r="0.95" fill="#000"/>
<circle cx="274.93" cy="251.77" r="0.95" fill="#000"/>
<circle cx="275.45" cy="248.00" r="0.95" fill="#000"/>
<circle cx="275.97" cy="246.20" r="0.95" fill="#000"/>
<circle cx="276.49" cy="238.62" r="0.95" fill="#000"/>
<circle cx="277.01" cy="242.86" r="0.95" fill="#000"/>
<circle cx="277.53" cy="239.34" r="0.95" fill="#000"/>
<circle cx="278.05" cy="234.92" r="0.95" fill="#000"/>
<circle cx="278.57" cy="240.79" r="0.95" fill="#000"/>
<circle cx="279.10" cy="243.10" r="0.95" fill="#000"/>
<circle cx="279.62" cy="245.89" r="0.95" fill="#000"/>
<circle cx="280.14" cy="243.60" r="0.95" fill="#000"/>
<circle cx="280.66" cy="242.27" r="0.95" fill="#000"/>
<circle cx="281.18" cy="240.54" r="0.95" fill="#000"/>
<circle cx="281.70" cy="238.61" r="0.95" fill="#000"/>
<circle cx="282.22" cy="240.47" r="0.95" fill="#000"/>
<circle cx="282.74" cy="237.35" r="0.95" fill="#000"/>
<circle cx="283.26" cy="237.19" r="0.95" fill="#000"/>
<circle cx="283.78" cy="235.83" r="0.95" fill="#000"/>
<circle cx="284.31" cy="240.13" r="0.95" fill="#000"/>
<circle cx="284.83" cy="238.81" r="0.95" fill="#000"/>
<circle cx="285.35" cy="236.95" r="0.95" fill="#000"/>
<circle cx="285.87" cy="234.86" r="0.95" fill="#000"/>
<circle cx="286.39" cy="231.74" r="0.95" fill="#000"/>
<circle cx="286.91" cy="236.98" r="0.95" fill="#000"/>
<circle cx="287.43" cy="227.45" r="0.95" fill="#000"/>
<circle cx="287.95" cy="233.74" r="0.95" fill="#000"/>
<circle cx="288.47" cy="234.57" r="0.95" fill="#000"/>
<circle cx="289.00" cy="236.32" r="0.95" fill="#000"/>
<circle cx="289.52" cy="236.33" r="0.95" fill="#000"/>
<circle cx="290.04" cy="236.68" r="0.95" fill="#000"/>
<circle cx="290.56" cy="236.95" r="0.95" fill="#000"/>
<circle cx="291.08" cy="234.16" r="0.95" fill="#000"/>
<circle cx="291.60" cy="234.57" r="0.95" fill="#000"/>
<circle cx="292.12" cy="231.82" r="0.95" fill="#000"/>
<circle cx="292.64" cy="230.92" r="0.95" fill="#000"/>
<circle cx="293.16" cy="234.28" r="0.95" fill="#000"/>
<circle cx="293.68" cy="240.95" r="0.95" fill="#000"/>
<circle cx="294.21" cy="241.25" r="0.95" fill="#000"/>
<circle cx="294.73" cy="238.23" r="0.95" fill="#000"/>
<circle cx="295.25" cy="242.03" r="0.95" fill="#000"/>
<circle cx="295.77" cy="246.25" r="0.95" fill="#000"/>
<circle cx="296.29" cy="242.35" r="0.95" fill="#000"/>
<circle cx="296.81" cy="233.37" r="0.95" fill="#000"/>
<circle cx="297.33" cy="236.52" r="0.95" fill="#000"/>
<circle cx="297.85" cy="232.95" r="0.95" fill="#000"/>
<circle cx="298.37" cy="228.98" r="0.95" fill="#000"/>
<circle cx="298.90" cy="231.09" r="0.95" fill="#000"/>
<circle cx="299.42" cy="218.46" r="0.95" fill="#000"/>
<circle cx="299.94" cy="221.97" r="0.95" fill="#000"/>
<circle cx="300.46" cy="220.81" r="0.95" fill="#000"/>
<circle cx="300.98" cy="229.26" r="0.95" fill="#000"/>
<circle cx="301.50" cy="227.74" r="0.95" fill="#000"/>
<circle cx="302.02" cy="224.22" r="0.95" fill="#000"/>
<circle cx="302.54" cy="223.77" r="0.95" fill="#000"/>
<circle cx="303.06" cy="226.90" r="0.95" fill="#000"/>
<circle cx="303.58" cy="236.56" r="0.95" fill="#000"/>
<circle cx="304.11" cy="225.56" r="0.95" fill="#000"/>
<circle cx="304.63" cy="227.40" r="0.95" fill="#000"/>
<circle cx="305.15" cy="230.49" r="0.95" fill="#000"/>
<circle cx="305.67" cy="234.57" r="0.95" fill="#000"/>
<circle cx="306.19" cy="234.57" r="0.95" fill="#000"/>
<circle cx="306.71" cy="236.98" r="0.95" fill="#000"/>
<circle cx="307.23" cy="236.39" r="0.95" fill="#000"/>
<circle cx="307.75" cy="232.67" r="0.95" fill="#000"/>
<circle cx="308.27" cy="234.09" r="0.95" fill="#000"/>
<circle cx="308.80" cy="233.69" r="0.95" fill="#000"/>
<circle cx="309.32" cy="230.97" r="0.95" fill="#000"/>
<circle cx="309.84" cy="224.29" r="0.95" fill="#000"/>
<circle cx="310.36" cy="212.90" r="0.95" fill="#000"/>
<circle cx="310.88" cy="215.43" r="0.95" fill="#000"/>
<circle cx="311.40" cy="211.93" r="0.95" fill="#000"/>
<circle cx="311.92" cy="210.24" r="0.95" fill="#000"/>
<circle cx="312.44" cy="212.06" r="0.95" fill="#000"/>
<circle cx="312.96" cy="212.55" r="0.95" fill="#000"/>
<circle cx="313.48" cy="210.38" r="0.95" fill="#000"/>
<circle cx="314.01" cy="229.27" r="0.95" fill="#000"/>
<circle cx="314.53" cy="217.47" r="0.95" fill="#000"/>
<circle cx="315.05" cy="218.05" r="0.95" fill="#000"/>
<circle cx="315.57" cy="216.84" r="0.95" fill="#000"/>
<circle cx="316.09" cy="217.83" r="0.95" fill="#000"/>
<circle cx="316.61" cy="225.10" r="0.95" fill="#000"/>
<circle cx="317.13" cy="227.46" r="0.95" fill="#000"/>
<circle cx="317.65" cy="233.26" r="0.95" fill="#000"/>
<circle cx="318.17" cy="223.03" r="0.95" fill="#000"/>
<circle cx="318.70" cy="227.80" r="0.95" fill="#000"/>
<circle cx="319.22" cy="228.32" r="0.95" fill="#000"/>
<circle cx="319.74" cy="232.13" r="0.95" fill="#000"/>
<circle cx="320.26" cy="236.32" r="0.95" fill="#000"/>
<circle cx="320.78" cy="236.17" r="0.95" fill="#000"/>
<circle cx="321.30" cy="232.24" r="0.95" fill="#000"/>
<circle cx="321.82" cy="226.55" r="0.95" fill="#000"/>
<circle cx="322.34" cy="223.25" r="0.95" fill="#000"/>
<circle cx="322.86" cy="232.83" r="0.95" fill="#000"/>
<circle cx="323.38" cy="230.69" r="0.95" fill="#000"/>
<circle cx="323.91" cy="228.18" r="0.95" fill="#000"/>
<circle cx="324.43" cy="226.97" r="0.95" fill="#000"/>
<circle cx="324.95" cy="218.00" r="0.95" fill="#000"/>
<circle cx="325.47" cy="219.20" r="0.95" fill="#000"/>
<circle cx="325.99" cy="223.26" r="0.95" fill="#000"/>
<circle cx="326.51" cy="233.32" r="0.95" fill="#000"/>
<circle cx="327.03" cy="232.14" r="0.95" fill="#000"/>
<circle cx="327.55" cy="228.21" r="0.95" fill="#000"/>
<circle cx="328.07" cy="228.11" r="0.95" fill="#000"/>
<circle cx="328.60" cy="224.33" r="0.95" fill="#000"/>
<circle cx="329.12" cy="235.26" r="0.95" fill="#000"/>
<circle cx="329.64" cy="225.49" r="0.95" fill="#000"/>
<circle cx="330.16" cy="223.60" r="0.95" fill="#000"/>
<circle cx="330.68" cy="228.79" r="0.95" fill="#000"/>
<circle cx="331.20" cy="230.37" r="0.95" fill="#000"/>
<circle cx="331.72" cy="221.91" r="0.95" fill="#000"/>
<circle cx="332.24" cy="228.26" r="0.95" fill="#000"/>
<circle cx="332.76" cy="229.53" r="0.95" fill="#000"/>
<circle cx="333.28" cy="233.54" r="0.95" fill="#000"/>
<circle cx="333.81" cy="225.71" r="0.95" fill="#000"/>
<circle cx="334.33" cy="233.39" r="0.95" fill="#000"/>
<circle cx="334.85" cy="222.72" r="0.95" fill="#000"/>
<circle cx="335.37" cy="220.22" r="0.95" fill="#000"/>
<circle cx="335.89" cy="222.34" r="0.95" fill="#000"/>
<circle cx="336.41" cy="228.51" r="0.95" fill="#000"/>
<circle cx="336.93" cy="225.14" r="0.95" fill="#000"/>
<circle cx="337.45" cy="222.57" r="0.95" fill="#000"/>
<circle cx="337.97" cy="214.71" r="0.95" fill="#000"/>
<circle cx="338.49" cy="227.45" r="0.95" fill="#000"/>
<circle cx="339.02" cy="232.82" r="0.95" fill="#000"/>
<circle cx="339.54" cy="217.83" r="0.95" fill="#000"/>
<circle cx="340.06" cy="211.95" r="0.95" fill="#000"/>
<circle cx="340.58" cy="210.37" r="0.95" fill="#000"/>
<circle cx="341.10" cy="215.92" r="0.95" fill="#000"/>
<circle cx="341.62" cy="214.10" r="0.95" fill="#000"/>
<circle cx="342.14" cy="216.54" r="0.95" fill="#000"/>
<circle cx="342.66" cy="207.65" r="0.95" fill="#000"/>
<circle cx="343.18" cy="210.67" r="0.95" fill="#000"/>
<circle cx="343.71" cy="207.90" r="0.95" fill="#000"/>
<circle cx="344.23" cy="201.64" r="0.95" fill="#000"/>
<circle cx="344.75" cy="206.90" r="0.95" fill="#000"/>
<circle cx="345.27" cy="209.32" r="0.95" fill="#000"/>
<circle cx="345.79" cy="215.11" r="0.95" fill="#000"/>
<circle cx="346.31" cy="217.77" r="0.95" fill="#000"/>
<circle cx="346.83" cy="215.03" r="0.95" fill="#000"/>
<circle cx="347.35" cy="219.97" r="0.95" fill="#000"/>
<circle cx="347.87" cy="218.38" r="0.95" fill="#000"/>
<circle cx="348.39" cy="223.54" r="0.95" fill="#000"/>
<circle cx="348.92" cy="223.25" r="0.95" fill="#000"/>
<circle cx="349.44" cy="230.33" r="0.95" fill="#000"/>
<circle cx="349.96" cy="237.68" r="0.95" fill="#000"/>
<circle cx="350.48" cy="232.77" r="0.95" fill="#000"/>
<circle cx="351.00" cy="231.11" r="0.95" fill="#000"/>
<circle cx="351.52" cy="236.20" r="0.95" fill="#000"/>
<circle cx="352.04" cy="235.47" r="0.95" fill="#000"/>
<circle cx="352.56" cy="231.35" r="0.95" fill="#000"/>
<circle cx="353.08" cy="226.68" r="0.95" fill="#000"/>
<circle cx="353.61" cy="229.53" r="0.95" fill="#000"/>
<circle cx="354.13" cy="230.08" r="0.95" fill="#000"/>
<circle cx="354.65" cy="236.23" r="0.95" fill="#000"/>
<circle cx="355.17" cy="227.63" r="0.95" fill="#000"/>
<circle cx="355.69" cy="232.09" r="0.95" fill="#000"/>
<circle cx="356.21" cy="231.72" r="0.95" fill="#000"/>
<circle cx="356.73" cy="243.31" r="0.95" fill="#000"/>
<circle cx="357.25" cy="237.89" r="0.95" fill="#000"/>
<circle cx="357.77" cy="239.60" r="0.95" fill="#000"/>
<circle cx="358.29" cy="240.49" r="0.95" fill="#000"/>
<circle cx="358.82" cy="238.72" r="0.95" fill="#000"/>
<circle cx="359.34" cy="232.33" r="0.95" fill="#000"/>
<circle cx="359.86" cy="235.61" r="0.95" fill="#000"/>
<circle cx="360.38" cy="238.36" r="0.95" fill="#000"/>
<circle cx="360.90" cy="231.64" r="0.95" fill="#000"/>
<circle cx="361.42" cy="235.51" r="0.95" fill="#000"/>
<circle cx="361.94" cy="232.23" r="0.95" fill="#000"/>
<circle cx="362.46" cy="237.49" r="0.95" fill="#000"/>
<circle cx="362.98" cy="229.02" r="0.95" fill="#000"/>
<circle cx="363.51" cy="232.32" r="0.95" fill="#000"/>
<circle cx="364.03" cy="237.72" r="0.95" fill="#000"/>
<circle cx="364.55" cy="237.88" r="0.95" fill="#000"/>
<circle cx="365.07" cy="241.64" r="0.95" fill="#000"/>
<circle cx="365.59" cy="236.08" r="0.95" fill="#000"/>
<circle cx="366.11" cy="231.26" r="0.95" fill="#000"/>
<circle cx="366.63" cy="225.75" r="0.95" fill="#000"/>
<circle cx="367.15" cy="232.76" r="0.95" fill="#000"/>
<circle cx="367.67" cy="229.26" r="0.95" fill="#000"/>
<circle cx="368.19" cy="227.93" r="0.95" fill="#000"/>
<circle cx="368.72" cy="223.09" r="0.95" fill="#000"/>
<circle cx="369.24" cy="222.66" r="0.95" fill="#000"/>
<circle cx="369.76" cy="221.85" r="0.95" fill="#000"/>
<circle cx="370.28" cy="219.62" r="0.95" fill="#000"/>
<circle cx="370.80" cy="220.99" r="0.95" fill="#000"/>
<circle cx="312.08" cy="201.07" r="0.95" fill="#000"/>
<circle cx="311.67" cy="205.76" r="0.95" fill="#000"/>
<circle cx="344.62" cy="199.07" r="0.95" fill="#000"/>
<circle cx="344.01" cy="205.76" r="0.95" fill="#000"/>
<circle cx="343.00" cy="209.03" r="0.95" fill="#000"/>
<circle cx="325.07" cy="209.03" r="0.95" fill="#000"/>
<circle cx="325.07" cy="217.14" r="0.95" fill="#000"/>
<circle cx="308.02" cy="251.28" r="0.95" fill="#000"/>
<circle cx="307.61" cy="250.57" r="0.95" fill="#000"/>
<circle cx="322.09" cy="243.31" r="0.95" fill="#000"/>
<circle cx="321.08" cy="238.19" r="0.95" fill="#000"/>
<circle cx="330.21" cy="245.31" r="0.95" fill="#000"/>
<circle cx="358.08" cy="241.32" r="0.95" fill="#000"/>
<circle cx="285.97" cy="230.37" r="0.95" fill="#000"/>
<line x1="235.40" y1="183.00" x2="235.40" y2="297.35" stroke="#000" stroke-width="1.35" stroke-linecap="butt"/>
<line x1="234.85" y1="296.80" x2="371.20" y2="296.80" stroke="#000" stroke-width="1.35" stroke-linecap="butt"/>
<line x1="232.00" y1="296.80" x2="235.40" y2="296.80" stroke="#000" stroke-width="1.35" stroke-linecap="butt"/>
<text x="231.40" y="298.90" font-size="6.0" font-weight="bold" text-anchor="end" fill="#000" stroke="#000" stroke-width="0.25">0</text>
<line x1="232.00" y1="268.35" x2="235.40" y2="268.35" stroke="#000" stroke-width="1.35" stroke-linecap="butt"/>
<text x="231.40" y="270.45" font-size="6.0" font-weight="bold" text-anchor="end" fill="#000" stroke="#000" stroke-width="0.25">20</text>
<line x1="232.00" y1="239.90" x2="235.40" y2="239.90" stroke="#000" stroke-width="1.35" stroke-linecap="butt"/>
<text x="231.40" y="242.00" font-size="6.0" font-weight="bold" text-anchor="end" fill="#000" stroke="#000" stroke-width="0.25">40</text>
<line x1="232.00" y1="211.45" x2="235.40" y2="211.45" stroke="#000" stroke-width="1.35" stroke-linecap="butt"/>
<text x="231.40" y="213.55" font-size="6.0" font-weight="bold" text-anchor="end" fill="#000" stroke="#000" stroke-width="0.25">60</text>
<line x1="232.00" y1="183.00" x2="235.40" y2="183.00" stroke="#000" stroke-width="1.35" stroke-linecap="butt"/>
<text x="231.40" y="185.10" font-size="6.0" font-weight="bold" text-anchor="end" fill="#000" stroke="#000" stroke-width="0.25">80</text>
<line x1="235.50" y1="296.80" x2="235.50" y2="300.20" stroke="#000" stroke-width="1.35" stroke-linecap="butt"/>
<text x="235.50" y="306.90" font-size="6.5" font-weight="bold" text-anchor="middle" fill="#000" stroke="#000" stroke-width="0.25">0</text>
<line x1="269.32" y1="296.80" x2="269.32" y2="300.20" stroke="#000" stroke-width="1.35" stroke-linecap="butt"/>
<text x="269.32" y="306.90" font-size="6.5" font-weight="bold" text-anchor="middle" fill="#000" stroke="#000" stroke-width="0.25">50</text>
<line x1="303.15" y1="296.80" x2="303.15" y2="300.20" stroke="#000" stroke-width="1.35" stroke-linecap="butt"/>
<text x="303.15" y="306.90" font-size="6.5" font-weight="bold" text-anchor="middle" fill="#000" stroke="#000" stroke-width="0.25">100</text>
<line x1="336.98" y1="296.80" x2="336.98" y2="300.20" stroke="#000" stroke-width="1.35" stroke-linecap="butt"/>
<text x="336.98" y="306.90" font-size="6.5" font-weight="bold" text-anchor="middle" fill="#000" stroke="#000" stroke-width="0.25">150</text>
<line x1="370.80" y1="296.80" x2="370.80" y2="300.20" stroke="#000" stroke-width="1.35" stroke-linecap="butt"/>
<text x="370.80" y="306.90" font-size="6.5" font-weight="bold" text-anchor="middle" fill="#000" stroke="#000" stroke-width="0.25">200</text>
<text x="303.20" y="318.60" font-size="7.3" font-weight="bold" text-anchor="middle" fill="#000" stroke="#000" stroke-width="0.25">Time (s)</text>
<text x="207.40" y="239.70" font-size="8.9" font-weight="bold" text-anchor="middle" fill="#000" stroke="#000" stroke-width="0.25" transform="rotate(-90 207.40 239.70)">Platelet-associated</text>
<text x="218.20" y="239.50" font-size="8.9" font-weight="bold" text-anchor="middle" fill="#000" stroke="#000" stroke-width="0.25" transform="rotate(-90 218.20 239.50)">Fibrin (μm<tspan font-size="5.52" dy="-3.20">2</tspan><tspan dy="3.20">)</tspan></text>
<circle cx="256.7" cy="211.2" r="1.0" fill="#000"/>
<text x="266.80" y="213.40" font-size="7.3" font-weight="normal" text-anchor="start" fill="#000" stroke="#000" stroke-width="0.25">Wild-type</text>
<circle cx="319.6" cy="271.9" r="0.8" fill="#888"/>
<text x="329.90" y="274.70" font-size="7.3" font-weight="normal" text-anchor="start" fill="#000" stroke="#000" stroke-width="0.25">dIYF</text>
<line x1="428.60" y1="176.50" x2="428.60" y2="198.50" stroke="#000" stroke-width="1.35" stroke-linecap="butt"/>
<line x1="428.05" y1="198.50" x2="431.00" y2="198.50" stroke="#000" stroke-width="1.35" stroke-linecap="butt"/>
<line x1="428.05" y1="207.60" x2="431.00" y2="207.60" stroke="#000" stroke-width="1.35" stroke-linecap="butt"/>
<line x1="428.60" y1="207.60" x2="428.60" y2="297.25" stroke="#000" stroke-width="1.35" stroke-linecap="butt"/>
<line x1="428.05" y1="296.70" x2="518.00" y2="296.70" stroke="#000" stroke-width="1.35" stroke-linecap="butt"/>
<line x1="425.20" y1="176.50" x2="428.60" y2="176.50" stroke="#000" stroke-width="1.35" stroke-linecap="butt"/>
<text x="424.60" y="178.84" font-size="6.7" font-weight="bold" text-anchor="end" fill="#000" stroke="#000" stroke-width="0.25">700</text>
<line x1="425.20" y1="187.50" x2="428.60" y2="187.50" stroke="#000" stroke-width="1.35" stroke-linecap="butt"/>
<text x="424.60" y="189.84" font-size="6.7" font-weight="bold" text-anchor="end" fill="#000" stroke="#000" stroke-width="0.25">500</text>
<line x1="425.20" y1="198.50" x2="428.60" y2="198.50" stroke="#000" stroke-width="1.35" stroke-linecap="butt"/>
<text x="424.60" y="200.84" font-size="6.7" font-weight="bold" text-anchor="end" fill="#000" stroke="#000" stroke-width="0.25">300</text>
<line x1="425.20" y1="296.70" x2="428.60" y2="296.70" stroke="#000" stroke-width="1.35" stroke-linecap="butt"/>
<text x="424.60" y="299.05" font-size="6.7" font-weight="bold" text-anchor="end" fill="#000" stroke="#000" stroke-width="0.25">0</text>
<line x1="425.20" y1="278.96" x2="428.60" y2="278.96" stroke="#000" stroke-width="1.35" stroke-linecap="butt"/>
<text x="424.60" y="281.31" font-size="6.7" font-weight="bold" text-anchor="end" fill="#000" stroke="#000" stroke-width="0.25">50</text>
<line x1="425.20" y1="261.22" x2="428.60" y2="261.22" stroke="#000" stroke-width="1.35" stroke-linecap="butt"/>
<text x="424.60" y="263.56" font-size="6.7" font-weight="bold" text-anchor="end" fill="#000" stroke="#000" stroke-width="0.25">100</text>
<line x1="425.20" y1="243.48" x2="428.60" y2="243.48" stroke="#000" stroke-width="1.35" stroke-linecap="butt"/>
<text x="424.60" y="245.82" font-size="6.7" font-weight="bold" text-anchor="end" fill="#000" stroke="#000" stroke-width="0.25">150</text>
<line x1="425.20" y1="225.74" x2="428.60" y2="225.74" stroke="#000" stroke-width="1.35" stroke-linecap="butt"/>
<text x="424.60" y="228.08" font-size="6.7" font-weight="bold" text-anchor="end" fill="#000" stroke="#000" stroke-width="0.25">200</text>
<line x1="425.20" y1="208.00" x2="428.60" y2="208.00" stroke="#000" stroke-width="1.35" stroke-linecap="butt"/>
<text x="424.60" y="210.34" font-size="6.7" font-weight="bold" text-anchor="end" fill="#000" stroke="#000" stroke-width="0.25">250</text>
<text x="451.20" y="307.30" font-size="7.5" font-weight="bold" text-anchor="middle" fill="#000" stroke="#000" stroke-width="0.25">Wild-type</text>
<text x="495.20" y="307.30" font-size="7.5" font-weight="bold" text-anchor="middle" fill="#000" stroke="#000" stroke-width="0.25">dIYF</text>
<text x="398.80" y="236.70" font-size="7.9" font-weight="bold" text-anchor="middle" fill="#000" stroke="#000" stroke-width="0.25" transform="rotate(-90 398.80 236.70)">Platelet-associated</text>
<text x="408.00" y="236.70" font-size="7.9" font-weight="bold" text-anchor="middle" fill="#000" stroke="#000" stroke-width="0.25" transform="rotate(-90 408.00 236.70)">Fibrin Peak Area (μm<tspan font-size="4.90" dy="-2.84">2</tspan><tspan dy="2.84">)</tspan></text>
<polyline points="450.5,173.4 450.5,168.7 493.6,168.7 493.6,173.4" fill="none" stroke="#000" stroke-width="1.1"/>
<text x="472.80" y="164.60" font-size="8.1" font-weight="normal" text-anchor="middle" fill="#000" stroke="#000" stroke-width="0.25">p=0.013</text>
<circle cx="446.7" cy="197.4" r="1.35" fill="#000"/>
<circle cx="451.2" cy="197.4" r="1.35" fill="#000"/>
<circle cx="455.6" cy="193.1" r="1.35" fill="#000"/>
<circle cx="451.2" cy="212.4" r="1.35" fill="#000"/>
<circle cx="451" cy="229" r="1.35" fill="#000"/>
<circle cx="451" cy="240" r="1.35" fill="#000"/>
<circle cx="442.1" cy="251.5" r="1.35" fill="#000"/>
<circle cx="460.1" cy="251.5" r="1.35" fill="#000"/>
<circle cx="446.6" cy="252.6" r="1.35" fill="#000"/>
<circle cx="452" cy="251.8" r="1.35" fill="#000"/>
<circle cx="453.3" cy="254.3" r="1.35" fill="#000"/>
<circle cx="446.6" cy="258.6" r="1.35" fill="#000"/>
<circle cx="451.1" cy="264.5" r="1.35" fill="#000"/>
<circle cx="451.1" cy="270.1" r="1.35" fill="#000"/>
<circle cx="442.1" cy="276.1" r="1.35" fill="#000"/>
<circle cx="460.1" cy="276.1" r="1.35" fill="#000"/>
<circle cx="446.6" cy="277" r="1.35" fill="#000"/>
<circle cx="451.1" cy="278.1" r="1.35" fill="#000"/>
<circle cx="451.1" cy="284.1" r="1.35" fill="#000"/>
<circle cx="448.6" cy="287.1" r="1.35" fill="#000"/>
<circle cx="453.3" cy="290.9" r="1.35" fill="#000"/>
<circle cx="446.6" cy="294.3" r="1.35" fill="#000"/>
<circle cx="451.1" cy="295.3" r="1.35" fill="#000"/>
<circle cx="455.4" cy="295.3" r="1.35" fill="#000"/>
<line x1="451.30" y1="251.00" x2="451.30" y2="276.40" stroke="#000" stroke-width="1.2" stroke-linecap="butt"/>
<line x1="446.90" y1="251.00" x2="456.20" y2="251.00" stroke="#000" stroke-width="1.2" stroke-linecap="butt"/>
<line x1="446.00" y1="276.40" x2="455.40" y2="276.40" stroke="#000" stroke-width="1.2" stroke-linecap="butt"/>
<line x1="443.30" y1="262.80" x2="459.00" y2="262.80" stroke="#000" stroke-width="1.8" stroke-linecap="butt"/>
<polygon points="495.70,187.00 497.00,189.34 494.40,189.34" fill="#000"/>
<polygon points="495.70,242.40 497.00,244.74 494.40,244.74" fill="#000"/>
<polygon points="495.70,254.50 497.00,256.84 494.40,256.84" fill="#000"/>
<polygon points="493.30,260.70 494.60,263.04 492.00,263.04" fill="#000"/>
<polygon points="491.40,276.90 492.70,279.24 490.10,279.24" fill="#000"/>
<polygon points="500.00,275.90 501.30,278.24 498.70,278.24" fill="#000"/>
<polygon points="491.40,289.00 492.70,291.34 490.10,291.34" fill="#000"/>
<polygon points="500.00,288.60 501.30,290.94 498.70,290.94" fill="#000"/>
<polygon points="506.90,291.80 508.20,294.14 505.60,294.14" fill="#000"/>
<polygon points="483.60,293.30 484.90,295.64 482.30,295.64" fill="#000"/>
<polygon points="487.30,293.30 488.60,295.64 486.00,295.64" fill="#000"/>
<polygon points="491.00,293.30 492.30,295.64 489.70,295.64" fill="#000"/>
<polygon points="494.80,293.30 496.10,295.64 493.50,295.64" fill="#000"/>
<polygon points="498.50,293.30 499.80,295.64 497.20,295.64" fill="#000"/>
<polygon points="502.20,293.30 503.50,295.64 500.90,295.64" fill="#000"/>
<line x1="495.60" y1="263.30" x2="495.60" y2="296.00" stroke="#000" stroke-width="1.2" stroke-linecap="butt"/>
<line x1="492.90" y1="263.30" x2="500.30" y2="263.30" stroke="#000" stroke-width="1.2" stroke-linecap="butt"/>
<line x1="488.20" y1="284.80" x2="503.10" y2="284.80" stroke="#000" stroke-width="1.9" stroke-linecap="butt"/>
</svg></body></html>
